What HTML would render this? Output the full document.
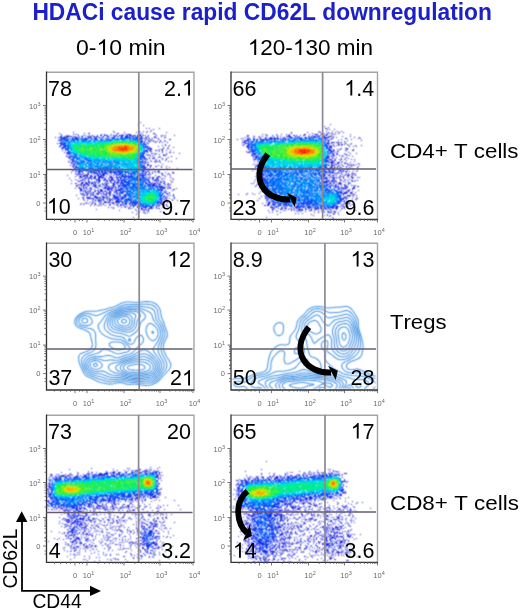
<!DOCTYPE html>
<html><head><meta charset="utf-8"><style>
html,body{margin:0;padding:0;background:#fff;width:520px;height:610px;overflow:hidden}
svg{display:block;will-change:transform}
text{font-family:"Liberation Sans",sans-serif;font-kerning:none}
</style></head><body>
<svg width="520" height="610" viewBox="0 0 520 610">
<rect width="520" height="610" fill="#fff"/>
<path d="M46.5 72.3H194.0V219.0" fill="none" stroke="#a4a4a4" stroke-width="1.4"/>
<path d="M46.5 71.6V219.4H194.6" fill="none" stroke="#333" stroke-width="1.3"/>
<path d="M43.0 105.5h3.5 M43.0 139.5h3.5 M43.0 174.5h3.5 M43.0 203.0h3.5 M44.5 129.3h2 M44.5 123.3h2 M44.5 119.0h2 M44.5 115.7h2 M44.5 113.0h2 M44.5 110.8h2 M44.5 108.8h2 M44.5 107.1h2 M44.5 164.0h2 M44.5 157.8h2 M44.5 153.4h2 M44.5 150.0h2 M44.5 147.3h2 M44.5 144.9h2 M44.5 142.9h2 M44.5 141.1h2 M44.5 194.4h2 M44.5 189.4h2 M44.5 185.8h2 M44.5 183.1h2 M44.5 180.8h2 M44.5 178.9h2 M44.5 177.3h2 M44.5 175.8h2 M44.5 211.0h2 M44.5 208.0h2 M44.5 198.0h2 M44.5 195.0h2 M44.5 190.0h2 M44.5 183.0h2 M75.0 219.0v3.5 M87.0 219.0v3.5 M124.0 219.0v3.5 M160.0 219.0v3.5 M193.0 219.0v3.5 M98.1 219.0v2 M104.7 219.0v2 M109.3 219.0v2 M112.9 219.0v2 M115.8 219.0v2 M118.3 219.0v2 M120.4 219.0v2 M122.3 219.0v2 M134.8 219.0v2 M141.2 219.0v2 M145.7 219.0v2 M149.2 219.0v2 M152.0 219.0v2 M154.4 219.0v2 M156.5 219.0v2 M158.4 219.0v2 M169.9 219.0v2 M175.7 219.0v2 M179.9 219.0v2 M183.1 219.0v2 M185.7 219.0v2 M187.9 219.0v2 M189.8 219.0v2 M191.5 219.0v2 M54.5 219.0v2 M60.5 219.0v2 M66.5 219.0v2 M70.5 219.0v2 M79.5 219.0v2 M82.5 219.0v2" stroke="#555" stroke-width="0.8" fill="none"/>
<text x="40.5" y="108.5" font-size="7.5" fill="#6a6a6a" text-anchor="end">10<tspan dy="-3" font-size="5.5">3</tspan></text>
<text x="40.5" y="142.5" font-size="7.5" fill="#6a6a6a" text-anchor="end">10<tspan dy="-3" font-size="5.5">2</tspan></text>
<text x="40.5" y="177.5" font-size="7.5" fill="#6a6a6a" text-anchor="end">10<tspan dy="-3" font-size="5.5">1</tspan></text>
<text x="40.5" y="205.8" font-size="7.5" fill="#6a6a6a" text-anchor="end">0</text>
<text x="75.0" y="235.0" font-size="7.5" fill="#6a6a6a" text-anchor="middle">0</text>
<text x="88.5" y="235.0" font-size="7.5" fill="#6a6a6a" text-anchor="middle">10<tspan dy="-3" font-size="5.5">1</tspan></text>
<text x="125.5" y="235.0" font-size="7.5" fill="#6a6a6a" text-anchor="middle">10<tspan dy="-3" font-size="5.5">2</tspan></text>
<text x="161.5" y="235.0" font-size="7.5" fill="#6a6a6a" text-anchor="middle">10<tspan dy="-3" font-size="5.5">3</tspan></text>
<text x="194.5" y="235.0" font-size="7.5" fill="#6a6a6a" text-anchor="middle">10<tspan dy="-3" font-size="5.5">4</tspan></text>
<path d="M231.0 72.3H377.5V219.0" fill="none" stroke="#a4a4a4" stroke-width="1.4"/>
<path d="M231.0 71.6V219.4H378.1" fill="none" stroke="#333" stroke-width="1.3"/>
<path d="M227.5 105.5h3.5 M227.5 139.5h3.5 M227.5 174.5h3.5 M227.5 203.0h3.5 M229.0 129.3h2 M229.0 123.3h2 M229.0 119.0h2 M229.0 115.7h2 M229.0 113.0h2 M229.0 110.8h2 M229.0 108.8h2 M229.0 107.1h2 M229.0 164.0h2 M229.0 157.8h2 M229.0 153.4h2 M229.0 150.0h2 M229.0 147.3h2 M229.0 144.9h2 M229.0 142.9h2 M229.0 141.1h2 M229.0 194.4h2 M229.0 189.4h2 M229.0 185.8h2 M229.0 183.1h2 M229.0 180.8h2 M229.0 178.9h2 M229.0 177.3h2 M229.0 175.8h2 M229.0 211.0h2 M229.0 208.0h2 M229.0 198.0h2 M229.0 195.0h2 M229.0 190.0h2 M229.0 183.0h2 M259.5 219.0v3.5 M271.5 219.0v3.5 M308.5 219.0v3.5 M344.5 219.0v3.5 M377.5 219.0v3.5 M282.6 219.0v2 M289.2 219.0v2 M293.8 219.0v2 M297.4 219.0v2 M300.3 219.0v2 M302.8 219.0v2 M304.9 219.0v2 M306.8 219.0v2 M319.3 219.0v2 M325.7 219.0v2 M330.2 219.0v2 M333.7 219.0v2 M336.5 219.0v2 M338.9 219.0v2 M341.0 219.0v2 M342.9 219.0v2 M354.4 219.0v2 M360.2 219.0v2 M364.4 219.0v2 M367.6 219.0v2 M370.2 219.0v2 M372.4 219.0v2 M374.3 219.0v2 M376.0 219.0v2 M239.0 219.0v2 M245.0 219.0v2 M251.0 219.0v2 M255.0 219.0v2 M264.0 219.0v2 M267.0 219.0v2" stroke="#555" stroke-width="0.8" fill="none"/>
<text x="225.0" y="108.5" font-size="7.5" fill="#6a6a6a" text-anchor="end">10<tspan dy="-3" font-size="5.5">3</tspan></text>
<text x="225.0" y="142.5" font-size="7.5" fill="#6a6a6a" text-anchor="end">10<tspan dy="-3" font-size="5.5">2</tspan></text>
<text x="225.0" y="177.5" font-size="7.5" fill="#6a6a6a" text-anchor="end">10<tspan dy="-3" font-size="5.5">1</tspan></text>
<text x="225.0" y="205.8" font-size="7.5" fill="#6a6a6a" text-anchor="end">0</text>
<text x="259.5" y="235.0" font-size="7.5" fill="#6a6a6a" text-anchor="middle">0</text>
<text x="273.0" y="235.0" font-size="7.5" fill="#6a6a6a" text-anchor="middle">10<tspan dy="-3" font-size="5.5">1</tspan></text>
<text x="310.0" y="235.0" font-size="7.5" fill="#6a6a6a" text-anchor="middle">10<tspan dy="-3" font-size="5.5">2</tspan></text>
<text x="346.0" y="235.0" font-size="7.5" fill="#6a6a6a" text-anchor="middle">10<tspan dy="-3" font-size="5.5">3</tspan></text>
<text x="379.0" y="235.0" font-size="7.5" fill="#6a6a6a" text-anchor="middle">10<tspan dy="-3" font-size="5.5">4</tspan></text>
<path d="M46.5 243.3H194.0V389.6" fill="none" stroke="#a4a4a4" stroke-width="1.4"/>
<path d="M46.5 242.6V390.0H194.6" fill="none" stroke="#333" stroke-width="1.3"/>
<path d="M43.0 276.1h3.5 M43.0 310.1h3.5 M43.0 345.1h3.5 M43.0 373.6h3.5 M44.5 299.9h2 M44.5 293.9h2 M44.5 289.6h2 M44.5 286.3h2 M44.5 283.6h2 M44.5 281.4h2 M44.5 279.4h2 M44.5 277.7h2 M44.5 334.6h2 M44.5 328.4h2 M44.5 324.0h2 M44.5 320.6h2 M44.5 317.9h2 M44.5 315.5h2 M44.5 313.5h2 M44.5 311.7h2 M44.5 365.0h2 M44.5 360.0h2 M44.5 356.4h2 M44.5 353.7h2 M44.5 351.4h2 M44.5 349.5h2 M44.5 347.9h2 M44.5 346.4h2 M44.5 381.6h2 M44.5 378.6h2 M44.5 368.6h2 M44.5 365.6h2 M44.5 360.6h2 M44.5 353.6h2 M75.0 389.6v3.5 M87.0 389.6v3.5 M124.0 389.6v3.5 M160.0 389.6v3.5 M193.0 389.6v3.5 M98.1 389.6v2 M104.7 389.6v2 M109.3 389.6v2 M112.9 389.6v2 M115.8 389.6v2 M118.3 389.6v2 M120.4 389.6v2 M122.3 389.6v2 M134.8 389.6v2 M141.2 389.6v2 M145.7 389.6v2 M149.2 389.6v2 M152.0 389.6v2 M154.4 389.6v2 M156.5 389.6v2 M158.4 389.6v2 M169.9 389.6v2 M175.7 389.6v2 M179.9 389.6v2 M183.1 389.6v2 M185.7 389.6v2 M187.9 389.6v2 M189.8 389.6v2 M191.5 389.6v2 M54.5 389.6v2 M60.5 389.6v2 M66.5 389.6v2 M70.5 389.6v2 M79.5 389.6v2 M82.5 389.6v2" stroke="#555" stroke-width="0.8" fill="none"/>
<text x="40.5" y="279.1" font-size="7.5" fill="#6a6a6a" text-anchor="end">10<tspan dy="-3" font-size="5.5">3</tspan></text>
<text x="40.5" y="313.1" font-size="7.5" fill="#6a6a6a" text-anchor="end">10<tspan dy="-3" font-size="5.5">2</tspan></text>
<text x="40.5" y="348.1" font-size="7.5" fill="#6a6a6a" text-anchor="end">10<tspan dy="-3" font-size="5.5">1</tspan></text>
<text x="40.5" y="376.4" font-size="7.5" fill="#6a6a6a" text-anchor="end">0</text>
<text x="75.0" y="405.6" font-size="7.5" fill="#6a6a6a" text-anchor="middle">0</text>
<text x="88.5" y="405.6" font-size="7.5" fill="#6a6a6a" text-anchor="middle">10<tspan dy="-3" font-size="5.5">1</tspan></text>
<text x="125.5" y="405.6" font-size="7.5" fill="#6a6a6a" text-anchor="middle">10<tspan dy="-3" font-size="5.5">2</tspan></text>
<text x="161.5" y="405.6" font-size="7.5" fill="#6a6a6a" text-anchor="middle">10<tspan dy="-3" font-size="5.5">3</tspan></text>
<text x="194.5" y="405.6" font-size="7.5" fill="#6a6a6a" text-anchor="middle">10<tspan dy="-3" font-size="5.5">4</tspan></text>
<path d="M231.0 243.3H377.5V389.6" fill="none" stroke="#a4a4a4" stroke-width="1.4"/>
<path d="M231.0 242.6V390.0H378.1" fill="none" stroke="#333" stroke-width="1.3"/>
<path d="M227.5 276.1h3.5 M227.5 310.1h3.5 M227.5 345.1h3.5 M227.5 373.6h3.5 M229.0 299.9h2 M229.0 293.9h2 M229.0 289.6h2 M229.0 286.3h2 M229.0 283.6h2 M229.0 281.4h2 M229.0 279.4h2 M229.0 277.7h2 M229.0 334.6h2 M229.0 328.4h2 M229.0 324.0h2 M229.0 320.6h2 M229.0 317.9h2 M229.0 315.5h2 M229.0 313.5h2 M229.0 311.7h2 M229.0 365.0h2 M229.0 360.0h2 M229.0 356.4h2 M229.0 353.7h2 M229.0 351.4h2 M229.0 349.5h2 M229.0 347.9h2 M229.0 346.4h2 M229.0 381.6h2 M229.0 378.6h2 M229.0 368.6h2 M229.0 365.6h2 M229.0 360.6h2 M229.0 353.6h2 M259.5 389.6v3.5 M271.5 389.6v3.5 M308.5 389.6v3.5 M344.5 389.6v3.5 M377.5 389.6v3.5 M282.6 389.6v2 M289.2 389.6v2 M293.8 389.6v2 M297.4 389.6v2 M300.3 389.6v2 M302.8 389.6v2 M304.9 389.6v2 M306.8 389.6v2 M319.3 389.6v2 M325.7 389.6v2 M330.2 389.6v2 M333.7 389.6v2 M336.5 389.6v2 M338.9 389.6v2 M341.0 389.6v2 M342.9 389.6v2 M354.4 389.6v2 M360.2 389.6v2 M364.4 389.6v2 M367.6 389.6v2 M370.2 389.6v2 M372.4 389.6v2 M374.3 389.6v2 M376.0 389.6v2 M239.0 389.6v2 M245.0 389.6v2 M251.0 389.6v2 M255.0 389.6v2 M264.0 389.6v2 M267.0 389.6v2" stroke="#555" stroke-width="0.8" fill="none"/>
<text x="225.0" y="279.1" font-size="7.5" fill="#6a6a6a" text-anchor="end">10<tspan dy="-3" font-size="5.5">3</tspan></text>
<text x="225.0" y="313.1" font-size="7.5" fill="#6a6a6a" text-anchor="end">10<tspan dy="-3" font-size="5.5">2</tspan></text>
<text x="225.0" y="348.1" font-size="7.5" fill="#6a6a6a" text-anchor="end">10<tspan dy="-3" font-size="5.5">1</tspan></text>
<text x="225.0" y="376.4" font-size="7.5" fill="#6a6a6a" text-anchor="end">0</text>
<text x="259.5" y="405.6" font-size="7.5" fill="#6a6a6a" text-anchor="middle">0</text>
<text x="273.0" y="405.6" font-size="7.5" fill="#6a6a6a" text-anchor="middle">10<tspan dy="-3" font-size="5.5">1</tspan></text>
<text x="310.0" y="405.6" font-size="7.5" fill="#6a6a6a" text-anchor="middle">10<tspan dy="-3" font-size="5.5">2</tspan></text>
<text x="346.0" y="405.6" font-size="7.5" fill="#6a6a6a" text-anchor="middle">10<tspan dy="-3" font-size="5.5">3</tspan></text>
<text x="379.0" y="405.6" font-size="7.5" fill="#6a6a6a" text-anchor="middle">10<tspan dy="-3" font-size="5.5">4</tspan></text>
<path d="M46.5 415.3H194.0V562.0" fill="none" stroke="#a4a4a4" stroke-width="1.4"/>
<path d="M46.5 414.6V562.4H194.6" fill="none" stroke="#333" stroke-width="1.3"/>
<path d="M43.0 448.5h3.5 M43.0 482.5h3.5 M43.0 517.5h3.5 M43.0 546.0h3.5 M44.5 472.3h2 M44.5 466.3h2 M44.5 462.0h2 M44.5 458.7h2 M44.5 456.0h2 M44.5 453.8h2 M44.5 451.8h2 M44.5 450.1h2 M44.5 507.0h2 M44.5 500.8h2 M44.5 496.4h2 M44.5 493.0h2 M44.5 490.3h2 M44.5 487.9h2 M44.5 485.9h2 M44.5 484.1h2 M44.5 537.4h2 M44.5 532.4h2 M44.5 528.8h2 M44.5 526.1h2 M44.5 523.8h2 M44.5 521.9h2 M44.5 520.3h2 M44.5 518.8h2 M44.5 554.0h2 M44.5 551.0h2 M44.5 541.0h2 M44.5 538.0h2 M44.5 533.0h2 M44.5 526.0h2 M75.0 562.0v3.5 M87.0 562.0v3.5 M124.0 562.0v3.5 M160.0 562.0v3.5 M193.0 562.0v3.5 M98.1 562.0v2 M104.7 562.0v2 M109.3 562.0v2 M112.9 562.0v2 M115.8 562.0v2 M118.3 562.0v2 M120.4 562.0v2 M122.3 562.0v2 M134.8 562.0v2 M141.2 562.0v2 M145.7 562.0v2 M149.2 562.0v2 M152.0 562.0v2 M154.4 562.0v2 M156.5 562.0v2 M158.4 562.0v2 M169.9 562.0v2 M175.7 562.0v2 M179.9 562.0v2 M183.1 562.0v2 M185.7 562.0v2 M187.9 562.0v2 M189.8 562.0v2 M191.5 562.0v2 M54.5 562.0v2 M60.5 562.0v2 M66.5 562.0v2 M70.5 562.0v2 M79.5 562.0v2 M82.5 562.0v2" stroke="#555" stroke-width="0.8" fill="none"/>
<text x="40.5" y="451.5" font-size="7.5" fill="#6a6a6a" text-anchor="end">10<tspan dy="-3" font-size="5.5">3</tspan></text>
<text x="40.5" y="485.5" font-size="7.5" fill="#6a6a6a" text-anchor="end">10<tspan dy="-3" font-size="5.5">2</tspan></text>
<text x="40.5" y="520.5" font-size="7.5" fill="#6a6a6a" text-anchor="end">10<tspan dy="-3" font-size="5.5">1</tspan></text>
<text x="40.5" y="548.8" font-size="7.5" fill="#6a6a6a" text-anchor="end">0</text>
<text x="75.0" y="578.0" font-size="7.5" fill="#6a6a6a" text-anchor="middle">0</text>
<text x="88.5" y="578.0" font-size="7.5" fill="#6a6a6a" text-anchor="middle">10<tspan dy="-3" font-size="5.5">1</tspan></text>
<text x="125.5" y="578.0" font-size="7.5" fill="#6a6a6a" text-anchor="middle">10<tspan dy="-3" font-size="5.5">2</tspan></text>
<text x="161.5" y="578.0" font-size="7.5" fill="#6a6a6a" text-anchor="middle">10<tspan dy="-3" font-size="5.5">3</tspan></text>
<text x="194.5" y="578.0" font-size="7.5" fill="#6a6a6a" text-anchor="middle">10<tspan dy="-3" font-size="5.5">4</tspan></text>
<path d="M231.0 415.3H377.5V562.0" fill="none" stroke="#a4a4a4" stroke-width="1.4"/>
<path d="M231.0 414.6V562.4H378.1" fill="none" stroke="#333" stroke-width="1.3"/>
<path d="M227.5 448.5h3.5 M227.5 482.5h3.5 M227.5 517.5h3.5 M227.5 546.0h3.5 M229.0 472.3h2 M229.0 466.3h2 M229.0 462.0h2 M229.0 458.7h2 M229.0 456.0h2 M229.0 453.8h2 M229.0 451.8h2 M229.0 450.1h2 M229.0 507.0h2 M229.0 500.8h2 M229.0 496.4h2 M229.0 493.0h2 M229.0 490.3h2 M229.0 487.9h2 M229.0 485.9h2 M229.0 484.1h2 M229.0 537.4h2 M229.0 532.4h2 M229.0 528.8h2 M229.0 526.1h2 M229.0 523.8h2 M229.0 521.9h2 M229.0 520.3h2 M229.0 518.8h2 M229.0 554.0h2 M229.0 551.0h2 M229.0 541.0h2 M229.0 538.0h2 M229.0 533.0h2 M229.0 526.0h2 M259.5 562.0v3.5 M271.5 562.0v3.5 M308.5 562.0v3.5 M344.5 562.0v3.5 M377.5 562.0v3.5 M282.6 562.0v2 M289.2 562.0v2 M293.8 562.0v2 M297.4 562.0v2 M300.3 562.0v2 M302.8 562.0v2 M304.9 562.0v2 M306.8 562.0v2 M319.3 562.0v2 M325.7 562.0v2 M330.2 562.0v2 M333.7 562.0v2 M336.5 562.0v2 M338.9 562.0v2 M341.0 562.0v2 M342.9 562.0v2 M354.4 562.0v2 M360.2 562.0v2 M364.4 562.0v2 M367.6 562.0v2 M370.2 562.0v2 M372.4 562.0v2 M374.3 562.0v2 M376.0 562.0v2 M239.0 562.0v2 M245.0 562.0v2 M251.0 562.0v2 M255.0 562.0v2 M264.0 562.0v2 M267.0 562.0v2" stroke="#555" stroke-width="0.8" fill="none"/>
<text x="225.0" y="451.5" font-size="7.5" fill="#6a6a6a" text-anchor="end">10<tspan dy="-3" font-size="5.5">3</tspan></text>
<text x="225.0" y="485.5" font-size="7.5" fill="#6a6a6a" text-anchor="end">10<tspan dy="-3" font-size="5.5">2</tspan></text>
<text x="225.0" y="520.5" font-size="7.5" fill="#6a6a6a" text-anchor="end">10<tspan dy="-3" font-size="5.5">1</tspan></text>
<text x="225.0" y="548.8" font-size="7.5" fill="#6a6a6a" text-anchor="end">0</text>
<text x="259.5" y="578.0" font-size="7.5" fill="#6a6a6a" text-anchor="middle">0</text>
<text x="273.0" y="578.0" font-size="7.5" fill="#6a6a6a" text-anchor="middle">10<tspan dy="-3" font-size="5.5">1</tspan></text>
<text x="310.0" y="578.0" font-size="7.5" fill="#6a6a6a" text-anchor="middle">10<tspan dy="-3" font-size="5.5">2</tspan></text>
<text x="346.0" y="578.0" font-size="7.5" fill="#6a6a6a" text-anchor="middle">10<tspan dy="-3" font-size="5.5">3</tspan></text>
<text x="379.0" y="578.0" font-size="7.5" fill="#6a6a6a" text-anchor="middle">10<tspan dy="-3" font-size="5.5">4</tspan></text>
<defs><filter id="bl" x="0" y="0" width="520" height="610" filterUnits="userSpaceOnUse"><feConvolveMatrix order="3" kernelMatrix="1 2 1 2 5 2 1 2 1" divisor="17" edgeMode="none"/></filter><filter id="bl3" x="0" y="0" width="520" height="610" filterUnits="userSpaceOnUse"><feConvolveMatrix order="3" kernelMatrix="1 2 1 2 8 2 1 2 1" divisor="20" edgeMode="none"/></filter></defs>
<g filter="url(#bl)">
<path d="M0 0.5m146 128h1m-33 4h1m-37 3h1m11 1h1m50 0h1m7 3h1m19 0h1m-17 2h1m-92 6h1m88 2h1m9 0h1m-14 5h1m-81 3h1m99 0h1m-13 2h1m10 10h1m-96 1h1m81 1h1m-3 1h1m20 0h1m-79 5h1m3 1h1m70 2h1m1 1h1m-102 2h1m16 1h1m-10 1h1m-4 1h1m87 1h1m11 1h1m-74 5h1m-28 2h1m10 0h1m85 1h1m-96 2h1m11 0h1m-10 5h1m21 1h1m20 2h1m21 3h1m1 2h1" stroke="#2929a3" stroke-width="1" fill="none"/>
<path d="M0 0.5m140 122h1m-2 9h1m-4 1h1m29 0h1m-108 1h1m24 0h1m4 0h1m64 0h1m-28 1h1m1 0h1m10 0h1m-52 1h1m14 0h1m1 0h2m6 0h1m15 0h1m12 0h1m4 0h1m7 0h1m6 0h1m-100 1h1m2 0h1m1 0h1m3 0h1m19 0h1m9 0h1m50 0h1m-100 1h1m40 0h1m45 0h1m13 0h1m8 0h1m-107 1h1m3 0h1m11 0h1m68 0h1m1 0h1m4 1h1m6 0h1m-8 1h1m8 0h1m3 0h1m0 1h1m-105 1h1m82 0h1m1 0h1m-90 1h1m88 1h1m-87 1h1m101 0h1m2 0h1m3 0h1m-2 1h1m4 1h1m-111 1h1m86 0h1m12 0h1m3 0h2m-10 1h1m2 0h1m-14 1h1m5 0h1m10 0h1m3 0h1m-21 1h1m11 0h1m6 1h1m-19 1h1m2 0h1m11 1h1m-17 1h1m2 0h1m9 0h1m-6 2h1m-90 1h1m75 0h1m20 0h1m9 0h1m-107 2h1m75 0h1m3 0h1m-82 2h1m75 0h1m2 0h1m6 0h1m4 0h1m-16 1h1m16 1h1m-93 1h1m87 0h1m-3 1h1m-11 1h1m3 0h1m18 0h1m-100 2h1m3 0h1m83 1h1m-11 1h1m9 0h1m-67 1h1m3 0h1m62 0h1m-65 1h1m19 0h1m52 0h1m4 0h1m-5 1h1m-103 1h1m9 0h1m6 0h1m15 0h1m1 0h1m6 0h1m52 0h1m-77 1h1m-5 1h1m26 0h1m39 0h2m6 0h1m-89 1h1m14 0h1m72 1h1m3 0h1m-82 1h1m19 0h1m-12 1h1m16 0h1m55 0h1m-80 1h1m33 0h1m32 0h1m1 0h1m2 0h1m-78 2h1m38 0h1m40 0h1m-83 1h1m18 1h1m3 0h1m5 0h1m2 0h2m5 0h1m3 0h1m-41 1h1m5 0h1m10 0h1m11 0h1m56 0h1m-91 1h1m3 0h1m1 1h1m92 0h1m-95 1h1m19 0h1m-21 1h1m7 0h1m16 0h1m-21 1h1m6 0h1m16 0h1m5 0h1m-36 1h1m5 0h1m14 0h1m6 0h1m8 0h1m45 0h1m-78 2h1m86 0h1m-78 1h1m20 0h1m-23 1h1m3 0h1m2 0h1m4 0h1m59 0h1m-85 1h1m4 0h1m4 0h1m13 0h1m61 0h1m-71 1h1m7 0h1m1 0h2m-24 1h1m12 0h1m9 0h1m1 0h1m53 0h1m5 0h1m4 0h1m-78 1h1m3 0h1m60 0h1m1 0h1m-78 1h1m14 0h1m61 0h1m2 0h1m-85 1h1m1 0h1m74 0h1m-84 1h1m14 0h1m3 0h1m16 0h1m-12 1h1m3 0h1m10 0h1m-3 1h1m10 1h1m21 0h1m16 0h1m-56 1h1m31 0h1m12 0h2m-18 1h1m-7 1h1m11 0h1m-6 2h2m-7 5h1" stroke="#2c2cbd" stroke-width="1" fill="none"/>
<path d="M0 0.5m138 124h1m4 1h1m15 3h1m-9 2h1m-14 1h1m4 0h1m3 0h1m-75 1h1m50 0h1m-37 1h1m29 0h1m23 0h1m10 0h1m-93 1h1m15 0h1m23 0h1m9 0h1m13 0h1m2 0h1m1 0h1m7 0h2m15 0h1m-90 1h1m1 0h1m14 0h1m1 0h1m11 0h1m7 0h1m20 0h1m13 0h1m4 0h1m15 0h1m12 0h1m-115 1h1m7 0h1m2 0h1m3 0h1m2 0h1m3 0h1m4 0h2m26 0h1m1 0h1m3 0h2m24 0h1m-90 1h1m1 0h2m3 0h2m7 0h1m47 0h1m2 0h1m4 0h1m8 0h1m1 0h1m3 0h2m7 0h2m-95 1h1m16 0h1m12 0h1m66 0h1m-76 1h1m61 0h1m1 0h1m-87 1h1m79 0h1m11 0h1m-10 1h1m4 0h1m5 0h1m3 1h1m-100 1h1m82 0h1m-81 1h1m101 0h1m-105 1h1m-3 1h1m103 1h1m-103 1h2m2 0h1m84 1h1m-1 1h1m5 0h1m1 0h1m3 0h1m-4 1h1m-96 1h1m3 0h1m101 0h1m-104 1h1m-2 1h1m92 0h1m3 0h1m-15 1h1m14 0h2m-99 1h1m3 0h1m80 0h1m-4 1h1m4 0h1m5 0h1m-12 1h1m3 0h2m7 0h1m-92 1h1m75 0h1m14 0h1m3 0h1m-12 1h1m9 0h1m-98 1h1m4 0h1m80 0h1m4 0h1m8 0h1m-27 1h1m-71 2h1m0 1h1m73 0h2m2 0h1m-79 1h1m2 0h1m73 0h1m4 0h1m5 1h1m-14 1h1m4 0h1m12 0h1m10 0h1m-35 1h1m2 0h1m3 0h1m-58 1h1m58 0h1m2 0h1m3 0h1m-85 1h1m5 0h1m19 0h1m13 0h1m-45 1h1m10 0h1m15 0h1m13 0h1m36 0h1m15 0h1m6 0h1m-94 1h1m23 0h1m2 0h1m9 0h1m24 0h1m3 0h1m6 0h1m8 0h1m-83 1h1m1 0h2m5 0h1m4 0h1m9 0h2m2 0h1m8 0h1m2 0h1m28 0h1m13 0h1m4 0h1m-81 1h1m2 0h1m4 0h1m8 0h1m44 0h1m5 0h1m8 0h1m5 0h1m-91 1h2m1 0h1m3 0h1m2 0h1m9 0h2m1 0h1m2 0h1m3 0h2m4 0h1m8 0h1m1 0h1m31 0h1m5 0h1m-79 1h1m1 0h3m6 0h1m12 0h1m40 0h1m5 0h1m1 0h1m-82 1h1m5 0h1m7 0h1m4 0h1m12 0h2m4 0h1m28 0h1m5 0h1m4 0h1m4 0h1m9 0h1m-98 1h1m6 0h2m7 0h1m12 0h2m3 0h1m6 0h1m1 0h1m29 0h2m5 0h2m1 0h1m14 0h1m-103 1h1m5 0h1m3 0h1m2 0h1m3 0h1m7 0h1m9 0h1m2 0h1m9 0h1m33 0h2m3 0h1m-45 1h1m2 0h2m30 0h1m6 0h1m1 0h1m1 0h1m3 0h1m-84 1h1m3 0h2m6 0h1m3 0h1m7 0h1m4 0h1m3 0h1m45 0h2m2 0h1m6 0h1m-96 1h1m8 0h1m5 0h1m3 0h1m2 0h1m7 0h2m14 0h1m30 0h1m5 0h1m3 0h2m3 0h1m-89 1h2m1 0h1m2 0h2m12 0h1m4 0h2m20 0h1m22 0h1m2 0h1m2 0h1m2 0h2m6 0h2m1 0h1m-90 1h1m2 0h2m2 0h2m5 0h2m9 0h1m7 0h1m3 0h1m3 0h1m29 0h1m1 0h1m-74 1h1m1 0h1m8 0h1m9 0h1m8 0h1m47 0h3m5 0h1m-90 1h1m16 0h1m1 0h1m7 0h1m1 0h1m5 0h1m46 0h1m9 0h1m-90 1h1m1 0h2m4 0h1m8 0h1m5 0h2m2 0h4m3 0h1m44 0h1m6 0h2m1 0h1m-80 1h1m2 0h1m14 0h1m4 0h1m46 0h1m11 0h1m-84 1h1m4 0h1m1 0h1m3 0h2m2 0h1m1 0h1m7 0h1m1 0h1m54 0h1m-90 1h1m3 0h1m2 0h1m4 0h1m5 0h1m7 0h2m5 0h1m47 0h1m-79 1h1m6 0h1m4 0h1m7 0h2m9 0h1m4 0h1m41 0h1m4 0h1m-83 1h1m9 0h2m7 0h1m14 0h1m44 0h2m-84 1h1m12 0h1m6 0h2m6 0h1m3 0h1m56 0h1m-82 1h1m2 0h1m13 0h1m3 0h1m54 0h1m1 0h1m-69 1h1m10 0h1m52 0h1m-84 1h1m2 0h2m9 0h2m18 0h1m4 0h1m42 0h1m8 0h1m-88 1h1m3 0h1m4 0h2m5 0h1m5 0h1m2 0h1m1 0h1m8 0h1m42 0h1m-74 1h1m19 0h1m1 0h1m2 0h1m10 0h1m42 0h1m-89 1h1m7 0h1m5 0h1m4 0h1m12 0h2m-9 1h1m8 0h1m-27 1h1m13 0h3m1 0h1m4 0h2m11 0h1m-45 1h1m7 0h1m2 0h1m4 0h1m21 0h1m7 0h1m30 0h1m-71 1h1m17 0h1m7 0h1m13 0h1m25 0h1m1 0h1m1 0h3m-74 1h1m3 0h1m2 0h1m1 0h1m1 0h1m39 0h1m-12 1h1m2 0h1m3 0h1m20 0h1m8 0h1m-43 1h1m11 0h1m5 0h1m6 0h1m2 0h1m8 0h1m-35 1h1m21 0h3m3 0h1m-13 1h1m-26 1h1m26 0h1m-15 2h1m14 0h1m-12 2h1m-4 3h1" stroke="#2525d8" stroke-width="1" fill="none"/>
<path d="M0 0.5m149 128h1m3 1h1m-41 2h1m36 0h1m-5 1h1m-30 1h1m-43 1h1m28 0h1m11 0h1m5 0h1m-31 1h1m7 0h2m8 0h1m2 0h1m2 0h1m2 0h2m2 0h1m5 0h1m1 0h1m2 0h1m4 0h1m2 0h1m22 0h1m-100 1h1m3 0h1m10 0h1m9 0h1m2 0h1m12 0h1m6 0h1m3 0h1m6 0h3m1 0h1m1 0h1m8 0h1m20 0h1m-99 1h2m2 0h1m4 0h1m2 0h1m3 0h1m9 0h2m3 0h1m4 0h1m2 0h1m4 0h1m3 0h1m1 0h1m6 0h1m5 0h3m6 0h1m12 0h1m15 0h1m-96 1h1m2 0h1m3 0h1m5 0h1m5 0h1m3 0h1m3 0h1m8 0h2m1 0h1m33 0h1m9 0h1m-93 1h2m12 0h2m1 0h1m23 0h1m68 0h1m-113 1h1m86 0h1m-4 1h1m7 0h1m6 0h1m2 0h1m-98 1h1m91 0h1m6 0h1m4 0h1m-109 1h1m1 0h1m82 0h1m3 0h1m-88 1h1m3 0h1m-6 2h1m3 0h1m80 0h1m1 0h1m-83 1h1m83 0h1m-3 1h3m1 0h1m-86 1h1m81 0h1m-87 1h1m83 0h1m-1 1h1m4 0h1m-5 1h1m25 0h1m-106 1h1m75 0h1m11 0h1m9 0h1m12 0h1m-112 1h1m1 0h1m75 0h1m8 0h1m-9 1h1m-82 1h1m2 0h1m72 0h3m14 0h1m11 0h1m-99 1h1m67 0h1m2 0h1m-75 1h1m81 0h1m-81 1h1m69 0h1m-67 1h1m82 0h1m-88 1h1m71 0h2m5 0h1m4 0h2m13 0h1m-25 1h1m-77 1h1m5 0h1m65 0h1m-70 1h1m72 0h2m-5 1h1m5 0h1m-7 1h1m16 0h1m4 0h1m-92 1h1m1 0h1m-4 1h2m13 0h1m53 0h1m1 0h1m-70 1h1m36 0h1m2 0h1m27 0h1m-72 1h1m2 0h1m2 0h2m14 0h1m1 0h2m2 0h1m42 0h1m4 0h1m-74 1h1m1 0h1m3 0h1m7 0h2m6 0h2m3 0h1m4 0h1m33 0h1m-65 1h2m11 0h1m1 0h2m6 0h2m2 0h1m5 0h1m2 0h1m3 0h1m27 0h1m11 0h1m-84 1h1m1 0h1m5 0h1m12 0h1m2 0h1m2 0h1m1 0h2m4 0h1m8 0h1m2 0h1m2 0h1m2 0h1m2 0h1m10 0h1m-67 1h1m1 0h1m8 0h1m9 0h2m1 0h1m1 0h1m8 0h1m2 0h1m2 0h1m2 0h1m24 0h1m1 0h1m2 0h1m-68 1h1m1 0h2m4 0h1m5 0h2m14 0h1m2 0h1m1 0h1m3 0h2m4 0h1m3 0h1m7 0h1m1 0h1m1 0h1m-70 1h1m3 0h1m4 0h1m7 0h1m1 0h2m2 0h2m28 0h3m12 0h1m14 0h1m-79 1h1m4 0h1m8 0h1m5 0h4m6 0h1m1 0h1m3 0h2m3 0h1m1 0h2m3 0h1m2 0h1m6 0h1m6 0h1m7 0h1m2 0h1m13 0h1m-83 1h1m2 0h1m2 0h2m6 0h1m2 0h1m2 0h1m11 0h2m7 0h1m3 0h2m18 0h1m10 0h1m-77 1h1m8 0h1m1 0h1m11 0h1m1 0h1m6 0h1m1 0h2m21 0h1m6 0h1m-71 1h1m16 0h1m3 0h2m2 0h1m3 0h2m1 0h1m3 0h1m5 0h1m16 0h1m5 0h2m6 0h1m-78 1h2m18 0h2m7 0h1m2 0h1m10 0h1m2 0h1m-43 1h1m5 0h2m1 0h2m2 0h1m15 0h1m6 0h1m1 0h1m13 0h1m14 0h1m7 0h1m-83 1h1m5 0h2m3 0h2m1 0h1m4 0h1m13 0h1m3 0h3m1 0h1m3 0h1m25 0h1m4 0h1m2 0h1m2 0h1m-74 1h1m8 0h1m9 0h1m20 0h1m3 0h1m5 0h1m3 0h1m9 0h1m2 0h1m2 0h1m-78 1h1m5 0h1m10 0h1m4 0h1m4 0h1m2 0h1m5 0h1m6 0h1m4 0h1m27 0h1m2 0h1m7 0h1m4 0h1m-76 1h1m5 0h1m5 0h1m6 0h1m14 0h1m15 0h1m17 0h1m-80 1h1m2 0h1m17 0h1m5 0h1m1 0h1m8 0h1m28 0h1m10 0h1m1 0h1m-84 1h1m5 0h1m3 0h2m20 0h1m14 0h1m34 0h1m1 0h1m-78 1h1m13 0h1m5 0h2m2 0h1m7 0h3m4 0h1m-46 1h2m1 0h2m3 0h1m21 0h2m3 0h1m1 0h3m40 0h1m3 0h1m-81 1h1m12 0h1m1 0h1m3 0h1m9 0h1m5 0h1m2 0h3m-37 1h1m9 0h1m10 0h1m54 0h1m-78 1h1m1 0h1m2 0h1m2 0h1m3 0h1m8 0h2m9 0h1m1 0h1m46 0h1m-89 1h1m9 0h1m1 0h1m9 0h1m2 0h1m2 0h1m4 0h1m2 0h1m44 0h1m-80 1h2m8 0h1m7 0h1m4 0h1m3 0h1m3 0h1m4 0h2m4 0h1m35 0h1m-72 1h1m12 0h1m1 0h1m8 0h2m2 0h1m1 0h1m5 0h1m37 0h1m-76 1h1m10 0h1m2 0h2m18 0h2m38 0h1m-75 1h1m2 0h1m7 0h1m15 0h1m1 0h1m2 0h1m52 0h1m-92 1h1m14 0h1m2 0h1m1 0h1m7 0h1m7 0h1m1 0h1m4 0h2m33 0h1m1 0h2m-70 1h1m3 0h1m7 0h1m10 0h1m42 0h1m5 0h1m-75 1h1m4 0h1m2 0h1m14 0h1m4 0h2m36 0h1m1 0h2m-77 1h1m12 0h1m4 0h1m4 0h1m2 0h2m3 0h1m8 0h1m3 0h1m3 0h1m24 0h1m1 0h1m-68 1h1m6 0h1m1 0h1m9 0h1m12 0h1m6 0h1m26 0h1m-78 1h1m26 0h1m3 0h1m5 0h1m2 0h1m1 0h2m2 0h1m2 0h1m33 0h1m-50 1h1m3 0h1m1 0h1m6 0h1m2 0h3m6 0h1m13 0h1m2 0h1m3 0h1m2 0h1m-42 1h1m1 0h1m12 0h1m5 0h1m2 0h2m1 0h1m3 0h1m-49 1h1m2 0h1m1 0h1m7 0h1m16 0h1m2 0h1m3 0h2m9 0h1m-28 1h1m1 0h1m9 0h2m6 0h1m-15 1h1m5 0h1m6 0h1m-5 1h1m-6 1h1m20 0h1m9 0h1m-33 1h1m6 1h1" stroke="#181ef1" stroke-width="1" fill="none"/>
<path d="M0 0.5m140 132h1m-68 2h1m47 1h1m5 0h1m5 0h1m3 0h2m-78 1h1m34 0h2m34 0h2m1 0h1m1 0h2m-54 1h1m2 0h1m9 0h1m2 0h1m1 0h1m5 0h1m2 0h1m16 0h1m3 0h1m2 0h3m-74 1h1m1 0h1m5 0h1m10 0h1m5 0h1m4 0h1m4 0h1m13 0h1m18 0h2m1 0h1m2 0h2m8 0h1m-87 1h1m1 0h4m3 0h1m3 0h1m9 0h1m10 0h1m4 0h2m11 0h1m6 0h1m10 0h1m4 0h4m-83 1h2m4 0h1m7 0h1m12 0h1m61 0h1m-87 1h1m76 0h3m6 0h1m-85 1h1m77 0h1m-80 1h1m83 0h1m-86 1h1m1 0h1m78 0h3m-3 1h1m1 0h1m12 1h1m-96 1h2m80 0h1m1 0h1m-82 1h2m-1 1h1m-3 1h1m2 0h1m78 0h1m-80 1h2m75 0h1m1 0h1m-82 1h2m1 0h1m74 0h1m17 0h1m-93 1h1m71 0h2m8 0h1m-80 1h2m67 0h1m-2 1h2m-73 1h1m1 0h1m2 0h1m-7 1h1m7 0h2m60 0h1m-67 1h1m67 0h1m1 0h2m1 0h1m-69 1h1m-7 1h1m8 0h1m14 0h1m-22 1h1m7 0h1m1 0h1m52 0h1m1 0h1m1 0h2m-73 1h2m2 0h1m5 0h1m2 0h1m32 0h1m-45 1h2m27 0h1m36 0h1m2 0h1m1 0h1m-67 1h1m26 0h1m6 0h1m28 0h1m-68 1h1m67 0h2m-72 1h1m22 0h1m47 0h1m-71 1h1m2 0h1m28 0h1m35 0h5m-63 1h1m8 0h1m13 0h1m4 0h1m32 0h1m-59 1h1m1 0h1m1 0h1m4 0h2m2 0h1m1 0h1m7 0h2m31 0h1m-61 1h1m1 0h1m1 0h3m7 0h1m8 0h2m1 0h1m1 0h1m2 0h1m1 0h2m8 0h1m16 0h2m3 0h1m-69 1h2m5 0h1m1 0h2m3 0h1m2 0h1m10 0h1m2 0h2m2 0h1m3 0h2m6 0h1m8 0h1m7 0h1m1 0h1m1 0h1m9 0h1m-70 1h1m17 0h1m2 0h2m2 0h1m2 0h2m1 0h2m5 0h1m16 0h1m1 0h1m9 0h1m-76 1h1m7 0h1m5 0h1m2 0h1m2 0h1m6 0h1m6 0h1m5 0h2m7 0h1m2 0h3m2 0h1m6 0h1m4 0h1m12 0h1m-78 1h1m32 0h1m12 0h1m2 0h1m1 0h1m2 0h2m1 0h2m-64 1h1m20 0h1m1 0h1m21 0h2m7 0h1m2 0h3m1 0h1m3 0h1m-25 1h4m1 0h1m7 0h1m7 0h1m-62 1h1m17 0h1m14 0h1m3 0h2m9 0h1m6 0h1m3 0h1m1 0h2m4 0h1m-63 1h1m2 0h1m14 0h1m27 0h1m5 0h1m1 0h1m1 0h2m3 0h1m-52 1h1m1 0h1m13 0h1m4 0h1m7 0h1m4 0h1m3 0h1m4 0h1m1 0h1m1 0h2m1 0h1m-62 1h1m12 0h1m11 0h1m11 0h2m5 0h2m4 0h1m1 0h1m4 0h1m1 0h1m11 0h1m-69 1h1m5 0h1m30 0h2m1 0h2m10 0h1m3 0h2m-47 1h1m16 0h1m4 0h2m1 0h1m1 0h1m1 0h2m1 0h1m9 0h1m3 0h2m-45 1h1m1 0h1m13 0h1m4 0h1m2 0h1m1 0h2m1 0h2m3 0h1m4 0h1m5 0h1m1 0h1m5 0h1m-61 1h1m6 0h1m10 0h2m8 0h1m9 0h1m6 0h1m1 0h2m1 0h1m6 0h1m12 0h1m-73 1h1m4 0h1m13 0h1m6 0h1m1 0h1m1 0h2m1 0h1m5 0h1m1 0h1m12 0h1m1 0h1m9 0h1m-73 1h1m30 0h1m3 0h1m2 0h1m7 0h1m17 0h4m2 0h2m9 0h1m-79 1h1m25 0h1m1 0h1m1 0h1m5 0h2m4 0h1m2 0h1m8 0h1m7 0h1m2 0h3m1 0h1m2 0h1m6 0h1m-67 1h1m2 0h2m13 0h2m1 0h1m7 0h1m20 0h1m9 0h1m-84 1h1m19 0h1m15 0h1m1 0h1m4 0h1m3 0h1m15 0h1m7 0h1m5 0h1m2 0h1m1 0h1m-65 1h1m10 0h1m12 0h1m37 0h1m1 0h1m-69 1h1m7 0h1m23 0h1m2 0h2m35 0h1m-64 1h1m10 0h1m1 0h1m2 0h1m1 0h1m1 0h1m2 0h1m2 0h1m1 0h1m5 0h1m21 0h1m1 0h1m-80 1h2m7 0h1m27 0h1m10 0h1m31 0h1m-81 1h1m4 0h1m10 0h1m20 0h1m4 0h3m33 0h1m6 0h1m-78 1h1m32 0h2m2 0h1m31 0h1m-66 1h2m11 0h1m8 0h1m5 0h1m2 0h1m3 0h1m33 0h1m-82 1h1m5 0h1m5 0h1m1 0h1m9 0h1m2 0h1m3 0h1m1 0h2m2 0h1m1 0h1m3 0h1m6 0h1m28 0h1m-57 1h1m9 0h1m1 0h1m2 0h1m1 0h1m4 0h1m34 0h1m2 0h1m-71 1h1m6 0h1m14 0h1m4 0h1m2 0h1m2 0h1m1 0h2m27 0h2m5 0h1m-58 1h1m10 0h1m3 0h1m4 0h1m1 0h1m-37 1h1m9 0h1m9 0h1m1 0h1m1 0h2m3 0h1m1 0h1m3 0h1m1 0h1m4 0h1m-19 1h1m2 0h2m1 0h1m5 0h3m2 0h1m20 0h1m2 0h1m-49 1h1m5 0h1m5 0h2m3 0h1m2 0h1m1 0h1m1 0h1m20 0h1m-37 1h1m13 0h2m-5 1h1m7 0h1m11 0h1m5 0h1m-21 1h2m2 0h4m5 0h1m-19 1h1m5 1h1m8 0h1m-53 1h1m46 1h1" stroke="#133ef4" stroke-width="1" fill="none"/>
<path d="M0 0.5m61 135h1m60 0h1m12 0h1m-28 1h1m-33 1h2m4 0h1m31 0h1m6 0h1m2 0h1m-63 1h1m1 0h1m5 0h1m6 0h1m2 0h2m3 0h3m6 0h1m17 0h2m2 0h3m1 0h3m1 0h1m1 0h2m1 0h1m1 0h2m4 0h1m3 0h1m-78 1h1m6 0h1m1 0h1m8 0h1m1 0h2m1 0h1m4 0h1m1 0h3m3 0h1m5 0h6m2 0h1m20 0h3m-72 1h3m1 0h1m3 0h1m9 0h2m3 0h3m3 0h1m4 0h1m3 0h2m3 0h3m25 0h2m3 0h1m-82 1h1m21 0h1m-24 1h1m4 0h1m74 0h2m-80 1h1m2 0h1m74 0h2m-79 2h4m-4 1h1m1 0h4m77 0h1m1 0h1m-81 1h1m77 0h1m-79 1h1m75 0h1m-80 1h1m2 0h1m77 0h1m-80 1h1m75 0h1m1 0h1m-2 1h1m-75 1h1m72 0h1m-75 1h1m70 0h1m2 1h1m-75 1h1m1 0h1m2 0h1m1 0h1m63 0h1m2 0h1m-70 1h1m66 0h1m-71 1h1m2 0h1m6 0h1m2 0h1m55 0h1m2 0h1m-72 1h1m1 0h1m2 0h1m1 0h1m5 0h2m3 0h1m49 0h1m-65 1h2m7 0h2m11 0h1m41 0h2m2 0h2m-73 1h2m8 0h1m2 0h1m1 0h3m14 0h2m6 0h1m28 0h1m-69 1h1m6 0h1m2 0h1m3 0h3m18 0h1m1 0h1m27 0h1m1 0h1m-62 1h1m13 0h2m2 0h1m1 0h1m8 0h1m30 0h1m-66 1h1m2 0h1m4 0h1m2 0h1m10 0h3m4 0h1m10 0h1m1 0h1m-41 1h1m1 0h1m21 0h1m7 0h1m-34 1h1m5 0h1m2 0h1m3 0h2m9 0h1m-26 1h1m21 0h1m2 0h1m10 0h1m28 0h1m-53 1h1m2 0h2m5 0h1m4 0h1m3 0h2m1 0h1m8 0h1m-43 1h3m2 0h1m5 0h1m1 0h1m9 0h1m6 0h1m6 0h2m23 0h1m1 0h1m-64 1h3m1 0h1m1 0h1m6 0h2m5 0h1m1 0h1m2 0h4m11 0h4m-44 1h1m6 0h1m4 0h1m3 0h1m7 0h1m1 0h1m6 0h2m4 0h2m4 0h1m4 0h1m2 0h2m4 0h1m2 0h1m-47 1h1m7 0h1m1 0h2m3 0h1m3 0h1m3 0h1m2 0h4m1 0h1m1 0h1m2 0h1m5 0h2m-48 1h1m4 0h1m3 0h1m4 0h1m16 0h2m2 0h1m1 0h1m1 0h1m1 0h1m1 0h4m1 0h1m3 0h1m-56 1h1m3 0h1m46 0h1m1 0h1m-19 1h4m2 0h1m1 0h1m4 0h1m2 0h1m-19 1h2m8 0h2m11 0h1m-25 1h1m11 0h2m3 0h4m1 0h1m4 0h1m-27 1h1m4 0h2m3 0h1m1 0h1m-9 1h1m1 0h1m1 0h1m2 0h1m3 0h1m1 0h1m3 0h1m2 0h1m-21 1h1m1 0h1m4 0h1m1 0h1m2 0h1m1 0h1m1 0h1m-21 1h2m3 0h1m6 0h1m3 0h1m1 0h3m5 0h1m16 0h1m-68 1h1m18 0h1m6 0h1m4 0h1m2 0h1m8 0h1m2 0h2m4 0h1m-26 1h1m1 0h1m1 0h1m9 0h1m1 0h1m3 0h1m-52 1h1m28 0h1m12 0h1m8 0h1m1 0h1m-55 1h1m28 0h1m1 0h1m2 0h1m4 0h1m1 0h1m3 0h2m9 0h1m1 0h1m-23 1h1m5 0h1m6 0h3m2 0h1m2 0h1m1 0h1m4 0h1m-33 1h2m1 0h1m2 0h2m4 0h4m3 0h1m2 0h1m2 0h3m5 0h1m-42 1h1m7 0h1m1 0h1m4 0h1m2 0h2m1 0h1m1 0h1m1 0h1m1 0h1m3 0h1m-29 1h1m1 0h1m7 0h1m1 0h2m1 0h1m2 0h1m3 0h4m1 0h1m2 0h4m2 0h1m2 0h1m-36 1h1m2 0h1m20 0h1m3 0h1m7 0h2m-36 1h1m2 0h2m1 0h1m1 0h1m1 0h1m1 0h1m19 0h1m2 0h1m-39 1h2m4 0h2m4 0h2m13 0h1m12 0h1m-35 1h1m4 0h1m27 0h1m-33 1h1m-2 1h3m3 0h1m3 0h1m-9 1h1m1 0h2m1 0h1m4 0h1m24 0h1m-41 1h1m5 0h1m2 0h2m24 0h2m-47 1h1m14 0h2m4 0h1m1 0h1m22 0h1m-33 1h2m1 0h1m5 0h2m20 0h1m-28 1h1m1 0h2m-10 1h1m1 0h1m4 0h2m23 0h1m1 0h1m-34 1h1m6 0h1m1 0h1m21 0h1m-41 1h1m16 0h1m1 0h1m1 0h1m15 0h1m2 0h1m-24 1h1m3 0h1m1 0h1m14 0h1m1 0h1m-25 1h1m3 0h3m4 0h1m7 0h1m-16 1h1m4 0h1m1 0h2m1 0h1m5 0h1m-8 1h2m-5 1h1m-8 5h1" stroke="#0d5ef8" stroke-width="1" fill="none"/>
<path d="M0 0.5m62 137h1m32 0h1m29 1h1m4 0h1m4 0h1m-74 1h1m15 0h2m1 0h1m30 0h1m3 0h4m1 0h1m1 0h3m2 0h3m-68 1h2m6 0h1m4 0h3m2 0h3m9 0h2m1 0h1m1 0h1m2 0h2m3 0h2m22 0h1m1 0h1m2 0h1m3 0h1m-77 1h1m1 0h3m3 0h2m1 0h1m2 0h1m3 0h2m1 0h2m2 0h1m5 0h1m5 0h1m3 0h1m1 0h1m29 0h1m1 0h1m-72 1h1m1 0h2m3 0h1m19 0h1m-31 1h1m1 0h1m1 0h1m-2 1h2m71 0h1m1 0h1m-76 1h2m1 0h1m71 0h1m-74 1h1m73 0h2m-78 1h1m1 0h1m74 0h1m-76 1h3m-1 1h1m72 0h1m-74 1h1m72 0h1m-2 1h1m-73 1h2m68 0h2m-70 1h1m67 0h1m-67 1h1m64 0h1m-69 1h1m2 0h1m1 0h1m60 0h1m-66 1h1m2 0h1m3 0h1m58 0h2m-66 1h2m2 0h1m3 0h1m2 0h1m55 0h1m-67 1h1m5 0h1m1 0h1m2 0h1m51 0h1m-67 1h1m6 0h1m2 0h1m3 0h1m1 0h1m1 0h1m2 0h1m42 0h3m-61 1h2m1 0h1m4 0h1m3 0h1m1 0h2m4 0h2m14 0h1m3 0h1m4 0h1m5 0h1m5 0h1m2 0h1m-63 1h2m12 0h1m1 0h1m4 0h3m2 0h2m1 0h2m4 0h1m1 0h1m2 0h2m2 0h2m5 0h1m1 0h1m-55 1h4m2 0h2m3 0h2m1 0h2m10 0h3m2 0h2m2 0h1m2 0h3m1 0h2m9 0h1m6 0h2m1 0h1m1 0h1m-62 1h1m4 0h1m1 0h6m2 0h1m12 0h6m5 0h1m2 0h1m1 0h3m1 0h1m9 0h1m1 0h1m-65 1h1m7 0h2m3 0h3m1 0h1m12 0h1m8 0h1m1 0h1m6 0h1m3 0h1m10 0h2m-55 1h1m1 0h1m4 0h1m2 0h2m3 0h2m4 0h5m2 0h1m3 0h1m8 0h1m5 0h1m6 0h2m-64 1h1m1 0h1m5 0h1m3 0h1m3 0h1m1 0h1m1 0h1m4 0h1m1 0h3m1 0h1m2 0h1m2 0h1m2 0h2m3 0h1m14 0h1m2 0h2m-65 1h1m1 0h4m1 0h2m3 0h1m3 0h1m2 0h1m2 0h3m1 0h1m1 0h1m4 0h1m2 0h1m1 0h2m6 0h1m2 0h1m4 0h1m7 0h1m-60 1h1m13 0h1m1 0h3m2 0h4m3 0h2m2 0h1m2 0h2m9 0h1m2 0h2m1 0h1m2 0h1m-56 1h1m1 0h1m1 0h1m7 0h2m2 0h1m9 0h2m6 0h1m10 0h1m3 0h1m7 0h2m-57 1h1m7 0h2m6 0h2m6 0h1m11 0h4m7 0h1m5 0h1m4 0h1m-18 1h1m3 0h1m3 0h3m5 0h1m-26 1h1m8 0h1m3 0h1m3 0h1m-3 1h1m2 1h1m-43 2h1m41 0h1m1 1h1m1 0h1m6 0h1m-9 1h1m2 0h1m-13 1h2m6 0h1m1 0h1m-10 1h1m2 0h1m1 0h1m-2 1h1m2 0h1m1 0h1m-6 1h1m2 0h1m2 0h1m3 0h1m5 0h1m-22 1h1m2 0h1m6 0h1m1 0h1m-14 1h1m2 0h1m5 0h1m3 0h1m1 0h1m-14 1h2m5 0h1m1 0h1m1 0h1m4 0h1m16 0h1m-31 1h2m1 0h1m5 0h2m4 0h1m-23 1h1m4 0h1m9 0h1m3 0h1m4 0h1m-23 1h1m2 0h1m7 0h3m12 0h1m5 0h1m-29 1h4m1 0h6m3 0h1m8 0h2m-26 1h1m3 0h1m1 0h1m1 0h1m3 0h1m4 0h4m7 0h2m-28 1h1m4 0h1m1 0h3m2 0h1m14 0h1m-24 1h1m2 0h1m1 0h1m-15 1h2m1 0h1m1 0h2m5 0h1m4 0h1m15 0h2m-31 1h1m1 0h1m2 0h2m3 0h1m18 0h1m-32 1h1m1 0h1m4 0h1m4 0h1m1 0h1m15 0h1m1 0h1m1 0h1m-26 1h1m23 0h1m-31 1h1m1 0h2m4 0h1m-15 1h1m7 0h1m26 0h2m-26 1h1m-40 1h1m27 0h1m1 0h1m2 0h1m5 0h1m-12 1h1m5 0h1m1 0h1m1 0h1m2 0h2m15 0h1m-18 1h1m1 0h1m13 0h1m-18 1h1m2 0h1m1 0h3m6 0h1m2 0h1m-13 1h3m1 0h1m1 0h1m1 0h1m1 0h1m-4 1h1m1 0h1m1 0h1" stroke="#0885fb" stroke-width="1" fill="none"/>
<path d="M0 0.5m123 138h1m-34 1h1m22 0h1m13 0h1m4 0h1m1 0h1m-63 1h1m7 0h1m7 0h1m8 0h1m10 0h1m3 0h1m9 0h3m6 0h1m2 0h1m-67 1h3m2 0h1m1 0h1m2 0h2m6 0h2m1 0h2m6 0h3m1 0h3m4 0h1m25 0h1m2 0h1m-70 1h1m3 0h1m3 0h2m3 0h1m5 0h3m1 0h1m-23 1h1m1 0h1m66 0h1m-70 1h1m69 0h1m1 0h1m-73 1h1m72 1h1m-72 1h1m70 0h2m-2 1h2m-74 1h1m71 1h1m-73 1h1m3 1h1m-4 1h1m2 0h3m-1 1h2m2 0h1m57 0h2m1 0h1m-64 1h3m58 0h1m-61 1h1m1 0h2m1 0h1m-3 1h1m2 0h1m2 0h1m48 0h2m-61 1h1m2 0h1m6 0h2m6 0h2m3 0h1m7 0h1m25 0h1m-57 1h1m4 0h1m3 0h1m6 0h3m2 0h1m1 0h4m2 0h1m2 0h1m3 0h2m2 0h1m3 0h1m2 0h1m8 0h1m-44 1h1m2 0h1m1 0h2m2 0h3m6 0h2m2 0h1m1 0h3m3 0h1m4 0h1m9 0h2m-63 1h1m3 0h1m1 0h1m4 0h1m6 0h1m2 0h1m4 0h1m2 0h1m2 0h1m4 0h1m1 0h2m3 0h1m2 0h2m2 0h1m1 0h1m4 0h1m-43 1h2m3 0h1m3 0h1m4 0h1m3 0h1m2 0h1m8 0h1m1 0h2m1 0h1m2 0h4m1 0h1m-57 1h1m1 0h2m11 0h1m1 0h1m4 0h1m4 0h1m9 0h1m1 0h1m1 0h2m5 0h1m2 0h1m6 0h1m-58 1h1m2 0h1m4 0h1m3 0h1m3 0h3m1 0h1m1 0h1m7 0h2m7 0h3m1 0h1m1 0h2m4 0h2m-54 1h3m9 0h2m1 0h2m2 0h1m4 0h1m8 0h1m2 0h2m4 0h2m1 0h1m1 0h1m2 0h3m6 0h2m-57 1h1m3 0h2m2 0h2m8 0h1m2 0h1m3 0h1m1 0h1m2 0h2m1 0h1m3 0h1m5 0h2m1 0h1m3 0h1m-45 1h1m3 0h1m2 0h1m2 0h1m9 0h1m3 0h1m1 0h1m2 0h1m1 0h1m7 0h1m2 0h1m2 0h3m-57 1h1m3 0h1m6 0h1m1 0h1m7 0h1m6 0h1m10 0h1m1 0h2m12 0h1m-34 1h1m8 0h1m5 0h1m4 0h1m4 0h1m1 0h1m5 0h1m1 0h1m-14 1h1m4 0h1m4 0h2m2 0h1m-2 2h1m-5 5h2m-3 2h1m1 1h1m8 0h1m-10 1h1m-2 2h1m1 0h1m4 0h1m1 0h1m0 3h1m-13 1h1m5 0h1m-3 1h1m8 0h1m-11 1h1m6 0h1m3 0h1m1 0h3m5 0h1m-18 1h1m3 0h1m11 0h1m-14 1h2m2 0h1m3 0h1m3 0h1m2 0h2m-38 1h1m12 0h1m5 0h1m3 0h1m1 0h1m3 0h1m6 0h1m-24 1h5m2 0h1m1 0h1m12 0h1m1 0h2m-21 1h2m1 0h1m2 0h1m12 0h1m3 0h1m-26 1h3m2 0h1m3 0h1m-18 1h1m2 0h1m4 0h1m1 0h1m19 0h1m-23 1h1m1 0h1m2 0h1m-6 1h1m21 0h1m-35 1h1m13 0h3m-6 1h1m4 0h1m15 0h2m-18 1h3m13 0h2m-5 1h1m2 0h1m-19 1h1m6 0h1m1 0h1m2 0h1m1 0h2m-13 1h1m5 0h1m6 0h2m-9 1h1" stroke="#04b3fd" stroke-width="1" fill="none"/>
<path d="M0 0.5m120 139h1m-2 1h1m1 0h1m3 0h3m8 0h1m-45 1h2m1 0h1m9 0h1m1 0h1m1 0h4m20 0h1m1 0h1m-61 1h1m2 0h3m1 0h1m1 0h3m3 0h1m1 0h2m6 0h2m4 0h2m29 0h2m-72 1h1m2 0h1m3 0h3m2 0h1m5 0h2m1 0h1m1 0h2m3 0h1m43 0h1m-69 1h2m-2 1h1m68 0h2m-72 1h1m-1 1h1m2 0h1m67 1h1m-69 1h1m-4 1h1m1 0h3m66 0h1m-70 1h2m-1 1h1m1 0h1m63 0h2m-69 1h1m4 0h1m3 0h1m57 0h1m-61 1h1m1 1h2m1 0h2m50 0h2m-55 1h1m5 0h1m47 0h2m-52 1h1m2 0h2m1 0h2m4 0h1m2 0h1m-28 1h1m4 0h1m10 0h2m2 0h1m3 0h1m7 0h1m3 0h2m1 0h2m3 0h1m3 0h1m1 0h1m11 0h2m-49 1h1m1 0h2m7 0h1m8 0h1m1 0h1m5 0h1m1 0h1m1 0h1m5 0h1m7 0h1m-33 1h1m2 0h3m10 0h1m2 0h1m5 0h1m3 0h3m-41 1h2m13 0h1m8 0h1m5 0h2m5 0h1m3 0h1m-51 1h1m9 0h1m8 0h1m17 0h1m14 0h1m-34 1h1m17 0h1m5 0h1m1 0h6m-55 1h1m3 0h1m7 0h1m8 0h1m3 0h1m6 0h1m1 0h1m1 0h1m3 0h1m6 0h2m3 0h2m1 0h2m-56 1h1m15 0h1m5 0h1m11 0h1m5 0h1m8 0h1m3 0h1m-56 1h2m6 0h1m9 0h1m21 0h2m1 0h2m2 0h1m1 0h1m1 0h1m1 0h1m4 0h1m-61 1h1m4 0h1m10 0h1m16 0h1m9 0h1m3 0h1m2 0h1m3 0h1m3 0h3m-55 1h1m32 0h1m4 0h1m1 0h1m2 0h1m3 0h1m1 0h1m2 0h1m2 0h1m-13 1h1m2 0h4m1 0h1m-10 1h1m5 0h1m1 3h1m4 9h1m0 5h1m-8 1h1m4 2h1m3 0h3m5 0h3m1 0h1m-12 1h1m1 0h2m2 0h1m4 0h1m-26 1h1m5 0h1m5 0h1m1 0h1m1 0h1m1 0h1m6 0h1m1 0h2m-20 1h1m4 0h1m1 0h1m5 0h1m3 0h1m1 1h1m-2 1h1m-23 1h1m3 0h1m2 0h3m11 0h1m-15 1h2m13 0h2m-20 1h3m15 0h1m-21 1h1m4 0h1m13 0h1m-18 1h1m1 0h2m12 0h1m-12 1h1m-3 1h2m2 0h1m1 1h2m-1 1h1" stroke="#00ddf9" stroke-width="1" fill="none"/>
<path d="M0 0.5m114 140h5m10 0h1m3 0h1m-21 1h1m15 0h2m1 0h1m-60 1h1m9 0h1m11 0h3m5 0h2m23 0h1m7 0h1m-59 1h1m2 0h1m2 0h1m2 0h1m1 0h1m4 0h1m2 0h5m2 0h1m-27 1h1m5 0h1m4 0h1m-13 1h2m7 0h1m6 0h1m-23 1h2m7 0h1m4 0h1m13 0h1m40 0h2m-70 1h1m2 0h1m2 0h1m-7 2h1m1 0h1m67 0h1m-68 1h2m1 0h1m-5 1h1m11 0h1m3 0h1m50 0h1m-63 1h1m-2 1h1m3 0h1m10 0h1m44 0h1m-58 1h5m1 0h1m49 0h1m-55 1h1m8 0h1m-8 1h1m2 0h1m3 0h1m1 0h1m2 0h2m2 0h1m2 0h1m2 0h1m28 0h1m-45 1h1m5 0h1m4 0h2m3 0h1m5 0h1m3 0h1m3 0h1m12 0h2m-44 1h1m4 0h1m4 0h1m1 0h2m13 0h1m3 0h1m2 0h1m8 0h1m-38 1h1m7 0h1m1 0h1m3 0h2m2 0h1m7 0h1m7 0h1m-13 1h1m3 0h2m1 0h1m3 0h1m0 1h1m1 0h1m1 0h1m-4 1h1m-54 2h1m45 0h1m5 0h1m2 0h1m-24 1h1m11 0h1m2 0h1m5 0h1m2 0h1m-59 1h1m5 0h1m45 0h1m4 0h1m-12 1h1m4 0h1m-7 1h1m4 0h1m8 0h1m3 21h1m-6 2h1m13 0h2m1 0h1m-14 1h1m5 0h1m2 0h2m1 0h2m-10 1h1m3 0h1m3 0h1m-9 1h1m9 0h2m-14 1h2m9 0h1m1 0h1m-2 1h1m1 0h1m-18 1h1m2 1h2m11 0h1m-16 1h1m12 0h2m1 0h1m-15 1h2m1 0h1m7 0h1m-10 1h2m4 0h1m2 0h1m-10 1h1m1 0h1m1 0h2m1 0h1m-7 1h1" stroke="#00e5c1" stroke-width="1" fill="none"/>
<path d="M0 0.5m114 141h3m1 0h3m7 0h1m2 0h1m-34 1h2m2 0h1m2 0h1m2 0h2m3 0h2m1 0h1m18 0h1m-64 1h1m4 0h1m2 0h1m1 0h2m12 0h1m5 0h1m2 0h2m30 0h1m-68 1h1m4 0h3m2 0h2m5 0h1m3 0h1m2 0h4m4 0h2m3 0h1m-34 1h1m1 0h1m2 0h5m1 0h1m1 0h3m2 0h1m4 0h1m40 0h2m-67 1h1m3 0h1m1 0h1m6 0h1m8 0h1m2 0h1m-4 1h1m1 0h1m42 0h2m-70 1h1m1 0h1m5 0h1m2 0h1m2 0h2m50 0h1m-61 1h1m2 0h1m11 0h1m5 0h1m40 0h2m-45 1h1m4 0h1m1 0h1m-29 1h1m2 0h1m5 0h1m8 0h1m1 0h1m-21 1h3m2 0h1m4 0h1m1 0h1m2 0h1m6 0h1m5 0h1m32 0h1m-58 1h1m3 0h1m3 0h1m15 0h1m27 0h1m2 0h1m-36 1h1m6 0h1m6 0h1m13 0h1m1 0h1m5 0h1m-51 1h1m2 0h1m5 0h1m2 0h1m26 0h1m4 0h1m-45 1h1m3 0h2m1 0h1m1 0h2m2 0h2m1 0h1m13 0h1m8 0h1m9 0h1m-47 1h1m5 0h2m3 0h1m5 0h1m4 0h3m5 0h1m1 0h1m2 0h1m-31 1h1m7 0h1m1 0h1m3 0h1m4 0h1m3 0h2m2 0h2m3 0h1m1 0h1m5 0h1m-14 1h1m2 0h1m2 0h1m1 0h4m-2 1h1m-28 5h1m30 1h1m1 0h1m14 26h1m-6 1h2m1 0h1m-9 1h2m2 0h3m2 0h2m-7 1h2m3 0h1m3 0h1m-15 1h1m10 0h2m-9 1h7m3 0h2m-10 1h1m-5 1h4m1 0h2m-5 1h1m1 0h1m3 0h2m-10 1h1m4 0h3m1 0h2m-10 1h1m3 0h1" stroke="#00ee89" stroke-width="1" fill="none"/>
<path d="M0 0.5m122 141h2m1 0h3m-18 1h2m5 0h1m1 0h2m2 0h1m1 0h1m1 0h1m1 0h1m2 0h1m1 0h1m-43 1h1m10 0h1m4 0h1m5 0h1m4 0h1m2 0h2m8 0h2m1 0h1m-63 1h2m4 0h1m3 0h1m2 0h1m1 0h1m1 0h1m1 0h2m4 0h3m3 0h1m28 0h1m-62 1h2m10 0h1m6 0h1m2 0h1m1 0h1m2 0h5m4 0h1m-33 1h1m10 0h1m1 0h1m3 0h2m1 0h2m5 0h1m5 0h1m-36 1h1m1 0h1m3 0h3m2 0h2m9 0h1m1 0h1m2 0h2m-30 1h1m2 0h1m1 0h2m4 0h1m3 0h2m2 0h1m1 0h1m1 0h1m1 0h1m3 0h1m36 0h2m-65 1h2m2 0h1m1 0h4m3 0h1m2 0h1m3 0h1m1 0h1m6 0h1m33 0h1m-63 1h1m2 0h1m5 0h4m3 0h2m4 0h2m38 0h2m-66 1h1m1 0h1m2 0h1m3 0h1m2 0h2m2 0h1m3 0h1m2 0h1m2 0h1m37 0h1m-60 1h1m2 0h1m1 0h1m4 0h1m2 0h2m1 0h2m1 0h1m2 0h1m2 0h4m3 0h1m23 0h1m-58 1h1m3 0h1m1 0h2m3 0h1m1 0h1m1 0h4m1 0h1m3 0h1m1 0h1m1 0h1m28 0h2m-49 1h6m1 0h4m1 0h1m2 0h1m1 0h1m5 0h1m3 0h1m3 0h1m11 0h2m1 0h1m-49 1h2m1 0h2m1 0h2m1 0h1m2 0h1m2 0h1m2 0h3m1 0h1m5 0h3m5 0h2m7 0h1m1 0h2m-33 1h1m1 0h1m4 0h2m6 0h1m4 0h2m8 0h1m-37 1h1m9 0h1m1 0h2m4 0h3m2 0h1m2 0h1m1 0h2m3 0h2m-16 1h1m13 0h2m1 0h1m0 1h1m19 34h1m-6 1h2m2 0h2m-7 1h1m1 0h1m-6 1h1m2 0h2m1 0h1m-8 1h1m8 0h2m-13 1h1m2 0h1m3 0h3m-2 1h4m-1 1h1m-7 1h1m3 1h1" stroke="#11ee57" stroke-width="1" fill="none"/>
<path d="M0 0.5m117 141h1m3 0h1m2 0h1m-13 1h1m8 0h2m1 0h1m5 0h2m1 0h1m-27 1h1m1 0h1m1 0h3m1 0h2m1 0h1m6 0h2m1 0h3m3 0h1m1 0h1m-36 1h1m3 0h2m1 0h2m1 0h1m26 0h1m-64 1h1m14 0h1m4 0h1m8 0h1m5 0h1m23 0h4m-64 1h2m2 0h1m2 0h4m3 0h1m1 0h3m8 0h2m1 0h1m1 0h1m31 0h2m-63 1h1m1 0h1m3 0h2m2 0h7m5 0h2m2 0h2m33 0h2m-65 1h1m1 0h1m3 0h1m3 0h1m7 0h1m1 0h1m3 0h1m3 0h1m-29 1h1m11 0h1m3 0h1m2 0h2m1 0h1m8 0h1m30 0h2m-60 1h1m2 0h1m1 0h2m5 0h2m2 0h1m2 0h1m2 0h1m1 0h1m2 0h1m30 0h2m-61 1h1m2 0h2m6 0h1m3 0h1m3 0h1m4 0h5m2 0h1m27 0h2m-57 1h1m1 0h1m2 0h1m1 0h1m2 0h1m7 0h1m2 0h1m5 0h1m1 0h1m-25 1h1m1 0h1m8 0h1m2 0h2m3 0h1m2 0h1m17 0h1m1 0h2m-45 1h1m1 0h1m14 0h1m1 0h1m3 0h1m1 0h1m1 0h1m5 0h1m1 0h2m2 0h1m3 0h1m1 0h1m2 0h1m-38 1h1m2 0h2m1 0h2m3 0h1m11 0h2m4 0h2m3 0h1m1 0h1m-26 1h1m3 0h3m6 0h2m4 0h4m1 0h1m1 0h1m-34 1h1m3 0h1m21 0h3m2 0h3m-6 1h1m2 0h1m18 35h1m-3 2h1m2 0h2m-8 1h2m6 0h1m-7 2h1m3 0h4m-9 1h1m0 1h3" stroke="#29eb28" stroke-width="1" fill="none"/>
<path d="M0 0.5m115 142h1m2 0h1m7 0h1m-17 1h1m6 0h1m3 0h1m5 0h1m-46 1h1m2 0h1m24 0h1m1 0h2m1 0h1m12 0h1m3 0h1m1 0h4m-40 1h1m6 0h3m-8 1h1m4 0h1m1 0h1m2 0h1m-17 1h1m10 0h2m29 0h1m-47 1h1m6 0h1m2 0h2m2 0h1m1 0h2m28 0h1m-58 1h1m6 0h1m1 0h1m1 0h1m11 0h3m2 0h1m28 0h1m-56 1h1m1 0h1m6 0h1m5 0h1m8 0h1m3 0h1m25 0h1m-53 1h1m8 0h1m6 0h2m6 0h1m28 0h1m-42 1h1m5 0h1m11 0h2m17 0h1m1 0h2m-45 1h1m8 0h1m7 0h1m1 0h1m2 0h4m1 0h2m1 0h1m2 0h1m3 0h1m4 0h2m-40 1h1m6 0h1m5 0h1m1 0h1m6 0h2m7 0h2m-18 1h5m3 0h2m2 0h1m5 0h2m-24 1h1m2 0h1m5 0h1m1 0h1m1 0h2m5 0h1m4 0h1m18 40h1m1 1h1m-7 1h1" stroke="#6ced17" stroke-width="1" fill="none"/>
<path d="M0 0.5m120 143h1m3 0h1m6 0h1m-16 1h1m1 0h1m1 0h1m8 0h3m-23 1h1m1 0h2m20 0h1m0 1h1m1 0h1m-30 1h1m1 0h1m27 0h1m-56 1h1m22 0h1m2 0h1m28 0h1m-38 1h2m6 0h1m26 0h1m-29 1h1m28 0h1m-25 1h1m18 0h3m1 0h1m-21 1h2m1 0h1m8 0h2m2 0h1m1 0h1m-23 1h2m4 0h1m2 0h1m1 0h2m1 0h1m5 0h1m-17 1h1m7 0h2" stroke="#afef06" stroke-width="1" fill="none"/>
<path d="M0 0.5m114 144h1m2 0h1m3 0h7m-14 1h2m15 0h2m-25 1h1m2 0h3m21 0h1m1 0h1m-30 1h1m0 1h1m25 0h1m-27 1h1m-2 1h1m2 0h1m19 0h2m1 0h1m-27 1h1m1 0h2m1 0h1m16 0h1m3 0h1m-11 1h1m1 0h1m-1 1h1" stroke="#dae300" stroke-width="1" fill="none"/>
<path d="M0 0.5m119 144h1m-7 1h1m2 0h1m1 0h1m1 0h1m2 0h1m6 0h1m-14 1h1m15 0h1m-24 1h1m2 0h1m1 0h1m14 0h1m4 0h1m-26 1h1m3 0h1m19 0h1m-25 1h1m22 0h2m-25 1h1m18 0h1m-12 1h1m9 0h1m-19 1h1m8 0h1m1 0h2m2 0h1m3 0h2" stroke="#f6ce00" stroke-width="1" fill="none"/>
<path d="M0 0.5m117 145h1m1 0h1m1 0h2m4 0h3m-10 1h1m2 0h1m4 0h3m1 0h1m-22 1h1m19 0h1m1 0h1m-23 1h2m3 0h1m11 0h1m1 0h1m1 0h2m-23 1h2m1 0h1m13 0h1m3 0h1m-21 1h1m3 0h1m7 0h1m5 0h1m2 0h1m-20 1h4m1 0h3m4 0h1m2 0h1m-13 1h1m2 0h1m2 0h1" stroke="#ffa700" stroke-width="1" fill="none"/>
<path d="M0 0.5m124 145h3m-13 1h1m1 0h1m2 0h1m7 0h1m3 0h1m-20 1h1m4 0h1m4 0h2m2 0h1m2 0h1m2 0h1m1 0h1m-22 1h1m1 0h1m1 0h2m8 0h1m1 0h1m1 0h1m-19 1h1m2 0h2m1 0h1m9 0h2m-18 1h1m1 0h1m2 0h1m8 0h2m-7 1h4m1 0h1" stroke="#ff7800" stroke-width="1" fill="none"/>
<path d="M0 0.5m115 146h1m5 0h2m3 0h1m-11 1h1m2 0h3m5 0h1m-8 1h2m1 0h1m-9 1h1m2 0h1m1 0h1m4 0h1m1 0h1m3 0h1m-18 1h1m2 0h1m2 0h3m2 0h2" stroke="#ff4e00" stroke-width="1" fill="none"/>
<path d="M0 0.5m118 146h1m5 0h2m-8 1h1m5 0h2m2 0h1m-10 1h1m2 0h1m1 0h3m-5 1h1m1 0h1m1 0h1m-8 1h1m3 0h1" stroke="#ff2400" stroke-width="1" fill="none"/>
<path d="M0 0.5m114 147h1m6 2h1m1 0h1" stroke="#f11600" stroke-width="1" fill="none"/>
<path d="M0 0.5m334 129h1m-15 3h1m14 0h1m-74 2h1m64 0h1m-25 1h1m-18 1h1m27 1h1m17 5h1m14 2h1m-7 4h1m-96 3h1m101 1h1m-12 2h1m6 5h1m9 0h1m-9 1h1m-2 2h1m4 0h1m-96 2h1m102 2h1m-20 7h1m14 0h1m-15 2h1m14 0h1m-9 1h1m-15 1h1m18 3h1m-13 3h1m0 4h1m11 1h1m-2 1h1m-7 3h1m-101 2h1m105 1h1m-1 9h1m-10 2h1m-72 1h1m71 1h1m-45 3h1m17 1h1m-21 1h1m30 3h1" stroke="#2929a3" stroke-width="1" fill="none"/>
<path d="M0 0.5m325 128h2m0 1h1m1 0h1m-39 3h1m15 0h1m10 0h1m24 0h1m-53 1h1m32 0h1m-60 1h1m39 0h1m27 0h1m1 0h1m-89 1h1m29 0h1m40 0h1m-72 1h1m6 0h1m4 0h1m29 0h1m21 0h1m11 0h1m4 0h1m1 0h2m18 0h1m-91 1h1m38 0h1m33 0h1m-91 1h1m16 0h1m15 0h1m1 0h1m4 0h1m76 0h1m-20 1h1m-100 1h1m95 0h1m-11 1h1m2 1h1m5 0h2m1 0h2m3 0h1m-1 1h1m-102 1h1m94 0h1m10 0h1m-13 1h1m-93 1h1m84 0h1m17 0h1m6 0h1m-110 1h1m82 0h1m0 1h1m-84 1h1m90 0h1m5 1h2m-14 1h1m-87 1h2m95 1h1m5 0h1m-6 1h1m1 1h1m-12 2h1m-82 1h1m72 0h1m3 0h1m-79 1h2m76 1h1m7 0h1m-8 1h1m3 2h1m7 0h1m1 0h1m10 0h1m-106 1h1m77 0h1m9 0h1m17 0h1m-18 1h1m-12 1h1m2 0h1m-77 1h1m76 0h1m1 0h1m1 0h1m-82 1h1m72 0h3m16 0h1m1 0h1m-99 1h1m78 0h1m-82 1h1m4 0h1m85 0h1m9 0h1m-14 1h1m1 0h2m-6 1h1m-83 1h1m85 1h1m3 0h1m6 0h1m1 0h1m-9 1h1m-18 1h1m10 0h1m9 0h1m-1 1h1m-16 1h1m-82 1h1m89 0h1m-15 2h1m2 0h1m19 0h1m-26 2h1m18 0h1m-1 1h1m-93 1h1m88 0h2m6 0h1m-99 1h1m86 1h1m2 0h1m7 0h1m-11 2h1m14 1h1m-99 1h1m1 0h1m83 0h1m5 0h1m2 1h1m-104 1h1m13 2h1m86 1h1m-8 1h1m-81 1h1m85 0h1m3 1h1m-10 2h1m-3 1h1m-79 2h1m75 0h1m-80 1h2m14 0h1m54 0h1m1 1h1m4 0h1m1 0h1m-48 1h1m-17 1h1m29 0h1m5 0h1m15 0h1m1 0h1m1 0h1m-50 1h1m26 0h1m20 0h1m-52 1h1m8 0h1m1 0h1m2 0h1m1 0h2m7 0h1m44 0h1m-79 1h1m56 0h1m-66 1h1m59 0h1m5 0h1m-3 1h1m-21 2h1m10 0h1m5 0h1" stroke="#2c2cbd" stroke-width="1" fill="none"/>
<path d="M0 0.5m330 124h1m-7 2h1m3 1h1m-10 4h1m6 0h1m5 0h1m4 0h1m3 0h1m-14 1h1m-17 1h1m8 0h1m5 0h1m1 0h1m1 0h2m-57 1h1m4 0h1m27 0h1m4 0h1m1 0h1m6 0h1m2 0h1m-79 1h1m17 0h2m4 0h1m15 0h2m3 0h2m5 0h1m3 0h1m26 0h1m-59 1h1m3 0h1m9 0h2m6 0h1m28 0h1m4 0h1m3 0h1m8 0h1m-98 1h1m12 0h1m6 0h1m4 0h2m2 0h1m29 0h1m14 0h1m4 0h1m3 0h1m7 0h1m-88 1h1m15 0h1m3 0h1m10 0h1m3 0h1m15 0h1m4 0h1m20 0h1m18 0h1m12 0h1m-106 1h1m77 0h1m19 0h1m-24 1h2m17 0h1m13 0h1m-118 1h1m-3 1h1m85 0h1m5 0h1m1 0h1m-9 1h2m21 0h1m-19 1h1m7 0h2m1 0h1m-16 1h1m1 0h1m1 0h1m2 0h1m4 0h1m6 0h1m6 0h1m5 0h1m-115 1h1m78 0h1m26 0h1m-25 2h1m15 0h3m-11 1h1m2 0h1m12 0h1m-25 1h1m1 0h1m20 0h2m-16 1h1m-90 1h1m3 0h1m-3 1h1m81 0h1m3 0h1m18 0h1m-24 1h1m-83 1h1m81 0h1m8 0h1m6 0h1m-97 1h1m1 0h1m77 0h1m7 0h1m1 0h1m8 0h1m-24 1h1m4 1h1m13 0h1m-96 1h1m75 0h2m4 0h1m5 0h1m9 0h1m-25 1h1m2 0h1m4 0h1m-82 1h1m73 0h1m2 0h2m-4 1h1m1 0h2m5 0h2m1 0h1m-11 1h2m5 0h1m-81 1h2m74 0h1m1 0h1m10 0h1m1 0h1m3 0h1m2 0h1m-28 1h1m1 0h1m1 0h1m4 0h2m10 0h1m1 0h1m-98 1h1m1 0h1m93 0h1m-97 1h1m74 0h1m3 0h1m5 0h1m8 0h1m7 0h1m-29 1h1m27 0h1m-96 1h1m71 0h1m3 0h1m1 0h1m1 0h1m-14 1h1m1 0h1m7 0h1m7 0h1m9 0h1m-100 1h1m64 0h1m14 0h1m6 0h2m2 0h1m6 0h1m-31 1h2m18 0h1m-58 1h1m32 0h1m9 0h1m1 0h1m6 0h1m6 0h1m3 0h1m-29 1h1m20 0h1m2 0h1m2 0h1m-90 1h2m64 0h2m3 0h2m1 0h1m7 0h1m4 0h1m2 0h1m-94 1h1m79 0h1m3 0h1m-86 1h2m67 0h1m3 0h1m8 0h1m11 0h2m5 0h1m-28 1h1m1 0h1m4 0h1m3 0h1m8 0h1m-32 1h1m18 0h1m-83 1h2m73 0h3m4 0h1m14 0h1m1 0h1m-104 1h1m70 0h1m2 0h2m22 0h1m-92 1h1m62 0h1m2 0h1m2 0h1m2 0h1m2 0h1m2 0h2m4 0h1m2 0h2m-93 1h1m83 0h1m2 1h1m-86 1h1m70 0h1m24 0h1m-95 1h1m1 0h1m62 0h1m6 0h1m1 0h1m2 0h1m6 0h1m1 0h1m6 0h1m2 0h2m-100 1h1m4 0h1m79 0h1m1 0h2m6 0h1m-15 1h1m1 0h1m1 0h1m7 0h1m1 0h1m-90 1h2m82 0h1m-1 1h1m-87 1h1m11 0h1m-11 1h1m81 0h1m2 0h2m-105 1h1m93 0h1m3 0h1m4 0h1m1 0h1m-115 1h1m15 0h1m88 0h1m9 0h1m-11 1h1m4 0h3m5 0h1m-96 1h1m3 0h3m1 0h1m75 0h1m-3 1h3m10 0h1m-92 1h1m79 0h1m11 0h1m-91 1h1m78 0h1m8 0h1m-90 1h1m20 0h1m64 0h1m-7 1h1m-79 1h3m16 0h1m59 0h1m-79 1h1m37 0h1m31 0h1m5 0h2m1 0h2m-82 1h1m5 0h1m72 0h1m5 0h1m-87 1h1m5 0h2m10 0h1m3 0h1m16 0h1m2 0h1m37 0h1m-77 1h1m35 0h1m4 0h1m2 0h1m24 0h1m6 0h1m-63 1h1m17 0h1m9 0h1m10 0h1m12 0h1m6 0h1m-73 1h1m1 0h1m3 0h1m10 0h1m1 0h1m4 0h1m2 0h1m14 0h1m21 0h1m4 0h2m-71 1h2m19 0h1m4 0h2m1 0h1m3 0h1m5 0h1m4 0h1m8 0h1m-54 1h1m3 0h1m6 0h1m27 0h1m11 0h1m6 0h2m8 0h1m-36 1h1m12 0h1m2 0h1m5 0h2m4 0h1m-62 1h1m7 0h1m33 0h1m13 0h1m1 0h1m7 0h1m-44 1h1m6 0h1m-26 1h1m49 0h1m5 0h1m4 0h1m-12 1h1m4 2h1" stroke="#2525d8" stroke-width="1" fill="none"/>
<path d="M0 0.5m339 132h1m-2 1h1m-53 1h1m17 0h1m10 0h1m1 0h1m3 0h1m-26 1h1m15 0h1m7 0h1m2 0h1m2 0h1m-65 1h1m17 0h1m16 0h1m10 0h2m3 0h1m-66 1h1m17 0h1m10 0h1m4 0h1m1 0h1m6 0h1m3 0h1m10 0h1m4 0h2m2 0h1m6 0h1m4 0h1m26 0h1m-114 1h1m5 0h1m6 0h1m16 0h2m1 0h1m10 0h1m21 0h1m1 0h1m3 0h1m10 0h2m6 0h1m13 0h1m-110 1h1m9 0h1m2 0h1m6 0h1m2 0h1m2 0h5m6 0h2m2 0h1m3 0h1m2 0h1m41 0h1m-84 1h2m20 0h1m26 0h1m33 0h1m-82 1h1m97 0h1m-102 1h3m87 0h1m-89 1h2m3 0h1m76 0h1m3 0h1m6 0h1m-91 1h1m76 0h1m12 0h1m-96 1h1m3 0h2m5 0h1m71 0h1m-79 1h1m78 0h1m2 0h1m3 0h1m-87 1h1m78 0h1m3 0h1m-82 2h2m78 0h1m2 0h1m13 0h1m-96 1h1m77 0h1m3 0h1m-86 1h3m1 0h1m77 0h2m4 0h1m-7 1h1m2 0h1m-82 1h2m74 0h2m1 0h1m-81 1h1m2 0h1m80 0h1m9 0h1m-95 1h1m1 0h1m79 0h1m4 0h1m-84 1h2m73 0h1m-79 1h1m2 0h1m70 0h2m3 0h1m13 0h1m-89 1h1m68 0h1m13 0h1m-85 1h1m73 0h1m-6 1h1m7 0h1m-9 1h1m15 0h1m11 0h1m-21 1h1m2 0h1m6 1h1m-88 1h1m93 0h1m-95 1h1m74 0h1m15 0h1m5 0h1m-99 1h1m75 0h1m4 0h1m5 0h1m2 0h1m-21 1h1m4 0h1m9 0h1m4 0h1m-20 1h1m2 0h1m6 0h1m10 0h1m-90 1h1m6 0h1m25 0h1m26 0h1m3 0h1m4 0h1m3 0h1m14 0h1m-84 1h1m51 0h1m2 0h1m2 0h1m1 0h1m3 0h1m4 0h1m1 0h1m-76 1h1m2 0h1m3 0h1m12 0h1m27 0h1m12 0h2m2 0h2m-68 1h1m1 0h1m3 0h1m62 0h4m1 0h1m18 0h1m-94 1h1m4 0h1m6 0h1m51 0h2m10 0h3m-80 1h1m10 0h1m2 0h1m20 0h1m17 0h1m7 0h1m7 0h1m1 0h2m-67 1h1m10 0h1m49 0h1m6 0h1m15 0h1m-82 1h1m20 0h1m35 0h1m-63 1h1m62 0h2m2 0h1m4 0h1m1 0h1m6 0h1m4 0h1m8 0h1m-101 1h1m2 0h2m16 0h1m47 0h1m6 0h1m-73 1h2m41 0h1m5 0h1m13 0h1m1 0h1m2 0h1m19 0h1m-89 1h1m3 0h1m51 0h1m10 0h1m2 0h2m8 0h1m2 0h1m2 0h1m3 0h1m-95 1h1m4 0h1m59 0h1m1 0h1m1 0h2m8 0h1m6 0h1m-82 1h1m5 0h1m56 0h1m8 0h1m-82 1h1m77 0h1m6 0h2m-83 1h1m5 0h2m8 0h1m61 0h2m1 0h1m1 0h1m-78 1h1m62 0h2m3 0h2m2 0h1m5 0h1m2 0h1m6 0h1m-88 1h2m15 0h1m41 0h1m4 0h1m1 0h1m5 0h2m-71 1h1m70 0h1m-73 1h1m4 0h1m55 0h1m2 0h1m15 0h1m-9 1h2m5 0h1m-82 1h2m24 0h1m36 0h1m6 0h1m6 0h1m5 0h2m-58 1h1m33 0h1m11 0h1m3 0h1m1 0h1m4 0h1m-79 1h1m36 0h1m32 0h1m4 0h1m-87 1h1m50 0h1m1 0h1m24 0h1m2 0h1m2 0h2m1 0h1m4 0h1m-78 1h1m79 0h1m-91 1h1m4 0h1m69 0h1m7 0h1m-76 1h1m28 0h1m47 0h1m-81 1h1m11 0h1m58 0h1m-82 1h1m80 0h1m2 0h1m-73 1h1m3 0h1m22 0h1m-42 1h1m9 0h1m2 0h1m2 0h1m36 0h1m29 0h1m9 0h1m-79 1h1m15 0h1m1 0h1m5 0h1m17 0h1m26 0h1m1 0h2m-97 1h1m17 0h1m6 0h3m2 0h1m12 0h1m1 0h1m13 0h1m41 0h1m-82 1h1m4 0h1m1 0h1m9 0h1m12 0h1m10 0h1m30 0h1m3 0h1m-76 1h1m14 0h2m2 0h1m9 0h1m4 0h1m4 0h1m33 0h1m-75 1h1m10 0h1m1 0h1m6 0h1m47 0h1m4 0h1m8 0h1m-76 1h1m2 0h1m5 0h1m1 0h1m9 0h2m6 0h1m3 0h2m4 0h1m18 0h2m1 0h1m1 0h1m-69 1h2m1 0h1m2 0h1m16 0h1m1 0h1m3 0h2m1 0h1m6 0h1m5 0h1m1 0h1m7 0h1m6 0h2m1 0h2m-55 1h1m1 0h3m7 0h1m10 0h1m2 0h2m5 0h1m2 0h1m1 0h2m6 0h1m1 0h1m1 0h1m-53 1h2m9 0h1m8 0h1m1 0h1m3 0h1m11 0h1m2 0h1m5 0h1m1 0h1m-62 1h1m22 0h1m6 0h1m10 0h1m4 0h1m8 1h1m0 1h1m6 0h1m2 1h1m-24 1h1m-46 3h1m66 1h1" stroke="#181ef1" stroke-width="1" fill="none"/>
<path d="M0 0.5m289 134h1m60 0h1m-35 1h1m8 0h1m-73 1h1m36 0h1m23 0h2m3 0h1m-31 1h2m1 0h1m8 0h1m3 0h1m3 0h1m7 0h1m5 0h1m1 0h2m32 0h1m-107 1h1m14 0h1m1 0h1m2 0h1m1 0h1m1 0h1m9 0h1m5 0h1m2 0h2m1 0h1m2 0h1m5 0h1m9 0h1m12 0h1m-84 1h2m4 0h1m1 0h1m2 0h1m1 0h1m7 0h2m9 0h1m5 0h1m2 0h1m9 0h3m10 0h2m2 0h1m-71 1h3m8 0h1m3 0h3m3 0h2m2 0h1m2 0h1m5 0h1m2 0h1m3 0h1m6 0h1m22 0h1m7 0h1m-78 1h3m2 0h1m2 0h1m2 0h1m1 0h1m20 0h1m42 0h1m-78 1h1m2 0h1m4 0h1m67 0h2m1 0h1m-81 1h2m77 0h1m-85 1h1m11 0h1m71 0h1m1 0h1m-80 1h1m77 0h1m-77 1h1m77 0h1m-81 1h1m1 0h2m73 0h1m2 0h1m-82 1h1m2 0h1m74 0h1m1 0h1m-80 1h1m78 0h1m-76 1h1m79 0h1m-82 1h1m75 0h1m1 0h1m-79 1h1m77 0h1m5 0h1m-9 1h1m-76 1h2m1 1h1m72 0h1m1 0h1m-4 1h1m-74 1h1m0 1h1m4 0h1m83 0h1m-86 1h1m65 0h1m12 0h1m-82 1h1m69 0h1m-72 1h1m67 0h1m1 0h1m-70 1h1m2 0h1m66 0h1m1 0h1m2 1h1m-74 1h1m64 0h1m9 0h1m-78 1h1m1 0h1m65 0h1m1 0h1m-71 1h2m2 0h1m48 0h1m13 1h1m-66 1h1m6 0h1m13 0h1m34 0h1m7 0h2m2 0h1m-61 1h1m2 0h1m18 0h1m19 0h1m5 0h2m26 0h1m-80 1h1m1 0h2m5 0h2m20 0h1m5 0h1m3 0h1m4 0h1m6 0h1m21 0h2m-80 1h1m2 0h1m8 0h1m16 0h1m4 0h1m3 0h1m4 0h2m8 0h1m8 0h1m4 0h2m1 0h2m-72 1h1m11 0h2m6 0h1m14 0h1m3 0h1m1 0h1m5 0h1m9 0h1m2 0h1m2 0h1m6 0h1m8 0h1m-79 1h1m6 0h1m6 0h2m2 0h2m4 0h2m22 0h1m1 0h1m1 0h1m2 0h2m5 0h1m-60 1h1m9 0h1m5 0h1m3 0h2m30 0h1m3 0h2m-63 1h1m7 0h2m3 0h1m2 0h2m19 0h1m2 0h1m18 0h1m1 0h1m1 0h1m-70 1h1m4 0h1m4 0h2m2 0h3m1 0h1m4 0h2m27 0h1m12 0h1m2 0h1m8 0h1m-70 1h1m1 0h1m6 0h1m7 0h1m16 0h1m8 0h1m11 0h1m2 0h1m16 0h1m-77 1h4m1 0h1m7 0h1m7 0h1m3 0h2m31 0h1m1 0h2m1 0h1m-63 1h3m1 0h1m2 0h4m3 0h1m2 0h1m3 0h1m1 0h1m25 0h1m1 0h1m4 0h1m7 0h1m5 0h1m-72 1h2m3 0h1m1 0h2m5 0h1m11 0h1m1 0h1m14 0h1m4 0h1m11 0h1m3 0h1m-64 1h2m2 0h1m2 0h1m2 0h1m1 0h1m33 0h1m2 0h1m8 0h1m1 0h1m8 0h1m-69 1h4m3 0h1m7 0h1m9 0h1m5 0h1m8 0h1m10 0h1m10 0h1m-76 1h1m9 0h1m2 0h1m1 0h2m6 0h1m2 0h1m36 0h1m9 0h1m5 0h1m2 0h1m16 0h1m-89 1h1m3 0h2m20 0h2m11 0h1m8 0h1m15 0h2m1 0h1m-65 1h1m2 0h2m7 0h1m19 0h1m13 0h1m8 0h1m-54 1h1m2 0h1m2 0h1m8 0h1m-17 1h1m12 0h1m16 0h1m26 0h1m11 0h1m-72 1h2m1 0h1m4 0h1m1 0h2m36 0h1m7 0h1m5 0h1m6 0h1m4 0h1m4 0h1m-77 1h1m1 0h1m2 0h1m6 0h2m1 0h1m25 0h1m8 0h1m16 0h1m2 0h1m3 0h1m-76 1h1m6 0h2m31 0h1m5 0h1m9 0h1m2 0h1m2 0h1m2 0h1m3 0h2m-72 1h1m1 0h1m1 0h1m4 0h1m8 0h1m4 0h1m15 0h1m1 0h1m3 0h1m17 0h2m-64 1h1m1 0h2m5 0h1m3 0h2m13 0h1m5 0h1m22 0h1m2 0h1m1 0h1m10 0h1m1 0h1m2 0h1m-80 1h1m6 0h1m1 0h1m5 0h1m1 0h1m26 0h1m11 0h1m20 0h1m-77 1h1m1 0h2m5 0h1m6 0h1m20 0h1m31 0h1m-64 1h1m6 0h1m20 0h1m39 0h1m-73 1h1m4 0h1m10 0h1m3 0h1m3 0h2m12 0h1m30 0h4m6 0h1m-83 1h1m2 0h1m9 0h1m8 0h1m9 0h1m1 0h1m39 0h1m-71 1h1m4 0h1m4 0h1m3 0h1m4 0h1m5 0h1m10 0h1m2 0h1m12 0h1m17 0h1m2 0h1m4 0h1m-72 1h2m7 0h1m6 0h1m10 0h1m4 0h1m30 0h1m1 0h3m-53 1h1m2 0h1m4 0h1m4 0h1m2 0h1m8 0h1m20 0h1m3 0h1m-74 1h1m2 0h1m1 0h1m3 0h1m5 0h1m1 0h1m3 0h1m8 0h2m8 0h1m1 0h3m25 0h1m1 0h1m-64 1h1m7 0h1m10 0h1m7 0h1m5 0h1m27 0h2m-78 1h1m9 0h1m6 0h2m1 0h1m1 0h1m1 0h2m8 0h1m6 0h4m4 0h1m4 0h1m6 0h1m-52 1h2m1 0h1m3 0h2m5 0h1m9 0h1m2 0h1m1 0h1m2 0h1m1 0h2m1 0h1m7 0h2m4 0h1m-53 1h1m6 0h1m4 0h1m2 0h2m2 0h1m3 0h1m2 0h2m2 0h1m1 0h1m12 0h1m4 0h1m12 0h1m-59 1h2m5 0h1m6 0h3m5 0h1m1 0h4m12 0h1m4 0h1m5 0h2m1 0h3m-52 1h1m14 0h1m8 0h1m1 0h2m2 0h1m6 0h1m2 0h1m5 0h3m1 0h1m-35 1h1m18 0h1m7 0h3m-5 1h2m-27 2h1m37 0h1" stroke="#133ef4" stroke-width="1" fill="none"/>
<path d="M0 0.5m299 136h1m17 0h2m-22 1h2m17 0h1m4 0h1m-34 1h1m1 0h2m2 0h1m6 0h1m4 0h1m3 0h2m8 0h1m8 0h1m-68 1h1m8 0h2m4 0h1m3 0h1m1 0h1m4 0h1m5 0h1m2 0h1m5 0h1m1 0h1m4 0h1m4 0h1m3 0h1m3 0h1m1 0h1m-73 1h2m1 0h1m7 0h1m20 0h1m4 0h1m7 0h1m1 0h1m5 0h2m4 0h1m3 0h1m7 0h1m-74 1h2m7 0h1m1 0h1m6 0h1m4 0h3m-25 1h2m4 0h2m2 0h1m4 0h1m2 0h1m7 0h1m43 0h2m-70 1h1m69 0h1m-74 1h3m1 0h1m-5 1h3m1 0h1m69 0h1m-76 1h1m1 0h1m1 0h1m70 0h1m-76 1h1m76 1h1m-76 1h1m1 0h1m1 0h1m69 0h1m2 0h1m-75 1h1m72 0h1m-75 1h1m71 0h2m-73 1h1m-1 1h1m1 1h1m1 0h1m67 0h1m4 0h1m-5 1h1m-71 1h1m68 0h1m-3 1h2m-67 1h1m64 0h2m-69 1h2m3 0h1m60 0h1m-64 1h3m61 0h1m-67 2h1m66 0h1m-66 2h1m64 0h3m-68 1h2m13 0h1m6 0h1m24 0h1m15 0h2m-66 1h1m4 0h1m2 0h1m41 0h1m4 0h1m5 0h1m1 0h2m1 0h1m-67 1h2m1 0h2m19 0h1m20 0h1m8 0h1m1 0h1m2 0h2m3 0h1m-63 1h1m1 0h1m7 0h5m2 0h1m10 0h2m5 0h1m1 0h1m1 0h1m7 0h1m1 0h1m7 0h1m1 0h2m3 0h1m-55 1h1m1 0h2m3 0h1m9 0h1m1 0h1m3 0h2m1 0h1m2 0h1m7 0h1m3 0h1m1 0h1m11 0h1m1 0h1m-68 1h2m2 0h1m4 0h1m7 0h2m1 0h1m2 0h1m1 0h1m11 0h1m1 0h1m1 0h1m5 0h2m2 0h1m1 0h1m1 0h1m2 0h1m2 0h1m1 0h1m-62 1h1m1 0h1m1 0h1m1 0h1m2 0h1m1 0h1m1 0h3m3 0h1m4 0h1m3 0h2m1 0h1m2 0h2m1 0h2m1 0h1m5 0h1m2 0h1m3 0h2m1 0h1m-54 1h1m1 0h1m1 0h1m4 0h1m1 0h1m4 0h2m5 0h2m3 0h1m8 0h1m7 0h2m4 0h1m-58 1h2m2 0h1m1 0h1m11 0h2m4 0h1m7 0h6m1 0h1m1 0h1m3 0h1m1 0h1m1 0h1m3 0h1m1 0h2m2 0h1m-60 1h3m4 0h1m1 0h2m6 0h3m4 0h1m2 0h1m7 0h3m4 0h1m3 0h1m5 0h3m-48 1h1m2 0h1m12 0h2m4 0h1m1 0h1m2 0h1m1 0h1m2 0h1m1 0h2m1 0h2m3 0h1m1 0h1m1 0h2m3 0h1m1 0h1m1 0h1m-63 1h2m12 0h2m4 0h1m2 0h1m6 0h1m2 0h1m1 0h1m2 0h1m3 0h1m1 0h1m5 0h2m3 0h1m4 0h1m-55 1h1m6 0h1m6 0h2m4 0h1m8 0h1m1 0h1m1 0h1m1 0h1m6 0h1m4 0h2m1 0h1m1 0h1m2 0h2m-55 1h1m1 0h1m1 0h1m3 0h1m2 0h2m13 0h2m2 0h3m3 0h1m1 0h1m1 0h2m3 0h1m6 0h1m2 0h1m-57 1h1m6 0h1m3 0h1m3 0h1m9 0h1m8 0h1m2 0h1m1 0h2m7 0h1m5 0h1m-59 1h1m6 0h1m3 0h1m2 0h1m16 0h1m3 0h3m4 0h2m1 0h1m6 0h1m2 0h1m-55 1h2m2 0h1m11 0h2m8 0h1m3 0h3m8 0h1m6 0h1m4 0h2m-50 1h1m1 0h4m1 0h1m5 0h3m6 0h1m1 0h1m4 0h1m8 0h1m2 0h1m5 0h1m2 0h1m1 0h2m-59 1h1m2 0h1m3 0h2m4 0h2m5 0h1m1 0h1m1 0h1m4 0h2m4 0h1m1 0h1m1 0h1m3 0h2m3 0h1m3 0h1m1 0h3m4 0h1m-55 1h1m1 0h1m1 0h1m1 0h1m4 0h2m1 0h1m7 0h1m1 0h1m3 0h1m1 0h1m2 0h1m3 0h1m4 0h3m4 0h1m2 0h1m3 0h1m4 0h1m-64 1h3m1 0h2m2 0h1m2 0h1m7 0h1m1 0h1m2 0h2m12 0h1m7 0h2m1 0h1m1 0h2m1 0h2m-60 1h1m1 0h1m2 0h1m7 0h2m5 0h2m4 0h1m1 0h1m2 0h2m5 0h3m1 0h1m1 0h1m2 0h2m1 0h1m2 0h2m8 0h1m4 0h1m-62 1h1m2 0h1m6 0h1m10 0h1m3 0h1m14 0h2m1 0h3m1 0h2m2 0h2m3 0h2m5 0h1m2 0h1m-77 1h1m4 0h1m4 0h1m3 0h1m1 0h1m1 0h1m2 0h3m4 0h1m1 0h1m6 0h1m7 0h2m4 0h1m1 0h1m1 0h1m2 0h1m1 0h1m1 0h1m8 0h1m-65 1h1m3 0h2m5 0h1m9 0h2m1 0h1m2 0h1m2 0h1m1 0h1m1 0h1m2 0h1m2 0h1m11 0h1m1 0h1m1 0h4m-63 1h1m1 0h1m1 0h1m3 0h1m2 0h1m2 0h1m1 0h1m4 0h1m3 0h1m7 0h2m6 0h1m5 0h2m10 0h1m5 0h1m-62 1h1m5 0h2m2 0h1m12 0h1m1 0h1m1 0h1m3 0h1m4 0h1m6 0h2m6 0h2m6 0h1m2 0h1m1 0h2m1 0h3m-67 1h1m1 0h1m1 0h1m4 0h1m3 0h2m3 0h1m3 0h1m6 0h2m4 0h1m1 0h1m2 0h1m10 0h1m1 0h1m4 0h1m4 0h2m-69 1h1m8 0h1m10 0h3m2 0h1m3 0h1m3 0h2m1 0h1m1 0h1m2 0h1m2 0h2m7 0h1m8 0h2m2 0h1m1 0h1m-72 1h1m3 0h2m3 0h1m7 0h1m2 0h1m9 0h1m9 0h1m9 0h1m19 0h2m-72 1h1m2 0h1m6 0h1m9 0h2m1 0h2m2 0h1m1 0h2m3 0h1m1 0h1m1 0h2m1 0h2m7 0h1m7 0h1m15 0h1m-65 1h1m2 0h2m5 0h1m8 0h1m1 0h1m3 0h1m1 0h2m2 0h1m6 0h1m3 0h1m3 0h1m-54 1h3m1 0h2m3 0h1m3 0h1m2 0h1m7 0h2m2 0h1m7 0h2m8 0h2m-51 1h1m2 0h2m4 0h1m1 0h1m8 0h1m2 0h3m3 0h1m1 0h2m4 0h1m2 0h1m3 0h1m4 0h1m3 0h1m20 0h1m-68 1h1m3 0h1m1 0h4m2 0h2m2 0h1m6 0h1m1 0h2m1 0h1m2 0h3m2 0h3m3 0h1m23 0h1m-69 1h1m1 0h1m1 0h2m1 0h1m1 0h1m1 0h3m2 0h2m6 0h3m3 0h2m1 0h1m2 0h1m2 0h2m1 0h1m29 0h1m-70 1h1m2 0h1m2 0h2m4 0h1m3 0h2m1 0h2m4 0h1m2 0h2m1 0h2m1 0h1m5 0h2m1 0h1m20 0h1m-64 1h1m2 0h1m1 0h1m1 0h1m2 0h1m1 0h1m1 0h1m1 0h1m1 0h1m5 0h4m2 0h1m1 0h2m1 0h2m1 0h1m1 0h1m4 0h1m1 0h1m13 0h1m-61 1h1m3 0h1m1 0h1m6 0h1m1 0h1m6 0h4m7 0h1m1 0h1m1 0h2m6 0h1m2 0h1m6 0h1m3 0h3m-62 1h1m5 0h1m5 0h1m1 0h1m2 0h1m7 0h1m7 0h1m1 0h5m3 0h1m14 0h1m1 0h1m-47 1h1m15 0h1m4 0h3m4 0h2m1 0h3m1 0h1m5 0h2m-39 1h1m3 0h1m5 0h1m4 0h1m6 0h2m1 0h1m1 0h3m1 0h1m-53 1h1m23 0h1m11 0h1m9 0h1m1 0h1m7 0h1" stroke="#0d5ef8" stroke-width="1" fill="none"/>
<path d="M0 0.5m313 137h1m-19 1h1m23 0h1m1 0h1m-30 1h1m2 0h1m6 0h1m1 0h1m4 0h1m8 0h1m2 0h2m-54 1h1m5 0h1m1 0h1m4 0h1m1 0h1m4 0h1m2 0h1m3 0h2m3 0h1m2 0h2m3 0h2m4 0h1m2 0h1m1 0h1m1 0h1m-66 1h1m5 0h1m2 0h2m2 0h4m3 0h2m1 0h2m3 0h1m2 0h1m1 0h4m12 0h1m6 0h1m1 0h2m4 0h1m1 0h1m-69 1h1m4 0h2m2 0h2m3 0h1m1 0h2m1 0h1m4 0h1m3 0h1m2 0h1m8 0h1m-47 1h1m1 0h1m3 0h1m-7 1h2m73 0h1m-1 1h1m-70 1h1m-2 1h2m-4 1h1m1 0h3m-4 1h1m1 0h1m1 0h1m-7 1h1m2 0h1m1 0h2m-3 1h1m2 0h1m-3 1h4m68 0h1m-73 1h1m2 0h1m65 0h1m1 0h1m-70 1h1m-1 1h1m67 0h2m-68 1h3m63 0h1m-70 1h5m-3 1h1m4 0h1m59 0h1m-63 1h1m3 0h1m1 0h2m53 0h1m1 0h1m-66 1h1m3 0h1m3 0h1m54 0h2m-66 1h3m1 0h2m7 0h1m51 0h1m-63 1h3m7 0h1m6 0h1m42 0h1m2 0h1m-66 1h2m1 0h2m9 0h1m29 0h1m20 0h1m-64 1h2m9 0h1m27 0h1m8 0h2m11 0h1m-29 1h1m9 0h1m11 0h1m-54 1h1m1 0h1m2 0h1m2 0h1m5 0h1m7 0h1m3 0h1m8 0h2m17 0h3m1 0h1m2 0h1m-64 1h1m2 0h2m1 0h1m1 0h1m8 0h2m4 0h1m3 0h3m6 0h2m2 0h1m1 0h1m3 0h2m1 0h2m8 0h2m-58 1h2m1 0h4m8 0h1m2 0h1m5 0h1m2 0h1m5 0h1m3 0h1m1 0h1m2 0h2m3 0h1m1 0h1m2 0h2m1 0h1m-54 1h1m1 0h1m7 0h2m1 0h1m1 0h1m3 0h2m11 0h1m2 0h2m2 0h2m4 0h1m9 0h1m-54 1h2m1 0h2m2 0h2m3 0h1m1 0h2m8 0h3m2 0h1m1 0h1m3 0h2m-37 1h1m2 0h1m3 0h1m4 0h1m4 0h2m1 0h1m17 0h1m3 0h1m-44 1h1m1 0h1m2 0h1m5 0h3m3 0h2m1 0h1m4 0h2m1 0h1m2 0h2m1 0h1m3 0h1m1 0h1m1 0h1m4 0h1m4 0h1m-53 1h1m3 0h1m3 0h1m7 0h1m1 0h1m3 0h3m6 0h1m1 0h1m2 0h1m7 0h1m-48 1h1m7 0h1m1 0h1m1 0h1m6 0h1m5 0h2m2 0h1m6 0h1m6 0h3m5 0h1m4 0h1m-56 1h2m4 0h1m6 0h2m1 0h2m2 0h2m1 0h1m1 0h1m1 0h1m10 0h1m3 0h1m2 0h1m4 0h1m-40 1h1m4 0h2m1 0h1m1 0h1m1 0h2m4 0h1m8 0h1m3 0h1m4 0h1m8 0h1m-53 1h1m2 0h1m3 0h1m6 0h1m6 0h1m1 0h1m7 0h1m1 0h1m1 0h1m2 0h1m1 0h1m1 0h2m2 0h1m-49 1h1m3 0h1m1 0h1m1 0h1m2 0h1m4 0h3m2 0h6m2 0h1m4 0h1m9 0h1m5 0h1m-53 1h1m9 0h1m1 0h1m2 0h2m2 0h1m1 0h3m2 0h1m2 0h1m1 0h1m2 0h2m1 0h1m7 0h1m5 0h2m-53 1h1m5 0h3m2 0h1m1 0h3m1 0h5m5 0h1m2 0h2m5 0h1m9 0h3m2 0h1m-47 1h1m1 0h1m1 0h5m4 0h1m2 0h1m3 0h2m4 0h3m3 0h1m5 0h2m5 0h1m-49 1h1m10 0h3m3 0h2m2 0h1m2 0h1m4 0h1m3 0h2m8 0h2m2 0h1m2 0h1m-51 1h2m4 0h2m4 0h3m12 0h2m5 0h1m1 0h2m5 0h1m10 0h1m-56 1h1m1 0h2m5 0h1m1 0h4m2 0h1m6 0h1m2 0h1m3 0h1m6 0h3m9 0h2m2 0h1m-57 1h2m5 0h1m2 0h1m2 0h2m3 0h3m5 0h1m6 0h4m6 0h2m1 0h1m1 0h1m3 0h1m4 0h1m-52 1h1m2 0h4m5 0h1m4 0h3m1 0h1m1 0h1m3 0h4m4 0h1m1 0h1m1 0h2m8 0h2m1 0h1m-57 1h1m3 0h1m2 0h1m1 0h2m1 0h3m1 0h1m2 0h1m3 0h1m1 0h1m3 0h1m1 0h1m1 0h1m2 0h2m2 0h1m1 0h1m1 0h1m2 0h1m3 0h1m7 0h1m-59 1h1m6 0h1m3 0h1m1 0h2m3 0h1m1 0h1m7 0h2m2 0h2m1 0h1m5 0h2m5 0h1m4 0h1m-50 1h1m2 0h3m4 0h4m1 0h2m3 0h1m1 0h1m5 0h1m1 0h1m8 0h1m1 0h3m4 0h1m3 0h1m5 0h2m-65 1h1m3 0h1m6 0h1m5 0h3m7 0h1m1 0h1m1 0h1m4 0h1m2 0h1m2 0h2m1 0h1m2 0h6m2 0h1m4 0h2m-65 1h1m3 0h1m1 0h2m5 0h1m4 0h2m1 0h1m4 0h1m2 0h1m1 0h1m2 0h2m1 0h1m1 0h1m3 0h1m2 0h1m13 0h1m-55 1h1m4 0h1m3 0h2m2 0h2m3 0h1m2 0h1m7 0h2m2 0h2m1 0h1m10 0h1m4 0h1m4 0h1m1 0h1m1 0h1m2 0h1m-70 1h1m1 0h1m1 0h1m3 0h2m4 0h1m2 0h6m4 0h1m1 0h1m10 0h1m5 0h1m2 0h5m1 0h1m1 0h1m1 0h3m1 0h2m-59 1h1m3 0h1m1 0h3m3 0h1m3 0h2m3 0h1m1 0h1m3 0h2m7 0h2m2 0h1m1 0h1m8 0h1m1 0h1m1 0h1m2 0h1m7 0h1m-65 1h2m1 0h1m5 0h2m3 0h1m2 0h2m1 0h1m3 0h1m2 0h1m1 0h1m5 0h3m1 0h3m1 0h7m2 0h1m1 0h2m6 0h2m-68 1h1m2 0h2m2 0h1m3 0h2m1 0h2m2 0h3m2 0h2m1 0h1m5 0h1m3 0h1m1 0h6m1 0h1m1 0h1m1 0h1m1 0h1m1 0h1m7 0h1m3 0h1m-70 1h1m5 0h1m10 0h2m2 0h1m1 0h2m8 0h5m3 0h1m2 0h1m1 0h1m4 0h1m1 0h1m2 0h1m11 0h3m-66 1h1m9 0h1m3 0h1m2 0h1m3 0h1m1 0h1m10 0h1m2 0h2m1 0h1m2 0h1m1 0h1m5 0h1m-56 1h1m19 0h1m2 0h1m2 0h1m6 0h1m2 0h1m8 0h1m1 0h1m3 0h2m16 0h1m-56 1h1m3 0h1m3 0h1m18 0h1m3 0h1m1 0h1m1 0h6m12 0h2m1 0h1m-34 1h1m7 0h1m8 0h1m1 0h3m7 0h1m2 0h1m-58 1h1m14 0h1m2 0h1m16 0h1m1 0h2m1 0h1m7 0h1m5 0h3m-49 1h2m4 0h1m2 0h1m10 0h1m4 0h1m3 0h1m6 0h1m1 0h1m-49 1h1m14 0h1m25 0h1m2 0h1m2 0h1m5 0h1m1 0h2m-35 1h1m10 0h1m13 0h1m1 0h3m-48 2h1" stroke="#0885fb" stroke-width="1" fill="none"/>
<path d="M0 0.5m311 139h1m2 0h1m5 0h1m-48 1h1m14 0h1m2 0h1m3 0h1m6 0h2m4 0h1m2 0h1m1 0h1m7 0h1m-67 1h1m23 0h1m3 0h1m10 0h1m4 0h6m3 0h3m3 0h1m4 0h2m-64 1h1m5 0h1m17 0h2m1 0h1m3 0h1m4 0h1m17 0h1m-60 1h1m5 0h4m1 0h1m4 0h3m51 0h1m-66 1h2m63 0h2m-68 2h1m65 0h2m-71 1h1m2 0h1m67 0h1m-68 1h2m-1 1h1m66 0h1m-68 1h1m-2 1h1m67 1h1m1 0h1m-70 1h1m1 0h1m-1 1h1m1 0h1m-3 1h2m62 0h1m-62 1h1m1 0h1m-4 1h1m1 0h1m1 0h1m56 0h1m-61 1h1m3 0h3m-3 1h1m2 0h1m-5 1h2m3 0h1m1 0h1m2 0h1m6 0h1m38 0h1m-61 1h1m3 0h2m3 0h1m4 0h1m1 0h2m4 0h1m12 0h1m-33 1h1m1 0h1m1 0h3m1 0h1m9 0h1m1 0h1m7 0h1m25 0h1m3 0h1m-56 1h1m2 0h1m15 0h1m3 0h1m2 0h1m27 0h2m-57 1h1m8 0h4m1 0h1m2 0h1m1 0h1m6 0h1m2 0h1m1 0h1m6 0h1m2 0h1m5 0h1m2 0h2m2 0h2m1 0h1m-60 1h1m1 0h1m1 0h1m2 0h2m4 0h1m11 0h1m10 0h2m3 0h1m9 0h1m3 0h4m-61 1h1m3 0h1m6 0h1m1 0h1m3 0h1m3 0h2m2 0h1m2 0h1m2 0h1m1 0h1m1 0h1m2 0h1m2 0h1m1 0h1m2 0h1m-43 1h1m1 0h1m2 0h1m1 0h1m2 0h2m2 0h1m1 0h1m10 0h2m4 0h2m1 0h1m2 0h2m2 0h1m7 0h1m-56 1h1m13 0h1m4 0h1m2 0h1m2 0h1m4 0h3m4 0h1m2 0h1m2 0h1m3 0h1m-46 1h1m7 0h1m2 0h1m11 0h1m4 0h2m2 0h1m2 0h1m4 0h1m12 0h1m-41 1h1m7 0h1m2 0h1m1 0h1m15 0h1m4 0h1m1 0h1m1 2h1m-43 1h1m6 1h1m10 0h1m9 0h1m2 0h1m-33 1h1m2 0h1m4 0h1m14 0h1m21 0h1m-33 1h1m5 0h2m16 0h1m-42 1h1m8 0h2m6 0h1m2 0h1m2 0h1m2 0h1m3 0h1m4 1h1m3 0h1m6 0h2m-26 1h1m4 0h1m1 0h1m7 0h1m-16 1h2m5 0h1m5 0h1m6 0h2m-42 1h1m17 0h2m3 0h1m7 0h2m1 0h1m-28 1h1m21 0h2m3 0h3m1 0h1m-39 1h1m12 0h1m5 0h1m10 0h1m5 0h1m2 0h1m4 0h1m-26 1h1m2 0h1m3 0h2m5 0h1m6 0h2m-30 1h1m3 0h2m4 0h1m9 0h3m9 0h1m-31 1h1m17 0h1m13 0h1m7 0h1m-40 1h1m1 0h2m2 0h1m7 0h1m1 0h1m6 0h1m1 0h1m-42 1h1m7 0h1m9 0h1m3 0h1m3 0h1m8 0h1m1 0h1m-21 1h1m2 0h1m5 0h1m1 0h2m5 0h1m5 0h1m8 0h1m-45 1h1m3 0h1m1 0h1m6 0h1m1 0h1m4 0h1m1 0h1m3 0h2m1 0h1m3 0h1m13 0h1m-42 1h1m3 0h1m2 0h1m18 0h1m2 0h1m5 0h1m1 0h2m10 0h1m-48 1h1m6 0h1m5 0h2m13 0h1m3 0h1m4 0h1m8 0h1m-48 1h1m14 0h1m3 0h1m2 0h1m23 0h1m4 0h2m-53 1h1m2 0h1m1 0h1m10 0h1m4 0h2m6 0h1m3 0h1m1 0h1m2 0h3m1 0h1m1 0h1m1 0h1m3 0h2m1 0h1m-56 1h1m25 0h1m5 0h1m14 0h1m4 0h2m1 0h1m-58 1h1m19 0h1m17 0h1m8 0h3m5 0h2m-59 1h1m4 0h1m6 0h1m15 0h1m8 0h2m3 0h1m4 0h3m1 0h1m2 0h1m6 0h1m-64 1h1m5 0h1m19 0h1m11 0h1m5 0h1m2 0h1m2 0h1m2 0h1m2 0h1m3 0h4m-25 1h1m2 0h2m2 0h2m4 0h1m7 0h1m-56 1h1m14 0h1m4 0h2m25 0h1m5 0h1m5 0h1m-21 1h3m1 0h1m7 0h1m4 0h1m-53 1h1m20 0h1m13 0h1m4 0h1m1 0h1m3 0h1m2 0h1m-16 1h1m1 0h1m8 0h3m1 0h3m-44 1h1m34 0h3m2 0h1m-16 1h1m12 0h1m-2 1h1" stroke="#04b3fd" stroke-width="1" fill="none"/>
<path d="M0 0.5m308 139h1m-25 2h1m4 0h1m5 0h1m9 0h1m1 0h1m3 0h1m5 0h2m-53 1h1m1 0h1m6 0h3m2 0h1m10 0h2m3 0h1m13 0h1m6 0h1m2 0h2m-66 1h2m4 0h1m1 0h1m2 0h1m3 0h1m2 0h2m9 0h1m3 0h1m31 0h1m-60 1h1m2 0h1m-10 1h2m5 0h1m59 0h1m0 1h1m-2 1h1m0 1h1m-2 1h2m-1 2h2m0 2h1m-64 1h1m1 0h1m-4 1h1m62 0h1m-62 1h1m1 0h1m57 0h2m-63 1h1m1 0h1m1 0h2m3 0h1m49 0h1m-58 1h2m7 0h1m48 0h1m-63 1h1m3 0h1m6 0h1m4 0h1m44 0h1m-54 1h2m6 0h2m5 0h1m1 0h1m34 0h1m-57 1h1m2 0h1m1 0h1m2 0h2m2 0h1m3 0h2m4 0h3m9 0h1m2 0h1m3 0h1m7 0h1m6 0h3m-50 1h1m1 0h3m1 0h1m1 0h1m1 0h1m1 0h2m4 0h1m6 0h1m5 0h1m1 0h1m1 0h1m1 0h1m2 0h1m1 0h1m4 0h1m2 0h1m-63 1h1m2 0h3m2 0h1m2 0h1m1 0h1m1 0h1m1 0h1m1 0h1m3 0h2m1 0h1m1 0h1m1 0h1m2 0h2m4 0h2m5 0h2m4 0h1m3 0h3m-55 1h1m1 0h5m1 0h2m4 0h1m4 0h1m1 0h1m2 0h3m1 0h1m2 0h1m1 0h2m1 0h2m2 0h2m5 0h1m2 0h1m2 0h2m-58 1h2m3 0h1m1 0h1m8 0h2m1 0h1m2 0h1m3 0h1m2 0h3m1 0h5m2 0h2m4 0h7m2 0h1m-48 1h1m1 0h1m3 0h1m1 0h1m7 0h1m1 0h1m5 0h1m1 0h1m4 0h1m5 0h1m4 0h1m3 0h1m-47 1h1m3 0h2m5 0h1m3 0h1m6 0h1m3 0h1m-14 1h1m2 0h1m8 0h1m-13 1h2m-3 8h1m6 0h1m3 0h1m-6 3h1m-4 1h2m26 0h2m-40 1h1m20 0h1m12 0h1m-25 1h1m24 0h1m-37 1h1m20 1h1m1 0h1m-14 2h1m4 4h1m25 0h1m0 1h1m-21 1h1m3 0h1m-7 1h1m15 0h1m20 0h1m-7 1h1m5 0h1m2 0h1m-11 1h1m3 0h1m3 0h1m-42 1h1m28 0h1m5 0h1m4 0h3m-55 1h1m37 0h1m5 0h1m1 0h2m6 0h1m-12 1h4m1 0h2m3 0h1m-11 1h1m1 0h1m2 0h1m2 0h1m-5 1h1m2 0h1m2 0h1m-9 1h1m3 0h1m1 0h1m-5 1h2m-3 1h1m3 0h1" stroke="#00ddf9" stroke-width="1" fill="none"/>
<path d="M0 0.5m314 140h1m-19 1h2m14 0h1m-24 1h2m3 0h1m2 0h1m1 0h1m1 0h1m2 0h1m1 0h3m4 0h1m1 0h2m1 0h2m-55 1h2m10 0h1m1 0h2m2 0h2m3 0h1m1 0h1m1 0h1m-37 1h1m2 0h1m3 0h1m4 0h1m8 0h1m2 0h1m38 0h1m-62 1h1m2 0h1m59 0h1m-65 1h1m6 0h1m-8 1h2m21 0h1m5 0h1m36 1h1m-64 1h1m-2 1h1m64 0h1m-66 1h2m-1 1h3m-2 1h1m61 1h3m-63 1h4m56 0h1m-56 1h2m52 0h1m-54 1h2m0 1h2m48 0h2m-52 1h1m1 0h2m3 0h1m2 0h1m1 0h1m8 0h1m28 0h1m-50 1h1m2 0h1m3 0h1m2 0h1m4 0h2m2 0h1m6 0h1m1 0h1m18 0h1m-51 1h1m5 0h1m7 0h1m1 0h2m3 0h3m1 0h2m2 0h1m4 0h3m1 0h1m2 0h1m4 0h6m-53 1h1m19 0h2m4 0h1m1 0h3m1 0h1m2 0h1m2 0h1m1 0h1m1 0h1m2 0h1m-45 1h1m2 0h1m3 0h1m1 0h1m1 0h1m2 0h2m4 0h1m7 0h2m1 0h1m5 0h2m2 0h2m4 0h2m-54 1h2m23 0h1m5 0h1m8 0h1m4 0h1m5 0h1m-50 1h1m4 0h1m2 0h2m8 0h1m1 0h1m32 0h1m-39 1h3m8 0h2m9 0h1m3 0h1m4 0h1m1 0h1m-27 1h1m28 0h1m-13 1h1m-16 20h1m40 7h1m-1 1h1m-10 1h1m6 0h2m-2 1h1m-41 1h1m41 0h1m2 0h1m1 0h1m-11 1h1m3 0h1m1 0h1m1 0h1m-3 1h1m-6 1h1" stroke="#00e5c1" stroke-width="1" fill="none"/>
<path d="M0 0.5m298 141h1m-1 1h1m1 0h1m11 0h1m1 0h1m-39 1h1m1 0h1m2 0h2m3 0h2m6 0h1m2 0h1m8 0h1m5 0h1m3 0h1m1 0h3m-61 1h2m2 0h1m1 0h2m1 0h1m1 0h2m3 0h1m1 0h1m5 0h2m15 0h1m13 0h1m5 0h1m-63 1h1m6 0h1m1 0h1m5 0h1m3 0h2m36 0h1m5 0h1m-65 1h2m1 0h1m9 0h1m1 0h2m45 0h1m-61 1h1m1 0h1m5 0h1m6 0h2m1 0h1m38 0h1m3 0h2m-64 1h1m10 0h1m2 0h1m3 0h1m-19 1h1m3 0h1m9 0h2m7 0h1m-13 1h1m-2 1h1m-6 1h1m4 0h2m10 0h1m41 0h2m-63 1h1m1 0h1m3 0h1m6 0h1m47 0h2m-61 1h1m2 0h1m11 0h1m42 0h1m-56 1h1m54 0h1m-56 1h1m3 0h1m51 0h1m-53 1h1m1 0h1m3 0h1m3 0h2m33 0h1m2 0h1m-50 1h1m2 0h1m1 0h1m1 0h2m33 0h1m-49 1h1m10 0h2m2 0h2m5 0h1m13 0h1m4 0h1m4 0h1m3 0h1m2 0h1m2 0h1m-47 1h1m5 0h1m4 0h1m7 0h2m1 0h1m8 0h1m2 0h1m5 0h1m5 0h1m-41 1h1m12 0h1m2 0h1m3 0h1m7 0h2m1 0h2m-32 1h1m8 0h2m3 0h1m5 0h2m9 0h1m2 0h1m1 0h1m-36 1h1m10 0h1m11 0h1m9 0h1m-34 1h2m4 0h1m23 0h1m-26 1h1m19 0h1m22 31h1m-1 2h1m1 0h2m-4 1h1m-2 2h1m2 1h1" stroke="#00ee89" stroke-width="1" fill="none"/>
<path d="M0 0.5m302 142h1m2 0h1m3 0h1m-19 1h1m1 0h1m1 0h1m2 0h1m1 0h1m3 0h2m4 0h1m2 0h1m1 0h1m-41 1h1m3 0h1m1 0h1m1 0h1m2 0h2m2 0h3m1 0h1m7 0h2m8 0h1m1 0h1m1 0h1m1 0h1m1 0h1m-61 1h1m3 0h2m1 0h1m2 0h1m2 0h1m2 0h2m2 0h1m2 0h1m3 0h1m5 0h1m2 0h1m21 0h1m-57 1h1m2 0h3m2 0h1m1 0h1m2 0h1m1 0h1m2 0h2m3 0h1m30 0h1m4 0h1m-63 1h1m1 0h1m2 0h3m2 0h1m2 0h2m3 0h1m4 0h1m7 0h1m23 0h2m2 0h1m-59 1h1m8 0h1m1 0h1m2 0h2m2 0h3m2 0h1m37 0h2m-58 1h1m1 0h3m1 0h2m5 0h1m1 0h1m39 0h3m-62 1h1m2 0h1m2 0h2m7 0h1m3 0h1m2 0h1m39 0h1m-62 1h3m2 0h1m7 0h2m1 0h2m43 0h1m-53 1h1m2 0h1m1 0h1m43 0h1m-56 1h1m4 0h2m1 0h1m4 0h1m3 0h1m1 0h1m35 0h1m1 0h1m-54 1h3m5 0h1m4 0h1m1 0h1m34 0h1m-50 1h2m8 0h1m1 0h1m4 0h1m-18 1h1m2 0h1m2 0h1m1 0h4m1 0h1m3 0h1m1 0h1m26 0h1m1 0h2m-35 1h3m3 0h1m2 0h1m15 0h2m2 0h1m2 0h2m1 0h2m-46 1h1m2 0h3m3 0h4m1 0h1m1 0h1m1 0h2m4 0h1m5 0h1m9 0h1m1 0h1m-37 1h1m1 0h2m1 0h1m1 0h1m1 0h1m3 0h1m2 0h1m7 0h1m5 0h2m5 0h1m-31 1h2m1 0h1m2 0h1m6 0h1m1 0h1m1 0h2m1 0h3m1 0h1m1 0h4m-18 1h1m11 0h1m-10 1h1m13 0h1m-7 1h2m18 36h1" stroke="#11ee57" stroke-width="1" fill="none"/>
<path d="M0 0.5m303 142h1m-5 1h1m2 0h2m3 0h3m1 0h1m2 0h1m2 0h1m-44 1h1m7 0h1m5 0h2m3 0h1m1 0h1m1 0h4m3 0h1m1 0h2m1 0h3m-50 1h1m6 0h1m2 0h1m2 0h1m6 0h1m2 0h2m1 0h1m1 0h3m5 0h1m1 0h1m3 0h1m1 0h1m4 0h1m1 0h2m2 0h1m1 0h2m-61 1h1m2 0h1m4 0h2m6 0h1m6 0h1m3 0h1m4 0h1m2 0h1m15 0h1m1 0h1m3 0h1m1 0h1m-57 1h1m3 0h1m2 0h2m7 0h1m4 0h1m2 0h1m-27 1h3m1 0h4m3 0h1m3 0h1m4 0h2m35 0h3m-60 1h2m7 0h1m6 0h1m6 0h3m32 0h1m-58 1h2m1 0h1m3 0h1m1 0h2m1 0h2m1 0h3m1 0h1m4 0h2m32 0h1m1 0h1m-62 1h1m3 0h1m2 0h1m1 0h1m1 0h1m13 0h1m33 0h3m-58 1h2m1 0h1m3 0h1m4 0h2m3 0h3m-22 1h1m2 0h1m5 0h1m1 0h1m1 0h2m1 0h3m5 0h2m29 0h2m-52 1h1m3 0h1m5 0h1m1 0h2m3 0h1m32 0h1m1 0h2m-54 1h2m3 0h5m3 0h1m1 0h1m29 0h1m4 0h3m-47 1h2m1 0h1m4 0h1m1 0h3m5 0h1m5 0h1m10 0h1m10 0h1m-47 1h3m2 0h2m3 0h1m5 0h1m2 0h1m3 0h1m1 0h2m2 0h2m4 0h1m2 0h2m-32 1h1m1 0h1m4 0h1m1 0h1m4 0h1m1 0h2m1 0h1m5 0h1m1 0h1m1 0h1m2 0h1m2 0h1m-28 1h1m2 0h1m2 0h1m2 0h1m1 0h2m1 0h1m2 0h3m5 0h2m1 0h1m-20 1h1m1 0h1m10 0h1" stroke="#29eb28" stroke-width="1" fill="none"/>
<path d="M0 0.5m296 143h1m4 0h1m-6 1h1m8 0h1m2 0h1m4 0h1m3 0h1m-37 1h1m2 0h1m4 0h1m7 0h1m1 0h1m1 0h3m1 0h1m1 0h3m5 0h1m-38 1h2m2 0h1m1 0h1m1 0h1m1 0h1m2 0h1m1 0h1m5 0h1m8 0h3m3 0h2m2 0h1m-45 1h1m6 0h1m3 0h1m2 0h1m24 0h1m2 0h1m3 0h1m-57 1h1m19 0h2m2 0h1m24 0h1m3 0h1m-52 1h1m8 0h2m4 0h1m1 0h1m4 0h1m29 0h1m-53 1h1m6 0h1m8 0h1m1 0h2m35 0h1m-56 1h1m4 0h1m1 0h2m2 0h1m2 0h6m32 0h2m-57 1h1m3 0h1m7 0h1m3 0h2m4 0h2m32 0h1m1 0h2m-56 1h1m1 0h1m13 0h1m1 0h2m34 0h1m-56 1h1m6 0h4m6 0h1m2 0h2m28 0h2m-46 1h1m6 0h1m5 0h2m1 0h3m1 0h1m1 0h1m17 0h1m3 0h2m3 0h1m-50 1h1m15 0h1m2 0h1m5 0h1m2 0h1m10 0h1m2 0h2m1 0h1m3 0h1m-44 1h1m4 0h1m5 0h1m6 0h1m1 0h1m2 0h2m2 0h1m9 0h1m-33 1h1m9 0h1m3 0h1m4 0h2m1 0h1m2 0h1m1 0h1m2 0h1m1 0h1m3 0h2m-33 1h1m5 0h1m8 0h1m7 0h1m-15 1h1" stroke="#6ced17" stroke-width="1" fill="none"/>
<path d="M0 0.5m294 145h2m14 0h1m1 0h1m-24 1h2m3 0h1m1 0h2m4 0h1m1 0h1m1 0h2m4 0h1m-30 1h1m7 0h2m2 0h1m14 0h2m7 0h1m-34 1h2m1 0h1m22 0h1m3 0h1m-53 1h1m14 0h1m36 0h2m-30 1h1m29 0h2m-33 1h1m1 0h1m26 0h1m-44 1h1m43 1h1m-30 1h3m23 0h2m-32 1h1m6 0h1m1 0h1m1 0h1m3 0h1m10 0h1m3 0h1m-25 1h1m2 0h4m2 0h1m3 0h1m1 0h4m1 0h1m2 0h1m-26 1h1m3 0h1m2 0h1m10 0h3m-5 1h1m-8 1h1" stroke="#afef06" stroke-width="1" fill="none"/>
<path d="M0 0.5m298 146h1m1 0h2m1 0h1m1 0h1m-17 1h1m4 0h1m1 0h1m2 0h2m11 0h1m-23 1h4m17 0h1m2 0h2m-29 1h1m1 0h2m-2 1h3m24 0h1m-29 1h1m26 0h1m0 1h3m-30 1h4m22 0h2m-26 1h2m18 0h1m1 0h1m-18 1h1m4 0h3m2 0h1m4 0h1m-11 1h2m1 0h1m7 0h1" stroke="#dae300" stroke-width="1" fill="none"/>
<path d="M0 0.5m293 147h1m4 0h1m3 0h2m3 0h2m-15 1h2m5 0h1m7 0h2m-20 1h2m4 0h1m14 0h1m2 0h1m-24 1h1m24 0h1m-25 1h1m20 0h1m2 0h1m-31 1h4m1 0h1m22 0h1m-23 1h2m15 0h1m2 0h2m-21 1h1m1 0h1m1 0h1m5 0h1m1 0h1m2 0h1m2 0h1m-15 1h1m1 0h1m6 0h2m6 0h1" stroke="#f6ce00" stroke-width="1" fill="none"/>
<path d="M0 0.5m301 147h1m2 0h3m-11 1h1m1 0h1m3 0h1m2 0h2m1 0h1m-15 1h1m18 0h2m-22 1h1m20 0h2m-26 1h1m1 0h1m4 0h1m12 0h1m1 0h1m-17 1h1m2 0h1m11 0h1m-17 1h1m13 0h1m1 0h1m-19 1h1m3 0h1m1 0h1m3 0h1m1 0h1m1 0h1m2 0h1m-14 1h1m6 0h2m3 0h1" stroke="#ffa700" stroke-width="1" fill="none"/>
<path d="M0 0.5m297 147h1m11 0h1m-13 1h1m1 0h2m2 0h1m3 0h1m-15 1h1m5 0h1m7 0h1m1 0h3m-18 1h4m13 0h3m-23 1h1m2 0h2m10 0h1m6 0h1m-23 1h1m1 0h2m13 0h1m1 0h1m2 0h2m-18 1h1m3 0h1m6 0h1m3 0h1m-18 1h1m4 0h1m7 0h1" stroke="#ff7800" stroke-width="1" fill="none"/>
<path d="M0 0.5m304 148h1m-10 1h1m7 0h1m1 0h1m2 0h1m-11 1h1m4 0h1m5 0h2m-12 1h1m2 0h1m4 0h1m3 0h1m-17 1h1m1 0h2m1 0h1m1 0h1m3 0h2m1 0h1m-14 1h1m2 0h2m5 0h2m-7 1h2" stroke="#ff4e00" stroke-width="1" fill="none"/>
<path d="M0 0.5m296 149h1m1 0h1m2 0h2m1 0h1m1 0h1m-8 1h1m4 0h2m2 0h1m-13 1h1m3 0h2m2 0h2m2 0h2m-7 1h1m1 0h1m6 0h1m-15 1h1m3 0h2" stroke="#ff2400" stroke-width="1" fill="none"/>
<path d="M0 0.5m300 149h1m-1 1h3m3 0h2m-10 1h1m4 0h1m-3 1h1m2 0h1m0 1h1" stroke="#f11600" stroke-width="1" fill="none"/>
<path d="M0 0.5m304 153h1" stroke="#e10d00" stroke-width="1" fill="none"/>
<path d="M0 0.5m146 469h1m4 0h1m-17 1h1m-85 4h1m107 0h1m-109 1h1m-5 10h1m112 7h1m-33 9h1m-11 2h1m44 2h1m-48 2h1m-14 1h1m33 0h1m-82 1h1m62 1h1m32 0h1m4 1h1m-65 1h1m33 0h1m-4 1h1m-33 1h1m7 0h1m54 0h1m-75 1h1m32 0h1m34 0h1m16 0h1m-79 1h1m16 1h1m-12 1h1m-29 1h1m86 0h1m-15 1h1m13 0h1m2 0h1m-1 1h1m0 3h1m-22 1h1m-76 1h1m43 1h1m43 1h1m3 1h1m2 1h1m-90 2h1m59 0h1m12 0h1m-75 3h1m24 0h1m0 1h1m74 0h1m-109 2h1m-12 3h1m76 0h1m-46 2h1m48 0h1m-46 1h1m-18 1h1m23 0h1m47 1h1m-55 1h1m73 0h1m-34 1h1m3 0h1m-67 2h1m82 2h1m11 0h1m-50 3h1m42 2h1m-65 1h1m51 0h1" stroke="#2929a3" stroke-width="1" fill="none"/>
<path d="M0 0.5m159 467h1m-69 1h1m46 0h1m-70 1h1m66 1h1m2 0h1m5 0h1m1 0h1m2 0h1m-63 1h1m37 0h1m10 0h1m9 0h1m-87 1h1m83 0h1m13 0h1m1 0h1m-75 1h2m10 0h1m16 0h1m42 0h1m-110 1h1m7 0h1m6 0h1m32 0h1m1 0h2m11 0h1m-47 1h1m9 0h1m7 0h1m76 0h1m-113 1h1m12 0h1m97 4h1m-113 4h1m111 4h1m-2 1h1m-3 4h1m-111 1h1m111 0h1m-2 1h1m-7 1h1m-1 1h1m4 0h1m-27 1h1m17 0h2m-21 1h2m-3 1h1m1 0h1m9 0h1m1 0h1m9 0h1m4 0h1m-113 1h1m89 0h1m13 0h1m-42 1h1m-15 1h1m16 0h1m0 1h1m8 0h1m14 0h1m5 0h1m-64 1h1m19 0h1m25 0h1m12 0h1m37 0h1m-86 1h1m8 0h1m9 0h1m12 0h1m2 0h2m4 0h1m4 0h1m20 0h1m-103 1h1m31 0h1m6 0h1m17 0h1m7 0h1m4 0h1m2 0h1m12 0h1m12 0h1m2 0h1m-104 1h1m35 0h1m4 0h1m6 0h1m11 0h1m2 0h1m7 0h1m27 0h1m-105 1h1m12 0h1m27 0h1m1 0h1m13 0h1m1 0h1m17 0h1m8 0h1m25 0h1m-99 1h1m6 0h1m3 0h1m16 0h1m35 0h1m27 0h1m-95 1h1m25 0h1m8 0h1m9 0h1m2 0h1m14 0h1m-63 1h1m44 0h1m34 0h1m10 0h1m-74 1h1m12 0h1m11 0h1m40 0h1m-57 1h1m10 0h1m27 0h1m15 0h1m1 0h1m6 0h1m4 0h2m7 0h1m-90 1h1m27 0h1m27 0h1m14 0h1m6 0h1m-87 1h1m42 0h1m-59 1h1m10 0h1m18 0h1m27 0h2m22 0h1m23 0h1m-85 1h1m2 0h1m7 0h2m2 0h1m24 0h1m35 0h1m8 0h1m-102 1h1m27 0h1m9 0h1m8 0h1m18 0h1m11 0h1m-55 1h1m2 0h1m15 0h1m8 0h1m1 0h1m-30 1h1m13 0h1m8 0h1m33 0h1m16 0h1m-71 1h1m22 0h1m2 0h1m21 0h1m11 0h1m5 0h1m-77 1h1m51 0h1m7 0h1m6 0h1m-88 1h1m1 0h1m30 0h1m3 0h1m19 0h1m20 0h1m4 0h1m13 0h1m-94 1h1m37 0h1m13 0h1m-55 1h1m50 0h1m38 0h1m-71 2h1m13 0h1m58 0h1m-85 1h1m51 0h1m9 0h1m-54 1h1m32 0h1m37 0h1m-105 1h1m33 0h1m8 0h1m25 0h1m1 0h1m8 0h1m31 0h1m-100 1h1m7 0h1m29 0h1m3 0h1m1 0h1m-47 1h1m1 0h1m44 0h1m48 0h2m8 0h1m-96 1h1m11 0h1m25 0h1m1 0h1m15 0h1m7 0h1m-73 1h1m107 0h1m-106 1h1m26 0h1m14 0h1m46 0h1m-55 1h1m4 0h1m30 0h1m26 0h1m-99 1h1m12 0h1m13 0h1m40 0h1m22 0h1m-97 1h1m61 0h1m2 0h1m-55 1h2m34 0h1m1 0h1m28 0h1m15 0h1m-85 1h1m5 0h1m22 0h1m-23 1h1m42 0h1m5 0h2m4 0h1m27 0h1m-97 1h1m7 0h1m36 0h1m41 0h1m1 0h1m-92 1h1m2 0h1m47 0h1m3 0h1m10 0h1m5 0h1m16 0h1m-86 1h1m10 0h1m14 0h1m11 0h1m12 0h1m40 0h1m1 0h1m-93 1h1m19 0h1m2 0h2m13 0h1m20 0h1m21 0h1m19 0h1m-97 1h1m9 0h1m69 0h1m-14 1h1m11 0h1m-80 1h1m16 0h1m68 0h1m-88 1h1m14 0h1m21 0h1m27 0h1m-71 1h1m69 1h1m-11 1h1m19 0h1m-77 1h1m31 0h1m9 0h1m14 0h1m5 0h1m6 0h1m8 0h1m-20 1h1m10 0h1m-79 1h1m74 0h1m6 0h1m-76 1h1m21 0h1m2 0h1m39 1h1m-57 1h1m23 0h1m2 0h1m7 0h1m-8 1h1m-18 1h1" stroke="#2c2cbd" stroke-width="1" fill="none"/>
<path d="M0 0.5m150 467h1m-22 1h1m27 0h1m-45 1h1m25 0h2m8 0h1m-33 1h1m6 0h1m3 0h1m2 0h1m1 0h1m3 0h1m-23 1h1m19 0h1m2 0h1m4 0h1m-67 1h1m18 0h1m13 0h1m8 0h2m4 0h1m13 0h1m1 0h1m2 0h1m7 0h1m3 0h1m1 0h1m-89 1h1m7 0h1m10 0h1m11 0h1m3 0h1m5 0h1m33 0h2m-78 1h1m7 0h1m13 0h1m7 0h1m29 0h1m-66 1h1m3 0h1m1 0h1m17 0h1m10 0h1m26 0h1m31 0h1m1 0h1m-106 1h1m2 0h1m1 0h1m5 0h1m2 0h1m5 0h1m38 0h2m41 0h1m-106 1h1m1 0h1m10 0h1m7 0h1m83 0h2m1 0h1m-93 1h1m91 0h1m-104 1h1m-9 3h1m109 1h1m-2 1h1m-111 2h2m107 0h1m-111 2h1m-1 1h2m-2 1h1m0 2h1m-2 1h1m1 0h1m96 0h1m12 0h1m-18 1h1m8 0h1m6 0h1m-110 1h1m101 0h2m2 0h1m-108 1h1m90 0h2m9 0h1m4 0h1m-109 1h1m79 0h2m7 0h1m6 0h1m4 0h1m1 0h1m4 0h1m9 0h1m-105 1h1m44 0h1m14 0h1m13 0h4m6 0h1m-32 1h1m10 0h1m9 0h1m1 0h1m7 0h1m10 0h1m-110 1h1m4 0h1m4 0h1m37 0h1m4 0h1m2 0h1m5 0h2m34 0h1m28 0h1m-127 1h1m59 0h1m2 0h1m2 0h1m10 0h1m7 0h1m-26 1h1m5 0h1m15 0h1m11 0h1m-37 1h1m9 0h1m13 0h1m-42 1h1m1 0h1m5 0h1m4 0h1m9 0h1m16 0h1m-82 1h1m6 0h1m6 0h1m25 0h1m4 0h1m3 0h2m4 0h1m2 0h1m5 0h1m9 0h1m5 0h1m29 0h1m8 0h1m-110 1h1m20 0h1m8 0h1m9 0h1m7 0h1m4 0h1m15 0h1m4 0h1m12 0h1m-99 1h1m7 0h1m3 0h1m1 0h1m5 0h1m28 0h1m6 0h2m8 0h1m23 0h1m12 0h1m-91 1h1m1 0h1m6 0h1m10 0h1m14 0h1m1 0h1m14 0h2m5 0h1m2 0h1m12 0h1m-88 1h1m2 0h1m10 0h1m4 0h1m8 0h2m6 0h1m19 0h2m1 0h1m6 0h1m18 0h1m9 0h1m36 0h1m-122 1h1m3 0h2m22 0h1m34 0h1m9 0h1m-65 1h1m1 0h1m2 0h1m9 0h1m9 0h1m35 0h1m9 0h1m-72 1h1m9 0h1m6 0h1m8 0h2m47 0h1m14 0h1m-92 1h1m7 0h1m9 0h2m33 0h1m17 0h1m2 0h1m12 0h1m6 0h1m4 0h1m-106 1h1m6 0h2m16 0h2m6 0h1m1 0h1m12 0h1m25 0h2m4 0h1m-73 1h1m2 0h1m4 0h1m2 0h1m16 0h1m50 0h1m-81 1h1m4 0h1m3 0h1m5 0h1m25 0h1m13 0h1m11 0h1m14 0h1m-82 1h1m10 0h1m2 0h1m45 0h1m13 0h1m13 0h1m8 0h1m-85 1h2m2 0h1m1 0h1m13 0h1m7 0h1m2 0h1m16 0h1m27 0h1m3 0h1m-95 1h2m1 0h1m5 0h1m3 0h3m23 0h1m36 0h1m18 0h1m-100 1h1m3 0h2m4 0h1m8 0h1m1 0h1m5 0h1m7 0h1m1 0h1m7 0h1m3 0h1m2 0h1m4 0h1m2 0h1m29 0h1m-96 1h1m10 0h2m2 0h2m6 0h1m17 0h1m15 0h1m6 0h1m12 0h1m22 0h1m-92 1h1m3 0h1m1 0h1m2 0h1m2 0h1m3 0h1m19 0h1m3 0h1m2 0h1m1 0h1m4 0h1m6 0h1m17 0h1m5 0h1m1 0h1m11 0h1m-105 1h1m2 0h1m8 0h1m8 0h1m4 0h1m2 0h1m10 0h1m12 0h1m4 0h1m27 0h1m10 0h1m-92 1h1m4 0h2m2 0h1m1 0h1m2 0h1m2 0h1m11 0h1m12 0h1m25 0h1m21 0h2m-76 1h1m1 0h1m7 0h1m11 0h1m37 0h1m11 0h1m1 0h1m-81 1h2m8 0h2m8 0h1m2 0h1m14 0h1m5 0h1m1 0h1m19 0h1m7 0h1m3 0h1m1 0h1m1 0h1m-82 1h1m6 0h2m25 0h1m1 0h1m6 0h1m8 0h1m19 0h2m1 0h1m1 0h1m11 0h1m-97 1h2m7 0h1m5 0h1m6 0h1m23 0h1m20 0h1m6 0h1m9 0h1m12 0h1m3 0h1m-100 1h1m14 0h1m1 0h1m6 0h1m6 0h1m3 0h2m4 0h1m6 0h1m18 0h1m4 0h1m1 0h1m-78 1h1m3 0h2m16 0h1m29 0h2m5 0h1m9 0h1m3 0h1m-58 1h1m16 0h2m27 0h1m8 0h1m5 0h1m6 0h1m3 0h1m1 0h1m9 0h1m-110 1h1m8 0h1m2 0h1m2 0h1m7 0h2m38 0h1m7 0h1m3 0h1m2 0h1m14 0h1m1 0h1m-78 1h1m5 0h1m2 0h1m5 0h1m22 0h1m17 0h1m-63 1h1m3 0h1m5 0h1m7 0h2m5 0h1m2 0h1m19 0h1m1 0h1m22 0h1m-75 1h3m1 0h1m13 0h1m3 0h1m13 0h1m-34 1h1m12 0h1m20 0h1m11 0h1m4 0h2m4 0h1m9 0h1m6 0h1m15 0h1m-96 1h1m8 0h1m27 0h1m16 0h1m-69 1h1m15 0h1m3 0h1m2 0h1m1 0h1m5 0h1m1 0h2m24 0h1m1 0h2m13 0h1m27 0h1m-80 1h1m21 0h1m2 0h1m14 0h1m22 0h1m1 0h1m7 0h1m-65 1h1m1 0h1m15 0h2m7 0h1m6 0h1m-53 1h1m5 0h1m22 0h1m38 0h1m4 0h1m9 0h1m6 0h1m-96 1h1m5 0h3m3 0h1m35 0h1m18 0h2m8 0h1m10 0h1m-61 1h1m11 0h1m34 0h1m4 0h1m6 0h1m-81 1h1m10 0h1m24 0h1m6 0h1m2 0h1m19 0h1m4 0h1m3 0h1m8 0h1m-86 1h1m17 0h1m33 0h1m6 0h1m11 0h1m1 0h1m1 0h1m3 0h1m4 0h1m-80 1h1m1 0h1m5 0h1m1 0h1m9 0h1m49 0h3m4 0h1m4 0h1m-95 1h1m8 0h1m4 0h1m9 0h1m1 0h1m19 0h1m9 0h1m15 0h1m6 0h1m14 0h1m-96 1h1m7 0h1m1 0h1m6 0h1m11 0h1m11 0h1m3 0h1m14 0h2m3 0h1m13 0h1m5 0h1m3 0h3m2 0h1m-62 1h1m21 0h1m1 0h1m26 0h1m-77 1h1m59 0h1m6 0h1m6 0h1m1 0h1m4 0h1m2 0h1m-89 1h1m17 0h1m12 0h1m41 0h1m4 0h1m1 0h1m5 0h1m-77 1h1m25 0h1m21 0h1m20 0h1m3 0h1m3 0h1m-64 1h1m51 0h1m7 0h1m1 0h1m-77 1h1m1 0h1m23 0h1m-48 1h1m48 0h1m35 0h1m-18 1h1m16 0h1m7 1h1m-37 1h1m1 0h1m-31 1h1m29 0h1m1 0h1m7 0h1m-39 1h1m11 0h1m27 1h1" stroke="#2525d8" stroke-width="1" fill="none"/>
<path d="M0 0.5m127 468h1m16 2h1m-39 1h1m6 0h1m31 0h1m7 0h1m2 0h2m-67 1h2m19 0h3m3 0h1m7 0h1m4 0h1m8 0h1m7 0h1m1 0h1m4 0h1m-56 1h1m3 0h1m1 0h2m5 0h2m3 0h2m6 0h1m12 0h1m15 0h2m-101 1h1m14 0h1m11 0h1m2 0h1m1 0h1m3 0h1m1 0h1m7 0h2m1 0h2m4 0h1m7 0h1m8 0h1m1 0h1m1 0h1m-74 1h1m3 0h1m8 0h1m11 0h1m9 0h1m3 0h1m2 0h1m2 0h1m2 0h1m5 0h2m6 0h1m3 0h1m12 0h1m-83 1h1m5 0h1m2 0h1m12 0h1m6 0h1m7 0h4m3 0h1m55 0h1m-108 1h1m20 0h1m4 0h1m6 0h2m17 0h1m5 0h1m-49 1h2m19 0h1m6 0h1m70 0h1m-111 1h1m1 0h1m1 0h1m1 0h1m1 0h1m1 0h1m5 0h2m5 0h1m5 0h1m-28 1h1m106 1h1m-110 2h1m2 0h1m106 0h1m-109 1h1m-2 1h1m108 1h1m-110 1h1m1 0h2m-4 1h1m1 2h1m105 0h1m-110 1h1m2 0h1m99 0h1m5 0h1m-107 1h1m98 1h1m-101 1h1m68 0h1m2 0h1m1 0h1m14 0h1m1 0h1m6 0h1m3 0h2m1 0h1m1 0h1m-62 1h1m7 0h1m16 0h1m21 0h1m1 0h1m1 0h1m-96 1h1m39 0h1m6 0h2m23 0h1m6 0h1m1 0h1m1 0h1m1 0h1m5 0h1m3 0h1m4 0h1m1 0h1m2 0h1m-108 1h1m3 0h1m42 0h1m11 0h1m8 0h1m11 0h1m1 0h1m4 0h1m1 0h1m12 0h1m1 0h1m-105 1h2m39 0h2m17 0h1m3 0h1m3 0h1m20 0h1m1 0h1m1 0h1m-93 1h1m10 0h1m29 0h1m10 0h1m6 0h1m2 0h1m1 0h1m3 0h1m6 0h1m2 0h1m-82 1h1m1 0h1m20 0h1m18 0h1m11 0h1m2 0h2m4 0h1m1 0h1m3 0h1m17 0h1m5 0h1m-88 1h1m40 0h1m5 0h1m7 0h1m2 0h1m2 0h1m2 0h1m12 0h1m-84 1h1m8 0h1m5 0h1m1 0h1m17 0h1m1 0h2m8 0h2m3 0h1m12 0h1m-63 1h1m30 0h1m4 0h1m7 0h1m3 0h1m2 0h1m8 0h1m-65 1h1m2 0h1m1 0h1m8 0h1m11 0h1m7 0h1m23 0h1m9 0h1m8 0h1m7 0h1m16 0h1m-103 1h1m4 0h1m14 0h1m3 0h1m2 0h1m9 0h1m4 0h1m1 0h1m7 0h1m15 0h1m-67 1h1m14 0h1m5 0h1m1 0h1m14 0h1m1 0h1m1 0h1m4 0h1m2 0h2m12 0h1m8 0h1m23 0h1m-94 1h1m2 0h1m12 0h1m1 0h2m4 0h1m1 0h1m1 0h1m25 0h1m2 0h1m9 0h1m5 0h1m-66 1h1m2 0h1m1 0h1m5 0h1m1 0h3m2 0h1m1 0h1m17 0h2m1 0h1m55 0h1m-105 1h1m16 0h1m7 0h2m5 0h1m26 0h1m28 0h1m-78 1h1m1 0h1m1 0h1m20 0h1m14 0h1m1 0h1m10 0h1m8 0h1m5 0h2m-60 1h1m3 0h3m65 0h1m-71 1h1m1 0h3m4 0h1m21 0h1m22 0h1m25 0h1m-94 1h1m3 0h1m9 0h1m31 0h1m23 0h1m25 0h1m-94 1h1m4 0h1m1 0h1m3 0h1m45 0h1m-55 1h1m7 0h1m6 0h2m3 0h1m33 0h1m17 0h1m-72 1h1m4 0h1m8 0h1m-15 1h1m16 0h1m20 0h1m12 0h2m38 0h1m-100 1h2m7 0h2m5 0h2m47 0h1m25 0h1m-93 1h1m4 0h1m8 0h1m2 0h2m8 0h1m18 0h1m30 0h1m8 0h1m-83 1h1m5 0h1m2 0h1m10 0h2m2 0h1m32 0h1m2 0h1m18 0h1m-80 1h3m8 0h1m1 0h2m13 0h1m43 0h1m2 0h1m13 0h1m-83 1h1m1 0h1m6 0h1m8 0h1m58 0h1m23 0h1m-102 1h1m2 0h1m4 0h1m28 0h1m28 0h1m1 0h1m10 0h1m1 0h1m-78 1h1m2 0h1m5 0h1m63 0h1m1 0h1m-86 1h1m11 0h1m5 0h1m1 0h1m4 0h1m3 0h1m7 0h1m5 0h1m12 0h1m23 0h1m15 0h2m-100 1h1m3 0h3m2 0h1m4 0h1m63 0h2m9 0h1m-91 1h1m8 0h1m8 0h1m2 0h1m4 0h1m2 0h1m4 0h1m25 0h1m11 0h1m-56 1h1m12 0h1m15 0h1m31 0h1m1 0h1m1 0h1m17 0h1m-98 1h1m4 0h1m11 0h1m33 0h1m42 0h1m-91 1h1m5 0h1m2 0h1m16 0h1m18 0h1m12 0h1m3 0h1m10 0h1m2 0h1m3 0h1m-83 1h1m2 0h1m2 0h1m12 0h1m7 0h1m47 0h1m4 0h2m-72 1h1m9 0h1m53 0h1m1 0h1m4 0h2m-73 1h1m7 0h1m54 0h1m6 0h1m7 0h1m-90 1h1m5 0h1m2 0h1m5 0h1m3 0h1m19 0h1m33 0h1m4 0h1m6 0h1m-85 1h1m33 0h1m8 0h1m6 0h1m24 0h2m5 0h1m-86 1h1m8 0h1m5 0h1m73 0h2m1 0h2m-87 1h1m2 0h1m1 0h1m5 0h1m24 0h1m32 0h1m1 0h1m9 0h1m1 0h1m13 0h1m-105 1h1m4 0h1m35 0h1m29 0h1m5 0h2m5 0h1m1 0h1m2 0h1m-99 1h1m12 0h1m4 0h2m1 0h1m7 0h1m6 0h1m14 0h1m13 0h1m24 0h1m-75 1h1m11 0h2m6 0h1m49 0h1m-72 1h1m2 0h1m34 0h1m16 0h1m3 0h1m4 0h1m7 0h1m-64 1h1m19 0h1m19 0h1m21 0h1m10 0h1m1 0h1m-81 1h1m4 0h1m28 0h1m21 0h1m1 0h1m1 0h1m1 0h1m2 0h1m2 0h1m1 0h2m5 0h1m8 0h1m-89 1h1m14 0h1m15 0h1m34 0h1m1 0h1m8 0h1m3 0h1m-73 1h1m2 0h1m5 0h1m9 0h1m32 0h1m3 0h1m-66 1h1m2 0h1m9 0h1m19 0h1m41 0h1m-80 1h1m77 0h1m12 0h1m-88 1h1m8 0h1m3 0h1m21 0h1m37 0h1m10 0h1m-74 1h1m53 0h1m4 0h2m-72 1h1m4 0h1m28 0h1m-35 1h1m51 0h1m38 0h1m-87 1h1m14 0h1m-25 2h1m39 0h1m7 0h1m36 0h1m3 0h1m-85 1h1m55 0h1m8 0h1m13 0h1m-71 1h1m4 0h1m62 0h1m-20 1h1m3 0h1m-5 1h1m34 0h1m-99 1h1m88 1h1" stroke="#181ef1" stroke-width="1" fill="none"/>
<path d="M0 0.5m154 470h1m3 0h1m-17 1h1m3 0h1m2 0h1m5 0h1m-50 1h2m24 0h3m-26 1h1m14 0h1m4 0h1m1 0h2m2 0h1m1 0h2m1 0h1m6 0h1m3 0h3m-59 1h2m7 0h1m2 0h1m8 0h2m3 0h1m14 0h1m9 0h1m7 0h1m1 0h1m-105 1h1m8 0h2m17 0h1m5 0h1m2 0h1m3 0h1m2 0h1m5 0h1m9 0h1m3 0h1m2 0h1m8 0h1m7 0h1m4 0h1m14 0h2m-97 1h1m6 0h1m7 0h2m3 0h1m1 0h2m1 0h1m5 0h1m5 0h1m3 0h1m1 0h1m1 0h3m1 0h1m2 0h1m-58 1h1m1 0h1m1 0h1m3 0h1m1 0h1m4 0h1m2 0h1m1 0h2m1 0h1m5 0h2m1 0h1m4 0h1m3 0h1m5 0h1m4 0h1m5 0h2m39 0h2m-104 1h1m1 0h2m12 0h1m4 0h1m7 0h1m-28 1h1m12 0h1m3 0h1m1 0h1m11 0h1m-38 1h1m5 0h1m9 0h1m3 0h1m86 0h2m-106 2h1m-1 2h1m103 0h1m-1 1h1m-107 1h1m-1 1h1m105 0h1m-106 1h1m104 0h1m-107 1h3m103 0h2m1 0h1m-8 1h1m5 0h1m-26 1h1m4 0h1m4 0h1m2 0h2m4 0h2m2 0h1m-27 1h1m3 0h1m6 0h1m2 0h2m1 0h1m3 0h1m1 0h1m1 0h2m2 0h1m-110 1h2m63 0h1m5 0h3m8 0h3m2 0h1m6 0h2m2 0h1m-100 1h1m1 0h1m65 0h2m9 0h2m4 0h1m1 0h2m2 0h1m4 0h1m1 0h1m1 0h2m-101 1h1m39 0h1m8 0h1m5 0h1m3 0h2m6 0h1m1 0h1m4 0h2m1 0h4m3 0h2m1 0h1m3 0h1m7 0h2m3 0h1m-106 1h2m35 0h1m3 0h1m5 0h1m5 0h1m2 0h1m1 0h1m6 0h1m2 0h1m2 0h3m3 0h1m1 0h2m11 0h1m2 0h1m-94 1h2m2 0h2m25 0h1m7 0h2m10 0h1m1 0h1m2 0h1m2 0h1m1 0h1m1 0h4m38 0h1m-104 1h2m2 0h1m8 0h1m5 0h1m4 0h1m17 0h1m1 0h1m4 0h1m4 0h1m1 0h1m2 0h1m4 0h1m6 0h1m1 0h1m4 0h1m2 0h1m-82 1h1m1 0h1m1 0h1m37 0h3m4 0h1m1 0h2m2 0h2m2 0h1m8 0h4m3 0h1m1 0h1m-77 1h1m11 0h1m5 0h1m7 0h1m8 0h1m3 0h1m2 0h1m1 0h1m5 0h1m2 0h2m5 0h1m3 0h1m6 0h1m-74 1h2m2 0h1m9 0h1m11 0h1m8 0h1m9 0h1m1 0h1m3 0h1m16 0h1m-70 1h1m1 0h2m4 0h1m14 0h1m6 0h1m2 0h1m5 0h1m1 0h1m1 0h1m-46 1h2m4 0h1m2 0h1m1 0h1m14 0h1m7 0h1m1 0h1m4 0h1m1 0h1m21 0h1m16 0h1m-79 1h3m2 0h2m2 0h1m4 0h1m1 0h1m9 0h1m3 0h2m3 0h1m1 0h1m-40 1h1m9 0h1m1 0h1m13 0h1m1 0h2m4 0h1m-34 1h1m6 0h1m1 0h1m3 0h3m3 0h1m2 0h1m1 0h2m3 0h1m19 0h1m2 0h1m33 0h1m-85 1h1m8 0h1m10 0h1m1 0h1m6 0h1m5 0h1m3 0h1m27 0h1m2 0h1m14 0h1m-67 1h1m3 0h1m5 0h3m20 0h1m-37 1h1m-3 1h1m6 0h2m1 0h1m-5 1h1m3 0h1m4 1h1m-11 1h2m64 1h1m-67 1h1m1 0h1m3 0h1m-13 1h1m7 0h1m8 0h1m57 0h1m-70 1h2m2 0h1m-7 1h1m3 0h2m59 0h1m4 0h1m-54 1h1m6 0h1m2 0h1m20 0h1m-43 1h1m-2 1h1m18 0h1m-29 1h1m1 0h1m8 0h1m83 0h1m-91 1h1m5 1h1m2 0h1m64 0h1m4 1h1m-75 1h1m2 0h1m16 0h1m17 0h1m26 0h1m7 0h1m10 0h1m-81 1h1m59 0h1m2 0h1m-72 1h2m-2 1h1m5 0h1m2 0h1m64 0h1m4 0h1m-79 1h1m1 0h1m37 0h1m34 0h2m-81 1h2m27 0h1m37 0h1m13 0h1m-83 1h1m3 0h1m1 0h1m65 0h1m4 0h1m1 0h2m-83 1h1m4 0h1m67 0h1m3 0h2m2 0h1m2 0h1m-66 1h1m55 0h1m5 0h1m2 0h1m-9 1h1m2 0h1m2 0h2m2 0h1m-11 1h1m4 0h1m1 0h1m1 0h2m-14 1h2m10 0h1m-77 1h1m1 0h1m63 0h1m2 0h1m8 0h1m1 0h1m-70 1h1m58 0h1m2 0h2m-71 1h1m59 0h1m3 0h2m2 0h1m7 0h1m-70 1h1m58 0h2m-57 1h1m27 0h1m28 0h1m2 0h2m2 0h1m-77 1h1m5 0h1m14 0h1m47 0h1m-91 1h1m85 0h1m4 0h2m6 0h1m-11 1h3m6 0h1m-6 1h1m-10 1h1m4 0h1m-73 1h1m46 1h1m27 1h1m-3 3h1m-76 1h1m24 0h1m24 2h1" stroke="#133ef4" stroke-width="1" fill="none"/>
<path d="M0 0.5m132 471h1m3 1h1m16 0h2m-33 1h1m19 0h1m7 0h1m-33 1h1m3 0h3m2 0h1m6 0h2m7 0h1m1 0h1m1 0h1m1 0h1m2 0h2m3 0h1m-61 1h1m2 0h1m2 0h1m7 0h1m8 0h1m1 0h2m11 0h1m1 0h1m16 0h1m-67 1h1m20 0h1m1 0h2m7 0h2m1 0h3m4 0h1m2 0h1m21 0h1m-97 1h1m27 0h1m4 0h1m2 0h1m2 0h2m2 0h1m6 0h1m6 0h1m1 0h1m-62 1h1m3 0h1m4 0h1m3 0h1m2 0h1m3 0h1m1 0h1m5 0h1m2 0h1m5 0h1m1 0h1m1 0h1m4 0h1m-45 1h2m6 0h1m2 0h1m2 0h1m2 0h1m2 0h3m2 0h1m5 0h2m2 0h1m5 0h1m2 0h1m54 0h1m-103 1h1m1 0h3m1 0h1m4 0h1m4 0h1m-23 1h1m1 0h1m2 0h1m1 0h1m3 0h1m94 0h1m0 1h1m-109 1h1m2 0h1m1 0h1m101 0h1m-104 1h1m-3 1h1m105 0h1m-1 3h1m-105 1h1m101 0h1m-12 1h1m2 0h1m3 0h1m1 0h1m-105 1h1m82 0h1m2 0h2m3 0h3m2 0h1m4 0h1m-99 1h1m59 0h1m1 0h1m7 0h1m1 0h1m2 0h1m7 0h1m10 0h1m2 0h2m3 0h1m2 0h1m-105 1h1m59 0h1m2 0h1m2 0h2m3 0h2m2 0h1m1 0h1m8 0h1m1 0h2m4 0h1m1 0h1m1 0h3m2 0h2m-65 1h1m1 0h1m4 0h1m4 0h2m3 0h3m2 0h1m5 0h1m1 0h1m6 0h2m1 0h1m1 0h1m2 0h1m4 0h1m-91 1h1m29 0h2m15 0h3m3 0h3m3 0h2m2 0h1m1 0h1m3 0h2m7 0h1m4 0h1m1 0h2m-86 1h2m18 0h1m3 0h1m3 0h1m1 0h1m4 0h1m1 0h1m3 0h1m1 0h2m2 0h1m1 0h1m2 0h1m2 0h4m2 0h2m6 0h1m1 0h1m1 0h1m2 0h1m-65 1h1m1 0h1m3 0h1m4 0h1m3 0h1m3 0h1m2 0h1m5 0h3m1 0h1m12 0h1m7 0h1m3 0h2m1 0h1m2 0h1m-78 1h1m3 0h1m2 0h2m1 0h1m5 0h2m1 0h1m1 0h3m9 0h1m3 0h2m8 0h1m3 0h1m4 0h1m6 0h1m3 0h2m1 0h1m-67 1h1m1 0h1m1 0h2m2 0h2m2 0h2m2 0h2m2 0h1m5 0h1m3 0h2m1 0h1m1 0h1m1 0h2m5 0h2m-47 1h2m1 0h1m3 0h4m4 0h1m2 0h1m1 0h1m3 0h1m4 0h1m1 0h2m6 0h1m-38 1h2m11 0h1m2 0h1m5 0h2m2 0h1m4 0h3m1 0h1m1 0h1m5 0h1m-52 1h1m2 0h1m3 0h1m7 0h1m3 0h1m2 0h1m1 0h1m3 0h2m3 0h1m10 0h1m-38 1h2m5 0h2m2 0h2m1 0h1m6 0h3m8 0h2m-39 1h1m4 0h2m5 0h4m3 0h1m3 0h2m1 0h2m1 0h1m1 0h1m3 0h1m31 0h1m-62 1h1m1 0h2m3 0h1m1 0h1m2 0h1m2 0h2m1 0h1m-25 1h1m3 0h1m7 0h1m4 0h2m3 0h1m1 0h1m-10 1h1m6 0h1m10 0h1m-3 3h1m-12 3h1m6 6h1m-1 2h1m-2 2h1m76 1h1m-81 3h1m-3 1h1m4 0h1m68 1h1m-71 3h1m73 1h1m2 0h2m-8 1h1m1 0h2m-3 1h1m-4 1h1m-3 1h1m2 0h2m1 0h1m-4 1h2m3 1h1m-6 1h1m2 1h1m-4 1h1m2 0h1m0 1h2m-6 1h1m1 0h1m2 3h1m-1 3h1" stroke="#0d5ef8" stroke-width="1" fill="none"/>
<path d="M0 0.5m149 473h1m-17 1h1m4 0h1m2 0h1m2 0h1m5 0h2m-35 1h1m14 0h3m4 0h2m1 0h1m4 0h1m-57 1h1m13 0h1m21 0h1m3 0h2m1 0h3m-53 1h1m4 0h2m19 0h1m6 0h1m3 0h1m8 0h1m1 0h1m-69 1h1m2 0h1m7 0h2m1 0h1m7 0h1m2 0h1m3 0h1m6 0h3m13 0h2m-57 1h1m13 0h1m2 0h1m4 0h1m1 0h1m1 0h1m67 0h1m-102 1h1m9 0h1m3 0h1m2 0h1m3 0h1m2 0h1m4 0h2m3 0h1m-33 1h1m1 0h1m1 0h1m1 0h2m1 0h1m4 0h1m2 0h1m-18 1h1m-5 3h2m-2 1h1m103 0h1m-103 1h1m100 0h1m-103 1h1m101 0h1m-2 1h1m-102 1h1m72 0h1m21 0h2m6 0h1m-105 1h1m68 0h1m2 0h1m1 0h1m4 0h1m2 0h1m2 0h1m1 0h1m8 0h1m-42 1h2m4 0h1m3 0h2m1 0h1m4 0h2m5 0h2m5 0h2m-87 1h1m37 0h1m15 0h1m1 0h2m2 0h1m2 0h1m11 0h1m6 0h1m1 0h1m-87 1h1m33 0h1m7 0h1m4 0h1m3 0h2m11 0h1m3 0h1m6 0h1m-74 1h1m24 0h2m1 0h1m2 0h2m1 0h1m8 0h1m5 0h1m7 0h1m2 0h1m-62 1h1m7 0h1m17 0h1m14 0h1m18 0h1m31 0h1m-89 1h1m1 0h1m1 0h1m5 0h1m5 0h1m1 0h1m2 0h2m4 0h1m4 0h1m3 0h1m19 0h1m8 0h1m-68 1h1m7 0h1m1 0h1m4 0h1m7 0h1m1 0h4m2 0h1m1 0h1m5 0h1m1 0h1m16 0h1m-55 1h1m3 0h1m2 0h2m6 0h1m2 0h1m2 0h1m2 0h2m5 0h1m-30 1h1m6 0h1m5 0h1m2 0h1m4 0h2m8 0h1m8 0h1m-42 1h1m4 0h1m1 0h3m1 0h2m4 0h1m3 0h1m4 0h1m18 0h1m-51 1h1m2 0h1m2 0h1m7 0h2m5 0h1m14 0h1m15 0h1m-56 1h1m6 0h1m6 0h1m2 0h1m2 0h1m1 0h1m5 0h1m16 0h1m-30 1h1m2 0h1m4 0h1m-23 1h1m21 0h1m-2 9h1m70 22h1" stroke="#0885fb" stroke-width="1" fill="none"/>
<path d="M0 0.5m130 475h1m12 0h2m1 0h1m2 0h1m1 0h3m-35 1h1m18 0h1m4 0h1m-50 1h1m9 0h3m12 0h2m3 0h3m1 0h1m2 0h1m4 0h1m17 0h1m-63 1h1m6 0h1m4 0h1m2 0h1m1 0h1m12 0h1m5 0h1m3 0h1m22 0h1m-68 1h2m2 0h1m2 0h2m1 0h1m3 0h1m1 0h1m-53 1h1m4 0h1m8 0h1m6 0h2m4 0h2m6 0h1m7 0h1m2 0h1m-40 1h1m4 0h1m1 0h2m3 0h2m2 0h1m8 0h1m70 0h1m-102 1h1m5 0h1m4 0h1m89 0h1m-100 1h1m3 0h1m94 0h1m-102 1h2m-2 1h1m-2 2h1m-2 1h1m1 0h1m99 0h1m-11 1h1m4 0h1m-98 1h1m76 0h2m4 0h3m1 0h3m3 0h2m3 0h1m-29 1h1m4 0h3m14 0h1m-45 1h1m3 0h1m4 0h3m4 0h1m4 0h1m6 0h2m-34 1h2m4 0h1m1 0h2m1 0h1m1 0h1m8 0h1m-66 1h2m27 0h1m4 0h2m1 0h1m5 0h3m2 0h2m4 0h1m5 0h2m-63 1h1m18 0h1m2 0h2m11 0h1m1 0h1m2 0h1m-37 1h1m1 0h1m1 0h1m3 0h2m4 0h1m2 0h1m2 0h2m3 0h1m1 0h1m3 0h1m5 0h1m-36 1h1m1 0h1m1 0h4m3 0h1m10 0h1m5 0h1m-23 1h1m2 0h1m8 0h1m2 0h1m21 0h1m-32 1h2m7 0h1m-27 1h1m5 0h1m7 0h1m8 0h1m4 0h1m-20 1h1m12 0h1m8 0h2m-20 1h1m5 0h1m0 1h1m-6 2h1m1 0h1" stroke="#04b3fd" stroke-width="1" fill="none"/>
<path d="M0 0.5m148 475h1m1 0h1m-29 1h1m14 0h1m1 0h3m3 0h1m5 0h1m2 0h1m-43 1h1m16 0h1m3 0h3m2 0h2m-43 1h1m7 0h2m1 0h1m1 0h5m5 0h2m1 0h1m1 0h2m3 0h1m23 0h1m-62 1h1m3 0h1m1 0h1m1 0h1m3 0h1m2 0h1m2 0h2m3 0h1m17 0h1m-59 1h1m5 0h1m2 0h2m2 0h3m1 0h1m7 0h1m-34 1h2m4 0h1m3 0h1m6 0h1m-31 1h1m2 0h1m46 2h1m2 0h1m46 0h1m-1 1h1m-103 1h2m55 0h1m24 1h1m2 1h1m2 0h1m1 0h1m9 0h1m-100 1h1m68 0h1m11 0h1m1 0h1m3 0h2m2 0h2m3 0h4m-41 1h1m5 0h1m1 0h1m6 0h1m3 0h3m3 0h1m-33 1h3m2 0h2m1 0h2m2 0h3m4 0h1m-72 1h1m39 0h1m1 0h1m2 0h1m15 0h1m7 0h1m-39 1h1m2 0h1m4 0h3m2 0h2m1 0h1m-21 1h1m1 0h2m4 0h1m2 0h1m-37 1h1m1 0h1m3 0h1m13 0h2m3 0h1m-25 1h1m1 0h1m3 0h1m3 0h3m1 0h2m2 0h1m4 0h1m7 0h1m-15 1h1m-6 3h1m-8 2h1m12 0h1" stroke="#00ddf9" stroke-width="1" fill="none"/>
<path d="M0 0.5m142 476h1m9 0h1m-26 1h1m12 0h3m10 0h1m-36 1h1m5 0h1m2 0h1m1 0h1m6 0h1m-30 1h1m1 0h2m2 0h1m1 0h1m1 0h2m1 0h1m1 0h3m2 0h1m3 0h1m22 0h1m-74 1h1m14 0h2m1 0h1m2 0h2m5 0h1m1 0h1m1 0h2m1 0h1m38 0h1m-80 1h2m1 0h3m4 0h1m12 0h1m1 0h1m2 0h1m-48 1h1m3 0h2m1 0h1m1 0h1m3 0h1m1 0h1m2 0h1m4 0h2m4 0h1m3 0h1m44 0h1m-77 1h1m12 0h1m17 0h1m9 0h1m15 0h1m12 0h1m-74 1h2m39 1h1m5 0h1m9 0h1m17 0h1m22 0h1m-71 1h1m36 0h1m32 0h2m-70 1h1m26 0h1m10 0h1m-70 1h1m1 0h1m41 0h1m30 0h1m4 0h1m1 0h1m2 0h1m10 0h1m-58 1h1m2 0h1m12 0h1m5 0h1m1 0h1m7 0h3m2 0h3m4 0h3m2 0h1m3 0h2m-95 1h2m50 0h1m9 0h1m3 0h1m1 0h1m1 0h2m1 0h1m3 0h1m-78 1h1m41 0h1m2 0h1m1 0h1m2 0h1m5 0h1m2 0h1m2 0h2m5 0h1m6 0h1m-76 1h1m37 0h1m1 0h1m1 0h2m2 0h3m1 0h2m-52 1h1m12 0h1m13 0h1m1 0h1m2 0h1m1 0h3m-37 1h1m1 0h1m33 0h1m-35 1h1m2 0h1m2 0h7m3 0h1m-12 1h1m3 0h1m11 3h1" stroke="#00e5c1" stroke-width="1" fill="none"/>
<path d="M0 0.5m146 476h1m1 0h2m3 0h1m-17 1h1m5 0h1m8 0h1m-22 1h1m1 0h3m1 0h3m4 0h1m7 0h1m-47 1h1m7 0h1m4 0h1m1 0h1m4 0h1m1 0h3m1 0h2m3 0h1m1 0h1m-40 1h1m3 0h1m1 0h2m9 0h1m5 0h1m1 0h1m5 0h1m1 0h1m19 0h1m-72 1h2m3 0h1m1 0h3m1 0h1m1 0h4m4 0h1m1 0h1m1 0h1m14 0h1m-64 1h1m7 0h2m2 0h1m1 0h1m2 0h2m1 0h1m2 0h1m1 0h2m1 0h3m1 0h1m4 0h1m11 0h1m1 0h1m14 0h1m6 0h2m6 0h1m-84 1h2m2 0h2m2 0h1m3 0h1m1 0h1m4 0h3m3 0h3m2 0h2m5 0h3m9 0h1m5 0h1m2 0h1m7 0h2m7 0h1m-75 1h1m1 0h1m1 0h1m12 0h1m10 0h1m2 0h1m1 0h1m2 0h1m2 0h1m5 0h1m2 0h1m2 0h1m4 0h1m3 0h1m3 0h1m3 0h1m27 0h1m-100 1h1m3 0h1m9 0h1m20 0h1m1 0h1m28 0h1m1 0h1m2 0h1m1 0h1m5 0h3m2 0h1m1 0h1m10 0h1m-97 1h1m2 0h1m33 0h1m4 0h1m1 0h1m1 0h2m8 0h2m9 0h1m2 0h1m10 0h2m14 0h1m-65 1h1m4 0h1m3 0h1m2 0h1m2 0h1m3 0h1m1 0h1m5 0h2m3 0h1m6 0h3m1 0h2m4 0h2m13 0h2m-65 1h1m2 0h2m2 0h1m19 0h1m1 0h1m2 0h1m10 0h2m4 0h1m2 0h1m1 0h1m5 0h1m1 0h1m-98 1h1m32 0h1m4 0h1m1 0h1m8 0h1m2 0h1m21 0h2m3 0h1m1 0h1m-48 1h1m6 0h1m2 0h1m7 0h1m2 0h3m1 0h1m2 0h2m4 0h1m-66 1h1m29 0h1m2 0h1m8 0h1m1 0h2m1 0h1m3 0h1m-29 1h1m-26 1h1m4 0h1m18 0h1m-23 1h4m16 0h1m1 0h1m-22 1h1m1 0h1m8 0h1" stroke="#00ee89" stroke-width="1" fill="none"/>
<path d="M0 0.5m147 476h1m0 1h3m-11 1h2m-17 1h1m9 0h2m1 0h1m2 0h1m11 0h1m-62 1h1m1 0h1m10 0h1m2 0h1m1 0h1m4 0h1m2 0h2m2 0h1m1 0h1m2 0h1m1 0h1m12 0h1m-55 1h1m3 0h1m1 0h1m5 0h1m1 0h1m3 0h1m1 0h3m1 0h3m4 0h3m1 0h2m2 0h1m1 0h1m5 0h2m2 0h2m-67 1h1m8 0h1m8 0h1m2 0h1m1 0h1m3 0h1m4 0h2m1 0h1m3 0h3m3 0h2m1 0h2m12 0h3m2 0h2m-80 1h1m3 0h1m7 0h1m5 0h1m3 0h2m10 0h3m1 0h3m5 0h3m2 0h1m4 0h1m6 0h2m2 0h1m3 0h1m1 0h1m3 0h1m-80 1h1m1 0h1m2 0h2m5 0h1m3 0h1m1 0h1m3 0h1m1 0h1m1 0h1m2 0h1m4 0h1m2 0h3m1 0h1m4 0h1m2 0h3m3 0h1m4 0h1m1 0h3m2 0h5m1 0h1m2 0h1m2 0h2m-84 1h1m1 0h3m9 0h1m2 0h1m2 0h2m3 0h1m1 0h2m1 0h2m4 0h3m2 0h2m3 0h2m3 0h2m3 0h1m4 0h2m3 0h2m1 0h1m2 0h1m1 0h1m-75 1h1m6 0h1m10 0h1m2 0h1m3 0h1m2 0h2m2 0h1m5 0h2m7 0h2m1 0h1m8 0h3m2 0h1m1 0h2m1 0h3m3 0h4m2 0h2m-86 1h5m21 0h2m1 0h2m4 0h1m1 0h2m3 0h1m4 0h1m2 0h1m1 0h1m1 0h1m2 0h1m6 0h1m5 0h1m1 0h1m3 0h1m4 0h2m2 0h4m3 0h1m2 0h1m1 0h1m-70 1h1m7 0h2m3 0h1m3 0h3m2 0h2m3 0h1m1 0h2m1 0h1m4 0h1m7 0h2m1 0h2m3 0h1m8 0h2m-91 1h2m31 0h1m1 0h1m6 0h1m1 0h2m3 0h1m2 0h1m4 0h3m1 0h1m2 0h3m1 0h2m-70 1h1m2 0h2m24 0h2m3 0h2m1 0h3m1 0h1m2 0h5m3 0h2m5 0h1m-61 1h2m3 0h1m26 0h1m1 0h2m2 0h3m2 0h1m-29 1h1m12 0h4m1 0h5m-36 1h1m2 0h1m1 0h1m8 0h1m3 0h1m3 0h1m3 0h1m2 0h1m-31 1h1m7 0h1m1 0h1m1 0h2m2 0h1m2 0h2m2 0h1m-8 1h1" stroke="#11ee57" stroke-width="1" fill="none"/>
<path d="M0 0.5m150 476h1m-7 1h4m3 0h1m-9 1h1m5 0h1m-10 1h1m1 0h2m7 0h2m-41 1h1m7 0h2m4 0h1m3 0h1m1 0h1m1 0h1m1 0h6m10 0h1m1 0h1m-44 1h1m3 0h1m2 0h1m6 0h1m2 0h1m1 0h1m1 0h2m7 0h2m11 0h1m-77 1h1m14 0h2m3 0h3m1 0h2m1 0h1m5 0h2m3 0h3m5 0h1m1 0h1m1 0h1m1 0h2m2 0h1m18 0h2m-91 1h1m3 0h1m1 0h1m3 0h1m4 0h2m8 0h1m1 0h3m10 0h2m1 0h2m8 0h2m1 0h1m4 0h1m5 0h1m1 0h1m1 0h1m2 0h2m1 0h2m9 0h1m1 0h1m-96 1h1m4 0h2m2 0h1m1 0h2m4 0h1m5 0h1m1 0h1m3 0h1m3 0h2m7 0h1m2 0h1m8 0h1m1 0h1m1 0h1m1 0h2m6 0h1m5 0h1m1 0h2m1 0h1m4 0h1m9 0h1m-98 1h2m5 0h4m3 0h1m2 0h1m6 0h3m4 0h1m3 0h1m1 0h1m4 0h1m2 0h2m3 0h3m3 0h1m3 0h3m3 0h1m6 0h1m3 0h1m3 0h2m1 0h1m1 0h3m8 0h1m-97 1h1m2 0h2m4 0h1m1 0h1m11 0h1m4 0h1m3 0h1m1 0h1m2 0h2m5 0h1m2 0h1m2 0h1m1 0h1m6 0h1m3 0h1m10 0h2m8 0h3m2 0h1m1 0h1m1 0h2m-92 1h1m3 0h1m13 0h1m1 0h1m2 0h1m3 0h2m2 0h1m3 0h2m6 0h1m2 0h1m4 0h1m2 0h2m2 0h1m1 0h1m2 0h1m2 0h1m7 0h1m9 0h3m1 0h2m-94 1h1m2 0h2m1 0h1m18 0h2m2 0h1m2 0h1m6 0h1m11 0h3m1 0h1m4 0h1m1 0h1m2 0h1m1 0h3m1 0h1m19 0h3m-92 1h2m22 0h2m3 0h1m14 0h2m2 0h1m2 0h1m1 0h2m6 0h1m-62 1h1m2 0h2m16 0h2m3 0h1m3 0h1m3 0h1m12 0h1m-49 1h1m1 0h1m2 0h2m15 0h2m1 0h3m1 0h1m5 0h1m4 0h1m-42 1h1m2 0h2m1 0h4m6 0h1m7 0h1m6 0h1m-25 1h1m1 0h1m3 0h1m4 0h1m1 0h3m2 0h1m-20 1h1m2 0h1m1 0h1m2 0h2m2 0h1" stroke="#29eb28" stroke-width="1" fill="none"/>
<path d="M0 0.5m142 478h1m2 0h1m1 0h1m3 0h1m1 0h1m-4 1h1m-23 1h1m6 0h1m7 0h1m-28 1h2m8 0h1m4 0h1m2 0h1m2 0h2m4 0h1m8 0h1m-49 1h1m16 0h1m5 0h1m1 0h1m-64 1h1m46 0h1m7 0h2m5 0h1m14 0h1m9 0h1m-85 1h1m2 0h1m1 0h1m3 0h1m1 0h2m14 0h1m45 0h1m-72 1h1m2 0h1m1 0h2m6 0h1m30 0h1m35 0h1m-89 1h2m7 0h1m2 0h1m1 0h2m2 0h2m5 0h1m3 0h1m6 0h1m11 0h1m2 0h2m14 0h1m13 0h2m6 0h1m-92 1h1m1 0h1m15 0h1m19 0h2m21 0h1m28 0h1m-94 1h1m2 0h1m1 0h1m10 0h1m2 0h1m2 0h1m3 0h1m2 0h1m10 0h1m4 0h2m9 0h1m11 0h1m-67 1h3m13 0h1m3 0h2m2 0h3m3 0h1m1 0h1m3 0h1m2 0h1m-36 1h1m16 0h3m3 0h1m10 0h1m-21 1h1m2 0h1m3 0h1m-29 1h2m2 0h1m4 0h2m6 0h1m1 0h4m2 0h1m-25 1h2m4 0h1m1 0h2m2 0h1m1 0h2m-11 1h1m9 0h1m3 0h1" stroke="#6ced17" stroke-width="1" fill="none"/>
<path d="M0 0.5m146 478h1m1 0h1m1 0h1m-6 1h1m-2 1h1m8 1h1m-15 1h1m3 0h1m8 0h1m-80 1h1m63 0h1m1 1h1m4 0h1m6 0h2m-86 1h1m82 0h1m-89 1h1m4 0h1m2 0h2m2 0h1m72 0h1m1 0h1m-88 1h1m2 0h1m8 0h3m-13 1h1m11 0h1m1 0h1m7 0h1m2 0h1m-27 1h1m14 0h2m-17 1h1m13 0h1m-17 1h1m2 0h4m6 0h1m1 0h1m-9 1h2m1 0h1m1 0h1m1 0h1" stroke="#afef06" stroke-width="1" fill="none"/>
<path d="M0 0.5m144 479h1m4 0h1m0 1h2m-8 1h1m5 1h1m-7 1h1m5 0h2m-7 2h1m-77 1h1m3 0h1m-6 1h4m7 1h1m-16 1h1m5 0h1m2 0h1m3 0h1m-21 1h1m17 0h1m2 0h1m-9 1h1m4 0h1m1 0h1" stroke="#dae300" stroke-width="1" fill="none"/>
<path d="M0 0.5m146 479h3m-3 1h1m-2 1h1m3 0h1m1 0h1m-8 1h2m-1 1h1m-78 2h1m77 0h1m2 0h1m-84 2h1m5 0h2m3 0h1m-13 1h1m7 0h1m1 0h1m-11 1h3m-3 1h3m1 0h1m1 0h2m1 0h1m1 0h1m-9 1h1m2 0h3" stroke="#f6ce00" stroke-width="1" fill="none"/>
<path d="M0 0.5m145 480h1m1 0h2m1 1h1m0 1h1m-6 2h3m1 0h1m-4 1h1m-81 2h1m-2 1h7m-2 1h1m2 0h2m-8 1h1m4 0h1m-5 1h1" stroke="#ffa700" stroke-width="1" fill="none"/>
<path d="M0 0.5m149 480h1m-3 1h1m-2 1h1m1 0h1m-3 1h1m-2 1h1m3 0h1m-2 1h1m-81 4h2m2 0h1m-3 1h1" stroke="#ff7800" stroke-width="1" fill="none"/>
<path d="M0 0.5m146 481h1m1 0h1m0 1h1m-3 1h1m1 0h1" stroke="#ff4e00" stroke-width="1" fill="none"/>
<path d="M0 0.5m147 482h1" stroke="#ff2400" stroke-width="1" fill="none"/>
<path d="M0 0.5m148 483h1" stroke="#f11600" stroke-width="1" fill="none"/>
<path d="M0 0.5m317 470h1m20 1h1m-18 1h1m-48 1h1m56 0h1m-56 3h1m67 3h1m-111 10h1m108 3h1m4 5h1m-114 1h1m-2 1h1m90 0h1m19 2h1m-9 1h1m24 0h1m-62 1h1m8 1h1m26 0h1m-48 2h1m62 0h1m-25 1h1m24 0h1m-47 2h1m29 0h1m-20 1h1m16 1h1m-28 1h1m-15 2h1m22 0h1m4 0h1m-10 2h1m-21 1h1m3 1h1m27 0h1m-31 1h1m44 0h1m-33 1h1m-30 1h1m6 0h1m58 0h1m-52 1h1m2 1h1m1 1h1m27 3h1m-43 1h1m3 4h1m48 1h1m-60 1h1m30 1h1m-74 1h1m86 2h1m28 1h1m-35 2h1m-29 1h1m-6 1h1m6 0h1m52 0h1m-29 4h1m3 1h1m-24 1h1m23 1h1m-83 1h1m60 1h1m23 0h1m9 0h1m-62 1h1m64 0h1m-4 2h1m10 0h1m-92 1h1m71 1h1m-2 1h3m-66 1h1m67 0h1m-8 1h1m-63 1h1" stroke="#2929a3" stroke-width="1" fill="none"/>
<path d="M0 0.5m266 461h1m63 8h1m-32 2h1m29 0h1m-43 1h1m16 0h1m6 0h1m19 0h1m-47 1h1m17 0h1m9 0h1m5 0h1m24 0h1m-84 1h1m25 0h1m11 0h1m9 0h1m-64 1h1m94 0h1m-84 1h1m10 0h1m18 0h1m5 0h1m-39 1h2m11 0h1m-26 1h1m10 0h1m-17 1h1m2 1h1m101 0h1m0 1h1m-108 4h1m106 8h1m-110 1h1m103 1h1m-105 1h1m90 1h1m5 0h1m-96 1h1m67 0h1m29 0h1m8 0h1m-37 1h1m1 0h1m8 0h1m-83 1h1m75 0h2m7 0h1m-88 1h1m63 0h1m-6 1h1m9 0h1m1 0h1m-70 1h1m65 0h1m8 0h1m7 0h1m-32 1h1m28 0h1m-7 1h1m2 0h1m25 0h1m-51 1h1m11 0h1m3 0h1m1 0h1m34 0h1m-106 1h1m45 0h1m7 0h1m5 0h1m8 0h1m9 0h2m26 0h1m-107 1h1m42 0h1m41 0h1m43 0h1m-134 1h1m50 0h1m35 0h1m14 0h1m-56 1h2m2 0h1m6 0h1m21 0h1m23 0h1m1 0h1m5 0h2m-59 1h1m55 0h1m7 0h1m-86 1h1m25 0h1m28 0h1m2 0h1m19 0h1m-25 1h1m-77 1h1m32 0h1m28 0h1m5 0h1m7 0h1m13 0h1m-91 1h1m24 0h1m15 0h1m20 0h1m37 0h1m-69 1h1m20 0h1m23 0h1m1 0h1m12 0h1m10 0h1m-110 1h1m39 0h1m36 0h1m10 0h1m6 0h1m-62 1h1m3 0h1m8 0h1m4 0h1m14 0h1m-62 1h1m24 0h1m5 0h1m3 0h1m3 0h1m13 0h1m5 0h1m1 0h1m5 0h1m8 0h1m9 0h1m-95 1h1m2 0h1m42 0h1m17 0h1m24 0h1m7 0h1m14 0h1m-112 1h1m3 0h1m36 0h1m17 0h1m5 0h1m2 0h1m12 0h1m4 0h1m-81 1h1m42 0h1m32 0h1m15 0h1m-50 1h1m13 0h1m14 0h1m12 0h1m1 0h1m9 0h1m-102 1h1m42 0h1m9 1h1m3 0h1m27 0h1m12 0h1m6 0h1m-50 1h1m49 0h1m-74 1h1m12 0h1m39 0h1m5 0h1m8 0h1m-20 1h1m2 0h1m2 0h1m2 0h1m7 0h1m-98 1h2m32 0h1m10 0h1m16 0h1m25 0h1m16 0h1m-65 1h1m38 0h1m1 0h1m21 0h1m-111 1h1m50 0h1m8 0h1m2 0h1m29 0h1m12 0h1m1 0h1m-67 1h1m1 0h1m10 0h1m13 0h1m23 0h1m2 0h1m-45 1h1m53 0h1m-103 1h2m69 0h1m12 0h1m23 0h1m1 0h1m5 0h1m-113 1h1m32 0h1m61 0h1m-96 1h2m39 0h1m17 0h1m6 0h1m7 0h1m9 0h1m3 0h1m5 0h1m-99 1h1m44 0h1m1 0h1m2 0h1m18 0h1m2 0h1m5 0h1m-14 1h1m6 0h1m3 0h1m35 0h1m-77 1h1m13 0h1m2 0h1m10 0h1m17 0h1m-83 1h2m58 0h1m2 0h1m17 0h2m17 0h2m2 0h1m-68 1h1m19 0h1m16 0h1m17 0h1m7 0h1m-56 1h1m8 0h1m4 0h1m14 0h1m5 0h1m10 0h1m-91 1h1m12 0h1m23 0h1m1 0h1m5 0h1m39 0h1m-89 1h1m85 0h1m4 0h1m-34 1h1m4 0h1m9 0h1m13 0h1m-89 1h1m6 0h1m34 0h1m6 0h1m19 0h1m-59 1h1m29 0h1m13 0h1m2 0h1m12 0h1m16 0h1m-93 1h1m4 0h1m42 0h1m33 0h1m-69 1h2m3 0h1m37 0h1m2 0h1m6 0h1m12 0h1m4 0h1m22 0h1m-94 1h1m33 0h1m29 0h1m9 0h1m22 0h1m-92 1h1m18 0h1m4 0h1m4 0h1m15 0h1m12 0h1m15 0h1m4 0h1m-93 1h3m7 0h1m4 0h1m5 0h1m9 0h1m24 0h1m27 0h1m6 0h1m5 0h1m4 0h1m-87 1h1m76 0h1m-87 1h1m63 0h1m16 0h1m4 0h1m-70 1h1m5 0h1m16 0h1m17 0h1m20 0h1m11 0h1m-92 1h1m1 0h1m13 0h1m19 0h1m-23 1h1m64 0h1m-79 1h1m2 0h1m26 0h2m10 0h1m25 0h1m-59 1h1m4 0h1m36 0h1m24 0h1m4 0h1m-59 1h1m21 0h1m47 0h1m-95 1h1m13 0h1m16 0h1m17 0h1" stroke="#2c2cbd" stroke-width="1" fill="none"/>
<path d="M0 0.5m261 469h1m71 1h1m-89 1h1m63 0h1m25 0h2m-47 1h1m1 0h1m16 0h1m4 0h1m8 0h1m13 0h1m-69 1h1m52 0h1m11 0h1m4 0h1m5 0h1m-73 1h1m11 0h1m11 0h1m5 0h1m13 0h1m7 0h1m12 0h1m-60 1h1m5 0h1m5 0h1m26 0h2m-70 1h1m5 0h1m5 0h1m9 0h1m7 0h2m10 0h1m7 0h1m-54 1h1m1 0h1m2 0h1m8 0h1m13 0h1m4 0h1m7 0h1m3 0h1m49 0h1m-95 1h1m1 0h1m3 0h1m12 0h1m3 0h1m2 0h1m5 0h1m-36 1h1m3 0h1m15 0h1m12 0h1m-36 1h3m8 0h1m-17 1h1m7 0h1m97 0h1m2 0h1m-2 1h1m-110 1h1m-2 1h1m4 0h1m104 2h1m-110 2h1m0 1h1m103 0h1m-107 1h3m1 1h1m104 0h1m-110 1h1m107 0h2m-108 1h1m98 0h1m5 0h1m-111 1h1m3 0h1m90 0h1m11 0h2m-104 1h2m94 0h2m3 0h1m-26 1h1m14 0h1m1 0h1m5 0h1m-33 1h1m23 0h3m7 0h1m-56 1h1m25 0h1m1 0h1m1 0h1m7 0h1m1 0h1m1 0h1m2 0h1m1 0h1m2 0h1m-41 1h1m7 0h1m4 0h1m13 0h2m1 0h1m-16 1h1m23 0h1m-95 1h1m47 0h1m17 0h1m5 0h1m40 0h1m-66 1h1m4 0h1m4 0h1m5 0h1m10 0h1m12 0h1m29 0h1m-74 1h1m7 0h1m6 0h1m2 0h1m5 0h1m1 0h1m27 0h1m9 0h1m-67 1h1m2 0h2m2 0h1m1 0h1m11 0h1m10 0h1m-78 1h1m34 0h2m16 0h1m23 0h2m13 0h1m16 0h1m-60 1h1m3 0h1m11 0h1m5 0h1m11 0h1m11 0h1m8 0h1m1 0h1m1 0h1m-111 1h3m29 0h1m11 0h1m11 0h1m6 0h1m6 0h1m20 0h2m14 0h2m-112 1h1m6 0h1m6 0h1m44 0h2m1 0h1m1 0h1m1 0h1m5 0h1m6 0h1m10 0h1m1 0h1m8 0h1m4 0h1m5 0h1m-104 1h1m2 0h1m19 0h1m5 0h1m4 0h1m2 0h1m6 0h1m6 0h1m3 0h1m1 0h1m11 0h1m6 0h1m1 0h1m9 0h1m9 0h1m2 0h1m6 0h1m-101 1h2m7 0h1m5 0h1m9 0h1m11 0h1m12 0h1m4 0h1m6 0h1m13 0h2m1 0h1m2 0h1m18 0h1m-110 1h1m41 0h1m1 0h1m8 0h1m8 0h1m1 0h1m8 0h1m11 0h1m1 0h1m3 0h1m5 0h1m1 0h1m5 0h1m-102 1h1m10 0h1m10 0h1m24 0h1m14 0h1m31 0h1m3 0h1m-102 1h1m1 0h2m5 0h2m33 0h1m13 0h1m4 0h1m1 0h1m5 0h1m8 0h1m26 0h1m-103 1h1m11 0h1m16 0h2m1 0h2m4 0h1m1 0h1m1 0h2m9 0h1m5 0h1m5 0h1m15 0h1m19 0h1m2 0h1m-105 1h1m1 0h1m30 0h1m1 0h1m9 0h1m20 0h1m3 0h1m1 0h1m5 0h1m12 0h1m-94 1h1m4 0h2m31 0h1m19 0h1m12 0h1m9 0h1m8 0h1m16 0h1m-105 1h1m30 0h2m18 0h1m11 0h1m24 0h1m-97 1h1m5 0h1m7 0h1m29 0h1m7 0h1m10 0h1m4 0h1m15 0h1m20 0h1m8 0h1m-105 1h1m1 0h1m43 0h1m7 0h1m5 0h1m1 0h1m1 0h1m8 0h1m1 0h1m7 0h1m4 0h1m2 0h1m2 0h1m-73 1h1m9 0h1m30 0h1m36 0h1m-83 1h2m50 0h1m8 0h1m4 0h1m3 0h1m-98 1h1m2 0h1m50 0h1m6 0h2m27 0h1m8 0h1m9 0h1m-106 1h3m1 0h1m23 0h1m1 0h1m1 0h1m4 0h1m9 0h1m10 0h1m-59 1h1m3 0h1m20 0h1m16 0h1m41 0h1m2 0h1m4 0h1m-96 1h1m5 0h1m27 0h1m3 0h2m9 0h1m3 0h1m34 0h1m11 0h1m-97 1h2m2 0h1m27 0h2m4 0h1m2 0h1m2 0h1m7 0h1m1 0h1m14 0h1m5 0h2m11 0h2m3 0h1m-97 1h1m2 0h1m22 0h1m5 0h1m16 0h1m3 0h2m2 0h1m18 0h1m1 0h1m2 0h2m5 0h1m2 0h1m1 0h1m3 0h1m-99 1h1m10 0h1m19 0h1m20 0h1m2 0h1m14 0h1m19 0h1m3 0h1m2 0h1m-49 1h1m23 0h1m1 0h1m8 0h1m5 0h1m2 0h1m1 0h2m-61 1h1m18 0h1m1 0h1m6 0h1m24 0h1m15 0h1m-108 1h1m8 0h1m26 0h1m9 0h1m7 0h1m24 0h1m3 0h1m1 0h1m1 0h1m1 0h2m5 0h1m4 0h1m1 0h1m-98 1h1m39 0h1m27 0h2m3 0h1m5 0h1m12 0h1m8 0h1m-76 1h1m3 0h1m18 0h1m37 0h2m6 0h1m-102 1h1m5 0h1m33 0h1m7 0h1m7 0h1m6 0h1m11 0h1m2 0h1m4 0h1m5 0h1m16 0h2m-97 1h1m11 0h1m9 0h1m11 0h1m2 0h1m10 0h1m2 0h1m6 0h1m9 0h1m5 0h1m2 0h1m1 0h1m4 0h1m11 0h1m1 0h1m-52 1h1m18 0h1m6 0h1m4 0h1m3 0h1m2 0h1m1 0h1m8 0h3m-100 1h1m15 0h2m3 0h1m1 0h1m4 0h1m1 0h1m3 0h1m2 0h1m1 0h1m5 0h1m12 0h1m19 0h1m2 0h1m8 0h1m10 0h1m-105 1h1m19 0h1m12 0h1m1 0h1m1 0h1m1 0h1m13 0h1m24 0h1m3 0h2m11 0h1m-99 1h1m2 0h1m7 0h1m1 0h1m15 0h1m9 0h2m25 0h1m1 0h2m7 0h1m6 0h1m13 0h1m-98 1h1m28 0h2m3 0h1m2 0h1m54 0h1m-95 1h1m39 0h1m3 0h1m8 0h1m7 0h1m4 0h1m2 0h1m16 0h1m3 0h1m5 0h3m-106 1h1m9 0h1m1 0h1m8 0h2m10 0h1m6 0h1m1 0h1m2 0h1m1 0h1m1 0h1m9 0h1m22 0h1m5 0h1m10 0h1m2 0h2m3 0h1m-94 1h1m8 0h1m18 0h1m3 0h1m4 0h1m3 0h1m3 0h2m3 0h1m11 0h1m2 0h1m6 0h1m2 0h1m5 0h1m4 0h1m6 0h1m5 0h1m-102 1h1m2 0h1m10 0h1m1 0h1m10 0h1m2 0h1m5 0h1m3 0h1m1 0h1m8 0h1m7 0h1m13 0h1m19 0h1m3 0h1m-100 1h1m5 0h1m2 0h1m28 0h1m25 0h1m4 0h1m8 0h1m1 0h2m2 0h1m6 0h1m4 0h1m6 0h1m-98 1h1m6 0h1m9 0h1m11 0h1m23 0h1m10 0h1m7 0h1m3 0h1m10 0h1m-92 1h1m3 0h2m1 0h1m9 0h1m2 0h1m6 0h1m1 0h1m4 0h1m14 0h1m24 0h1m2 0h1m1 0h1m5 0h1m6 0h1m4 0h1m-99 1h1m9 0h1m47 0h1m2 0h1m4 0h1m17 0h1m19 0h1m-107 1h1m22 0h1m5 0h2m3 0h1m3 0h1m5 0h1m1 0h1m33 0h2m13 0h1m-95 1h1m12 0h1m9 0h1m1 0h1m2 0h1m5 0h1m2 0h1m2 0h1m5 0h1m3 0h1m14 0h1m6 0h1m11 0h1m1 0h1m2 0h1m6 0h1m2 0h2m-103 1h1m2 0h1m6 0h1m7 0h1m1 0h1m7 0h1m27 0h1m11 0h1m1 0h1m2 0h1m8 0h1m10 0h1m2 0h2m5 0h1m1 0h1m-98 1h1m16 0h1m1 0h1m6 0h1m3 0h1m12 0h1m18 0h2m4 0h1m16 0h1m1 0h1m4 0h2m3 0h1m-98 1h2m27 0h1m26 0h1m20 0h1m1 0h1m2 0h1m10 0h1m1 0h1m-88 1h1m4 0h1m3 0h1m2 0h1m6 0h2m7 0h1m3 0h1m-60 1h1m22 0h1m9 0h1m10 0h1m11 0h1m27 0h1m5 0h1m16 0h1m-87 1h1m7 0h1m11 0h1m4 0h1m16 0h1m6 0h2m5 0h1m17 0h1m27 0h1m-104 1h1m8 0h1m1 0h1m26 0h1m14 0h1m4 0h1m20 0h1m-86 1h1m16 0h1m7 0h2m6 0h2m2 0h1m-26 1h1m4 0h1m7 0h1m4 0h1m2 0h1m17 0h1m-32 1h1m3 0h1m73 0h1m1 0h1m-95 1h1m3 0h1m7 0h1m21 0h1m1 0h1" stroke="#2525d8" stroke-width="1" fill="none"/>
<path d="M0 0.5m328 469h1m4 2h1m-17 1h2m5 0h1m-64 1h1m46 0h1m15 0h1m3 0h2m2 0h1m13 0h1m-42 1h1m4 0h2m2 0h1m7 0h1m1 0h1m1 0h1m2 0h2m11 0h1m-69 1h1m15 0h1m5 0h1m2 0h1m2 0h1m3 0h2m12 0h2m4 0h1m3 0h1m3 0h1m4 0h1m-70 1h1m2 0h1m3 0h1m9 0h1m1 0h1m1 0h1m3 0h2m8 0h1m1 0h1m2 0h1m3 0h2m1 0h1m8 0h1m-65 1h2m3 0h1m3 0h1m4 0h1m1 0h1m3 0h1m1 0h1m15 0h1m5 0h1m3 0h1m6 0h1m-61 1h1m5 0h1m4 0h1m6 0h3m12 0h1m3 0h1m1 0h1m4 0h1m2 0h1m-57 1h1m4 0h1m1 0h1m12 0h2m4 0h1m10 0h1m1 0h1m2 0h1m-55 1h2m10 0h1m8 0h1m6 0h1m1 0h1m8 0h1m1 0h2m4 0h1m-43 1h1m3 0h1m11 0h1m13 0h1m69 0h3m-102 1h1m4 0h1m-10 1h1m1 0h1m4 0h3m-6 1h1m100 0h1m-108 1h1m2 0h1m103 0h1m-105 1h1m102 0h1m-106 1h3m102 1h1m-102 1h2m100 0h1m-2 1h2m-106 1h2m1 1h1m100 0h1m-27 1h1m5 0h1m12 0h2m-99 1h1m72 0h1m9 0h1m1 0h1m8 0h1m5 0h1m-25 1h2m2 0h1m1 0h1m2 0h2m2 0h1m13 0h1m-32 1h1m5 0h2m9 0h2m3 0h1m-94 1h1m45 0h1m11 0h1m2 0h1m3 0h1m1 0h1m1 0h2m1 0h1m7 0h1m3 0h2m-86 1h1m52 0h1m1 0h1m1 0h1m3 0h1m6 0h1m32 0h1m-103 1h1m37 0h1m5 0h1m1 0h1m8 0h1m2 0h1m1 0h1m1 0h1m4 0h1m4 0h1m3 0h1m-37 1h1m7 0h1m3 0h1m2 0h1m6 0h2m4 0h1m11 0h1m-82 1h1m3 0h2m38 0h1m11 0h1m7 0h1m1 0h1m3 0h1m-37 1h1m6 0h2m10 0h1m18 0h1m-48 1h1m13 0h1m12 0h2m12 0h1m5 0h1m9 0h1m36 0h1m-121 1h1m2 0h1m13 0h1m23 0h1m9 0h1m23 0h1m4 0h1m34 0h1m-110 1h1m31 0h1m6 0h1m2 0h1m2 0h1m6 0h1m3 0h1m-66 1h1m3 0h1m1 0h2m7 0h1m17 0h1m6 0h1m1 0h1m1 0h2m1 0h1m5 0h1m8 0h2m1 0h1m16 0h1m1 0h1m-79 1h1m9 0h1m26 0h1m2 0h1m1 0h1m9 0h1m1 0h1m7 0h1m35 0h1m-90 1h1m4 0h1m1 0h1m3 0h1m18 0h1m6 0h1m12 0h1m30 0h1m20 0h1m-101 1h1m10 0h1m5 0h1m1 0h1m3 0h1m1 0h1m1 0h1m3 0h1m16 0h1m5 0h1m4 0h1m37 0h1m-99 1h1m2 0h1m3 0h2m6 0h1m5 0h1m8 0h1m1 0h2m71 0h1m-115 1h1m10 0h1m3 0h1m1 0h2m11 0h1m1 0h2m5 0h2m8 0h1m1 0h1m4 0h1m8 0h1m1 0h1m6 0h1m-62 1h1m2 0h1m3 0h1m4 0h1m3 0h2m4 0h1m10 0h1m11 0h1m2 0h1m8 0h1m10 0h1m21 0h1m6 0h1m-92 1h1m16 0h1m1 0h1m13 0h1m18 0h1m24 0h1m-93 1h1m2 0h1m5 0h1m1 0h1m13 0h1m3 0h1m1 0h1m3 0h1m17 0h1m4 0h1m28 0h1m-81 1h2m5 0h1m10 0h3m3 0h3m2 0h1m21 0h1m2 0h1m6 0h1m14 0h1m20 0h1m-94 1h1m5 0h1m2 0h1m3 0h3m5 0h1m3 0h1m1 0h1m40 0h1m14 0h1m-99 1h1m6 0h1m6 0h1m2 0h2m10 0h1m3 0h1m4 0h1m7 0h1m12 0h1m33 0h1m5 0h1m2 0h1m-95 1h1m5 0h1m6 0h1m5 0h1m69 0h2m12 0h1m-100 1h1m16 0h1m36 0h1m29 0h1m-90 1h1m19 0h2m12 0h2m67 0h1m-96 1h1m16 0h1m6 0h1m39 0h1m11 0h1m-89 1h1m2 0h1m4 0h1m4 0h2m7 0h1m10 0h1m41 0h1m-49 1h1m2 0h1m3 0h1m1 0h1m5 0h1m2 0h1m38 0h1m13 0h1m6 0h1m-104 1h1m1 0h1m6 0h1m10 0h1m1 0h1m14 0h1m7 0h1m12 0h1m9 0h1m13 0h1m-78 1h2m1 0h1m4 0h1m9 0h1m2 0h1m7 0h1m14 0h1m14 0h1m7 0h1m10 0h1m19 0h1m-96 1h1m1 0h1m14 0h1m1 0h1m2 0h1m2 0h1m4 0h1m10 0h1m2 0h1m12 0h1m28 0h1m1 0h1m-68 1h2m2 0h4m5 0h1m18 0h1m8 0h1m7 0h1m14 0h1m-92 1h1m2 0h1m2 0h1m2 0h1m1 0h1m7 0h1m5 0h1m5 0h1m4 0h1m5 0h1m1 0h1m1 0h1m14 0h1m-64 1h1m3 0h1m1 0h2m1 0h1m2 0h1m3 0h1m4 0h1m2 0h1m1 0h1m11 0h2m3 0h1m15 0h1m1 0h1m7 0h1m10 0h1m4 0h1m1 0h1m4 0h1m-90 1h1m23 0h1m7 0h1m44 0h1m-79 1h1m11 0h1m13 0h1m7 0h1m3 0h1m15 0h1m13 0h1m-68 1h1m2 0h2m7 0h1m11 0h1m4 0h1m8 0h1m1 0h1m2 0h1m26 0h1m12 0h1m3 0h1m1 0h1m-88 1h1m1 0h1m1 0h2m25 0h2m2 0h1m4 0h1m4 0h1m8 0h1m12 0h1m8 0h1m1 0h1m8 0h1m2 0h2m-80 1h1m9 0h1m9 0h2m2 0h1m4 0h1m30 0h1m11 0h1m-63 1h1m7 0h1m33 0h1m9 0h1m5 0h1m2 0h2m2 0h1m-88 1h1m4 0h1m5 0h2m8 0h3m2 0h1m1 0h1m4 0h2m25 0h2m16 0h1m11 0h2m5 0h1m-95 1h1m1 0h1m6 0h1m1 0h1m8 0h1m13 0h1m37 0h2m4 0h1m1 0h1m2 0h1m1 0h1m4 0h1m5 0h1m-99 1h1m2 0h1m2 0h1m12 0h1m11 0h1m6 0h1m17 0h1m27 0h1m-87 1h1m5 0h1m13 0h1m3 0h1m9 0h1m5 0h1m10 0h1m15 0h1m4 0h1m1 0h1m1 0h1m4 0h1m15 0h1m-89 1h1m1 0h1m5 0h2m2 0h1m2 0h1m5 0h1m14 0h1m32 0h1m2 0h1m6 0h1m2 0h1m1 0h1m-97 1h1m1 0h1m4 0h3m1 0h4m2 0h2m2 0h1m2 0h2m5 0h1m31 0h1m4 0h1m10 0h1m1 0h1m3 0h1m16 0h1m-98 1h1m4 0h1m3 0h1m38 0h1m41 0h2m-95 1h1m7 0h1m2 0h1m1 0h2m5 0h1m1 0h1m10 0h1m3 0h1m33 0h1m2 0h1m2 0h1m2 0h2m4 0h1m5 0h1m-90 1h1m1 0h2m2 0h1m3 0h2m3 0h3m6 0h1m7 0h1m8 0h1m30 0h1m3 0h1m4 0h1m6 0h1m-92 1h2m2 0h1m2 0h1m2 0h1m15 0h1m8 0h1m42 0h1m3 0h1m1 0h1m7 0h2m-91 1h1m2 0h2m6 0h1m3 0h1m2 0h1m3 0h2m4 0h1m1 0h1m4 0h1m1 0h2m44 0h1m4 0h1m-81 1h1m2 0h1m9 0h1m1 0h1m25 0h1m5 0h1m10 0h1m13 0h1m7 0h1m5 0h1m-100 1h1m4 0h1m3 0h1m4 0h1m2 0h1m2 0h1m3 0h1m1 0h2m2 0h1m2 0h1m19 0h1m5 0h1m32 0h2m7 0h1m-78 1h1m11 0h1m6 0h1m5 0h1m25 0h1m6 0h1m6 0h1m14 0h1m-101 1h1m4 0h1m1 0h1m4 0h1m5 0h1m14 0h1m1 0h1m24 0h1m16 0h1m-78 1h2m1 0h1m5 0h1m4 0h1m1 0h1m3 0h3m1 0h1m14 0h1m1 0h1m36 0h1m4 0h1m-78 1h1m1 0h1m4 0h3m1 0h1m5 0h1m18 0h1m32 0h1m6 0h1m6 0h1m-95 1h1m19 0h1m1 0h1m4 0h1m21 0h1m33 0h1m15 0h1m-98 1h1m15 0h1m8 0h1m3 0h1m11 0h1m5 0h1m26 0h1m1 0h1m-75 1h1m62 0h1m1 0h1m12 0h1m4 0h1m2 0h1m-88 1h1m18 0h1m5 0h1m17 0h1m-42 1h1m1 0h1m6 0h1m-9 1h1m3 0h1m4 0h1m2 0h1m25 0h1m-34 1h1m7 0h1m9 0h1m42 0h1m-58 1h1m22 0h1m39 0h1m-63 1h1m2 0h1" stroke="#181ef1" stroke-width="1" fill="none"/>
<path d="M0 0.5m305 473h1m19 0h1m-7 1h1m12 0h1m2 0h3m-40 1h1m4 0h1m9 0h1m1 0h1m6 0h4m1 0h1m-44 1h1m13 0h1m4 0h1m8 0h2m5 0h1m1 0h4m5 0h1m3 0h1m-58 1h1m8 0h1m7 0h2m8 0h1m4 0h1m5 0h1m2 0h1m1 0h1m1 0h1m15 0h1m-81 1h1m23 0h3m2 0h1m1 0h1m1 0h1m1 0h1m5 0h1m5 0h1m5 0h1m1 0h1m2 0h1m1 0h2m1 0h1m3 0h1m13 0h1m-83 1h1m2 0h1m2 0h1m6 0h1m4 0h1m3 0h1m1 0h2m5 0h1m8 0h3m14 0h1m-75 1h2m4 0h1m4 0h3m5 0h1m2 0h1m6 0h1m2 0h1m6 0h3m5 0h2m8 0h1m42 0h1m-94 1h1m1 0h1m1 0h2m13 0h1m11 0h1m1 0h1m7 0h1m3 0h1m-52 1h1m2 0h1m3 0h2m2 0h3m1 0h1m22 0h1m-38 1h2m6 0h1m4 0h1m2 0h1m1 0h1m-23 1h1m102 0h1m-101 1h1m2 0h2m94 0h1m-99 1h1m97 0h1m1 1h1m-105 1h2m-1 1h1m0 1h1m96 0h1m-97 1h1m99 0h2m-105 1h1m73 0h1m10 0h1m2 0h1m10 0h1m-35 1h1m9 0h1m13 0h1m1 0h1m8 0h1m1 0h1m-47 1h1m11 0h3m1 0h1m3 0h2m2 0h1m3 0h1m4 0h1m3 0h1m-44 1h1m6 0h1m6 0h1m1 0h2m2 0h1m12 0h1m3 0h2m3 0h1m5 0h1m-99 1h1m2 0h1m45 0h1m6 0h1m1 0h1m1 0h1m2 0h3m5 0h1m1 0h1m1 0h1m1 0h1m2 0h2m1 0h1m8 0h1m-93 1h1m44 0h1m7 0h1m1 0h1m5 0h1m10 0h1m4 0h1m4 0h1m-38 1h1m1 0h2m6 0h1m3 0h2m6 0h1m3 0h1m1 0h1m3 0h3m1 0h1m3 0h1m-84 1h1m2 0h2m1 0h1m26 0h1m3 0h1m7 0h1m2 0h1m10 0h1m1 0h1m1 0h2m1 0h1m-68 1h5m36 0h1m3 0h1m4 0h1m4 0h2m7 0h1m-64 1h1m2 0h2m32 0h1m1 0h2m1 0h2m1 0h1m3 0h1m2 0h1m1 0h1m4 0h1m-60 1h2m3 0h1m2 0h1m1 0h1m12 0h1m9 0h1m7 0h3m1 0h1m10 0h1m-53 1h1m4 0h1m5 0h1m3 0h1m7 0h1m10 0h1m6 0h2m-47 1h1m5 0h1m1 0h1m1 0h1m3 0h1m5 0h1m3 0h1m9 0h2m2 0h1m5 0h1m-47 1h1m2 0h1m9 0h2m4 0h1m1 0h1m1 0h2m1 0h1m1 0h1m1 0h1m2 0h1m6 0h1m3 0h1m-42 1h4m1 0h2m2 0h1m8 0h2m2 0h1m1 0h1m6 0h1m1 0h1m1 0h1m16 0h1m-51 1h1m1 0h1m2 0h1m2 0h1m1 0h1m1 0h1m7 0h1m7 0h1m1 0h2m2 0h2m16 0h1m-45 1h2m1 0h1m3 0h1m1 0h1m2 0h1m4 0h1m-21 1h1m4 0h1m1 0h4m4 0h2m-5 1h1m1 0h1m8 0h1m1 0h1m6 0h1m9 0h1m2 0h1m43 0h1m-82 1h1m3 0h1m4 0h1m3 0h1m8 0h1m-30 1h1m4 0h2m3 0h1m1 0h1m10 0h1m1 0h1m1 0h1m2 0h1m-23 1h2m1 0h1m3 0h4m3 0h1m5 0h1m3 0h1m59 0h1m-88 1h1m1 0h3m3 0h1m5 0h1m1 0h2m2 0h1m-22 1h2m7 0h3m2 0h2m10 0h1m4 0h1m60 0h1m-93 1h1m5 0h1m2 0h1m8 0h1m2 0h2m-25 1h1m4 0h1m4 0h1m1 0h3m4 0h1m1 0h1m14 0h1m-36 1h2m6 0h1m2 0h2m1 0h1m1 0h1m1 0h4m1 0h1m4 0h1m1 0h1m1 0h1m26 0h2m-59 1h1m2 0h1m2 0h1m4 0h1m5 0h2m2 0h1m1 0h1m3 0h1m5 0h1m39 0h2m4 0h1m-89 1h1m8 0h1m6 0h1m4 0h1m2 0h2m3 0h1m2 0h1m2 0h1m34 0h1m-64 1h2m2 0h3m4 0h1m1 0h1m1 0h1m9 0h1m-24 1h1m5 0h2m8 0h1m1 0h1m81 0h1m-102 1h1m2 0h7m21 0h1m62 0h1m-99 1h1m8 0h1m3 0h1m5 0h2m2 0h2m4 0h1m5 0h1m34 0h1m-66 1h1m14 0h2m3 0h1m-18 1h1m3 0h1m3 0h3m1 0h1m3 0h1m53 0h1m-74 1h1m1 0h1m9 0h2m3 0h1m12 0h1m-34 1h1m3 0h1m3 0h2m3 0h2m5 0h1m4 0h1m30 0h1m16 0h1m16 0h1m-89 1h1m2 0h1m8 0h1m4 0h1m2 0h1m1 0h1m1 0h1m21 0h1m11 0h1m11 0h2m-73 1h1m1 0h2m3 0h3m5 0h1m1 0h1m1 0h1m1 0h1m1 0h1m1 0h1m24 0h1m36 0h1m-86 1h1m1 0h1m1 0h1m3 0h1m6 0h1m1 0h1m4 0h1m57 0h1m-79 1h1m2 0h1m2 0h1m2 0h1m1 0h1m1 0h1m1 0h1m6 0h1m-21 1h1m1 0h1m5 0h1m4 0h1m4 0h1m2 0h1m38 0h1m-73 1h1m1 0h1m4 0h1m2 0h2m6 0h1m1 0h1m2 0h3m2 0h2m26 0h1m47 0h1m-102 1h1m1 0h1m2 0h1m2 0h2m4 0h1m5 0h1m77 0h1m-96 1h2m4 0h2m4 0h2m1 0h1m2 0h1m52 0h1m-68 1h1m19 0h1m50 0h1m6 0h1m-83 1h2m6 0h1m3 0h1m1 0h2m4 0h2m58 0h1m1 0h1m-84 1h2m8 0h2m1 0h1m1 0h1m4 0h1m4 0h1m4 0h1m53 0h1m-88 1h1m4 0h1m3 0h1m3 0h2m2 0h1m2 0h1m8 0h1m22 0h1m7 0h1m23 0h1m-68 1h2m1 0h2m3 0h2m11 0h1m13 0h1m-49 1h1m1 0h1m6 0h1m1 0h1m2 0h1m5 0h1m2 0h1m-13 1h2m1 0h1m40 0h1m19 0h1m8 0h1m-81 1h1m2 0h1m12 0h1m53 0h1m-68 1h2m1 0h2m1 0h3m3 0h2m2 0h1m2 0h2m56 0h1m-73 1h1m12 0h1m7 0h1m21 0h1m29 0h1m5 0h1m-84 1h2m1 0h1m3 0h1m11 0h1m15 0h1m44 0h1m-84 1h1m1 0h1m11 0h1m32 0h1m-46 1h4m23 0h1m47 0h1m-72 1h4m12 0h1m-18 1h1m8 2h1m9 0h1m43 0h1m-66 1h1m7 0h1m18 1h1m-32 1h1m7 0h1m9 0h1m-14 1h1m-3 1h1m9 1h1" stroke="#133ef4" stroke-width="1" fill="none"/>
<path d="M0 0.5m316 475h1m14 0h1m1 0h1m1 0h1m2 0h1m-28 1h1m13 0h1m1 0h2m3 0h1m-46 1h1m1 0h1m3 0h1m2 0h2m3 0h1m1 0h1m4 0h1m2 0h3m5 0h1m1 0h1m1 0h3m5 0h1m-40 1h1m5 0h1m1 0h1m5 0h2m6 0h1m-57 1h1m7 0h1m19 0h1m4 0h2m3 0h1m5 0h1m1 0h1m2 0h2m3 0h2m3 0h1m2 0h1m-66 1h2m4 0h1m1 0h1m1 0h1m2 0h1m1 0h1m2 0h1m2 0h1m5 0h1m6 0h1m-48 1h1m12 0h1m2 0h3m1 0h1m1 0h1m2 0h1m2 0h1m2 0h1m1 0h1m7 0h1m7 0h1m-47 1h2m4 0h1m10 0h1m15 0h1m6 0h2m54 0h2m-87 1h1m4 0h1m7 0h1m71 0h1m-102 1h1m5 0h2m-8 1h1m2 0h1m-1 1h1m-1 1h1m97 0h1m-101 1h1m98 0h1m-19 1h1m16 0h1m1 0h1m-101 1h2m97 0h2m-100 1h2m80 0h1m2 0h1m2 0h1m6 0h1m-96 1h1m75 0h2m2 0h1m2 0h1m3 0h1m1 0h1m3 0h2m-98 1h1m61 0h1m7 0h1m2 0h1m4 0h1m5 0h1m1 0h2m3 0h1m1 0h2m-94 1h1m1 0h1m50 0h1m1 0h1m8 0h2m6 0h1m4 0h1m2 0h1m4 0h2m2 0h1m3 0h1m-94 1h3m40 0h1m6 0h3m3 0h3m1 0h2m5 0h1m11 0h1m-80 1h1m2 0h1m35 0h1m3 0h1m4 0h2m7 0h1m6 0h1m-65 1h1m2 0h1m36 0h1m3 0h1m3 0h1m3 0h1m2 0h1m6 0h2m8 0h1m-73 1h6m1 0h1m26 0h1m1 0h1m4 0h1m6 0h1m6 0h1m-54 1h1m31 0h1m4 0h1m10 0h2m5 0h1m-53 1h2m6 0h1m1 0h2m5 0h1m6 0h2m2 0h1m2 0h2m1 0h1m1 0h2m2 0h1m1 0h1m-43 1h1m5 0h1m4 0h2m5 0h1m6 0h1m3 0h1m1 0h1m7 0h1m-46 1h1m2 0h1m8 0h1m1 0h2m3 0h3m3 0h1m5 0h1m3 0h1m2 0h1m13 0h1m-52 1h3m2 0h3m3 0h2m1 0h1m8 0h2m3 0h1m6 0h1m1 0h1m1 0h1m8 0h1m-47 1h1m1 0h2m1 0h1m11 0h1m1 0h1m3 0h2m2 0h1m3 0h1m2 0h1m2 0h1m8 0h1m-45 1h1m1 0h1m2 0h2m2 0h2m3 0h1m4 0h1m1 0h1m1 0h1m1 0h2m4 0h2m-28 1h1m2 0h2m1 0h1m8 0h1m2 0h5m-20 1h1m4 0h1m1 0h2m11 0h1m-30 1h1m12 0h2m3 0h2m1 0h1m4 0h1m1 0h1m-12 1h1m9 0h1m3 0h1m-8 1h2m3 0h1m4 0h1m-24 1h1m7 0h1m1 0h1m-1 1h1m1 0h2m-13 1h1m5 0h2m6 0h2m1 0h1m-7 1h2m-8 1h1m5 0h1m-11 1h1m1 0h1m1 0h1m6 0h1m-8 1h1m1 0h1m4 0h2m-13 1h1m8 0h1m8 0h1m-16 1h1m4 0h1m1 0h1m1 0h1m-19 1h1m1 0h1m2 0h1m2 0h1m1 0h1m4 0h1m5 0h1m59 0h1m-78 1h1m4 0h3m11 0h1m-12 1h1m1 0h1m4 0h1m1 0h1m5 0h1m-26 1h1m11 0h4m1 0h1m-15 1h2m3 0h1m2 0h2m15 0h1m-24 1h1m1 0h1m1 0h2m1 0h1m2 0h1m4 0h1m2 0h1m-18 1h1m1 0h1m10 0h1m-20 1h1m2 0h1m3 0h1m1 0h1m10 0h1m-12 1h1m1 0h1m9 0h1m1 0h1m51 0h1m-73 1h1m2 0h3m1 0h2m4 0h1m3 0h1m3 0h1m-24 1h1m8 0h1m3 0h1m1 0h1m13 0h1m-28 1h1m1 0h1m3 0h1m3 0h1m-5 1h1m1 0h1m9 0h1m-17 1h1m6 0h2m3 0h1m2 0h1m1 0h1m-20 1h1m2 0h1m1 0h2m3 0h1m2 0h1m4 0h1m-21 1h1m2 0h1m3 0h1m6 0h1m11 0h1m41 0h1m-68 1h1m11 0h1m1 0h1m5 0h2m-19 1h1m3 0h1m1 0h1m-9 1h2m2 0h1m2 0h2m11 0h1m-17 1h2m7 0h1m3 0h1m66 0h1m-84 1h1m2 0h1m2 2h1m2 0h1m42 0h1m23 0h1m-76 1h1m7 0h1m65 0h1m-68 1h1m4 0h1m-3 2h1m-3 1h1m-10 1h1m5 0h1m4 0h1m-4 1h1m68 0h1m-75 1h1m7 1h1m-19 1h1m24 0h1m5 0h1m-16 2h1m-2 6h1" stroke="#0d5ef8" stroke-width="1" fill="none"/>
<path d="M0 0.5m329 475h1m6 0h1m-8 1h1m1 0h1m4 0h1m-38 1h1m14 0h1m12 0h1m2 0h1m-43 1h1m13 0h2m4 0h1m6 0h1m1 0h1m5 0h2m1 0h2m12 0h1m-80 1h1m15 0h1m16 0h1m5 0h1m8 0h1m5 0h1m3 0h1m1 0h1m18 0h1m-83 1h1m26 0h2m3 0h4m1 0h1m3 0h2m6 0h3m8 0h1m5 0h1m-64 1h1m14 0h1m2 0h1m14 0h1m45 0h1m-86 1h1m2 0h1m1 0h2m1 0h1m6 0h4m1 0h3m2 0h1m2 0h1m-36 1h1m2 0h1m2 0h1m12 0h1m-23 1h1m2 0h1m1 0h1m18 0h1m70 0h1m-99 1h1m1 1h1m95 1h1m-99 1h1m2 0h1m-1 1h1m92 0h1m1 0h1m-14 1h1m2 0h1m8 0h1m-96 1h1m75 0h2m1 0h1m7 0h1m2 0h1m5 0h1m-31 1h2m1 0h1m1 0h1m12 0h1m9 0h1m-95 1h1m59 0h2m2 0h1m1 0h1m9 0h2m6 0h1m-88 1h1m44 0h1m1 0h1m9 0h2m1 0h1m1 0h1m32 0h1m-94 1h2m37 0h1m3 0h1m7 0h1m4 0h1m9 0h1m12 0h1m-81 1h1m37 0h2m8 0h3m7 0h1m25 0h1m-83 1h2m27 0h1m3 0h3m1 0h2m3 0h1m9 0h1m-51 1h1m25 0h2m1 0h1m1 0h2m1 0h1m8 0h2m-46 1h1m2 0h2m13 0h1m1 0h1m1 0h1m2 0h1m1 0h1m5 0h1m-35 1h1m5 0h1m7 0h2m1 0h1m2 0h2m6 0h1m2 0h1m-27 1h1m2 0h1m8 0h2m1 0h1m1 0h4m1 0h3m-30 1h1m4 0h1m2 0h1m2 0h2m5 0h1m2 0h2m1 0h2m5 0h1m-28 1h1m1 0h1m2 0h1m3 0h2m1 0h1m4 0h2m2 0h3m2 0h1m-34 1h1m10 0h1m4 0h2m3 0h2m4 0h1m1 0h1m-28 1h1m3 0h1m7 0h2m-6 1h1m6 0h1m-3 1h1m1 0h1m5 0h1m2 0h1m4 1h1m-11 1h1m-2 1h1m4 0h1m1 1h1m-7 1h1m2 2h1m-1 1h1m0 1h1m-8 1h1m-2 2h1m-2 1h1m6 0h1m-3 1h1m-5 1h2m3 0h1m10 0h1m-4 1h1m-15 1h1m7 1h1m-3 1h2m3 0h1m-7 2h1m6 0h1m-4 4h1m-6 1h1m8 0h1m-8 1h1m1 1h1m9 0h1m-7 1h1m-4 1h1m2 0h1m1 0h1m-7 1h1m-1 1h1m-5 2h1m6 1h1m2 1h1m-7 3h1" stroke="#0885fb" stroke-width="1" fill="none"/>
<path d="M0 0.5m290 477h1m37 0h2m2 0h1m2 0h2m-25 1h1m7 0h1m7 0h1m8 0h1m-33 1h1m10 0h1m1 0h1m3 0h3m-41 1h1m9 0h1m1 0h1m1 0h1m2 0h1m1 0h1m2 0h1m4 0h3m1 0h1m1 0h1m2 0h1m1 0h2m15 0h1m-66 1h1m6 0h1m2 0h1m2 0h1m1 0h1m5 0h3m3 0h6m5 0h1m-56 1h1m7 0h3m13 0h2m4 0h3m4 0h1m-46 1h1m2 0h1m4 0h1m5 0h1m1 0h2m1 0h1m2 0h4m5 0h1m1 0h2m-33 1h2m3 0h1m4 0h1m1 0h2m21 0h1m-41 1h2m13 0h1m51 0h1m-2 1h1m26 0h1m-97 2h1m95 0h1m-22 1h1m-75 1h1m66 0h1m1 0h1m7 0h2m1 0h1m8 0h1m-89 1h1m65 0h2m3 0h2m4 0h1m3 0h1m1 0h1m3 0h2m2 0h1m-32 1h2m2 0h1m4 0h1m2 0h1m15 0h1m-92 1h2m47 0h1m1 0h1m5 0h2m1 0h1m4 0h1m7 0h1m3 0h1m4 0h1m-82 1h2m32 0h1m2 0h3m2 0h1m3 0h1m2 0h1m7 0h1m1 0h1m6 0h1m14 0h1m-80 1h1m33 0h2m3 0h2m1 0h1m1 0h1m22 0h1m-68 1h1m31 0h2m3 0h1m2 0h2m6 0h1m-20 1h1m1 0h1m12 0h1m-23 1h2m22 0h1m-42 1h2m2 0h1m1 0h1m1 0h1m2 0h2m1 0h1m1 0h1m2 0h1m1 0h1m-25 1h1m3 0h2m1 0h1m8 0h1m2 0h1m1 0h1m2 0h1m-25 1h2m4 0h3m1 1h1m14 0h1m-18 2h1m11 0h1m3 0h1m-27 1h1m17 6h1m0 3h1m-2 5h1m-7 11h1m6 1h1m2 3h1" stroke="#04b3fd" stroke-width="1" fill="none"/>
<path d="M0 0.5m333 477h2m2 0h1m-9 1h2m7 0h1m-38 1h1m23 0h2m11 0h2m-38 1h1m1 0h1m5 0h1m3 0h1m1 0h1m2 0h1m1 0h1m3 0h1m-33 1h1m4 0h2m7 0h2m1 0h2m2 0h3m2 0h1m-52 1h1m15 0h1m8 0h1m1 0h1m7 0h1m1 0h1m9 0h2m4 0h2m-64 1h1m2 0h1m1 0h1m5 0h1m7 0h1m2 0h1m2 0h3m1 0h1m3 0h2m1 0h2m10 0h1m15 0h1m16 0h1m-92 1h1m4 0h1m2 0h3m13 0h1m2 0h1m3 0h1m1 0h1m11 0h1m12 0h2m9 0h1m3 0h1m-75 1h1m1 0h1m2 0h1m29 0h1m1 0h1m29 0h1m-70 1h2m20 0h1m14 0h1m-39 1h2m29 0h1m1 0h1m60 0h1m-93 1h1m45 0h1m22 0h1m3 0h1m1 0h1m3 0h2m-82 1h1m46 0h1m20 0h1m4 0h2m3 0h1m4 0h1m7 0h1m-93 1h2m52 0h1m2 0h1m6 0h1m4 0h1m5 0h1m2 0h1m1 0h2m1 0h2m2 0h1m1 0h3m-48 1h1m4 0h1m3 0h4m3 0h1m3 0h1m4 0h1m3 0h2m-76 1h2m43 0h1m5 0h1m1 0h2m2 0h1m1 0h2m2 0h2m7 0h1m-72 1h1m41 0h3m4 0h4m16 0h1m-70 1h1m37 0h2m6 0h1m4 0h2m-20 1h1m2 0h1m-6 1h1m-31 1h2m1 0h1m19 0h1m1 0h1m3 0h1m-27 1h1m1 0h2m10 0h1m5 0h2m-19 1h2m1 0h1m4 0h1m7 0h1m-9 1h1m6 0h1m-10 1h1m1 0h1m0 1h1m5 0h1m-12 1h1m4 0h1m-6 1h1" stroke="#00ddf9" stroke-width="1" fill="none"/>
<path d="M0 0.5m331 478h1m1 0h1m1 0h2m-11 2h1m-27 1h1m8 0h1m3 0h1m6 0h2m1 0h2m1 0h1m-37 1h3m3 0h1m1 0h4m2 0h1m1 0h1m1 0h4m1 0h1m4 0h1m20 0h1m-64 1h2m12 0h2m2 0h1m2 0h1m1 0h4m1 0h1m1 0h1m2 0h1m3 0h1m2 0h2m3 0h1m-69 1h1m1 0h1m4 0h1m6 0h2m1 0h3m1 0h1m4 0h1m1 0h1m1 0h1m3 0h4m1 0h2m1 0h1m1 0h1m4 0h1m6 0h1m2 0h1m1 0h1m4 0h2m-72 1h1m1 0h2m2 0h2m1 0h1m7 0h1m1 0h3m2 0h1m5 0h1m7 0h1m16 0h1m6 0h1m6 0h1m3 0h1m-74 1h2m26 0h1m3 0h1m2 0h1m8 0h1m4 0h1m2 0h1m5 0h1m3 0h1m7 0h1m1 0h1m1 0h3m-46 1h1m1 0h1m1 0h1m5 0h1m1 0h1m2 0h1m1 0h1m10 0h1m7 0h1m3 0h1m2 0h1m2 0h2m10 0h1m-93 1h1m31 0h1m6 0h2m3 0h1m21 0h1m5 0h2m5 0h1m12 0h1m-66 1h1m8 0h1m1 0h1m2 0h1m4 0h1m4 0h3m1 0h2m5 0h3m4 0h1m5 0h1m1 0h1m2 0h1m1 0h1m1 0h1m1 0h1m3 0h1m-54 1h1m9 0h1m2 0h2m5 0h2m1 0h2m4 0h1m2 0h2m1 0h2m-74 1h1m33 0h1m3 0h2m1 0h1m3 0h1m1 0h1m3 0h1m6 0h1m2 0h1m2 0h1m2 0h1m11 0h1m3 0h1m-47 1h1m3 0h1m2 0h1m1 0h1m1 0h1m-49 1h1m31 0h1m3 0h2m2 0h1m3 0h1m7 0h1m-21 1h2m7 0h1m-42 1h1m26 0h1m1 0h2m-30 1h2m23 0h1m1 0h1m-27 1h1m21 0h1m1 0h1m-19 1h1m1 0h1m7 0h3m-10 1h1m-1 1h1" stroke="#00e5c1" stroke-width="1" fill="none"/>
<path d="M0 0.5m334 478h1m-8 2h2m-11 1h1m3 0h1m2 0h1m3 0h1m9 0h1m-38 1h1m4 0h1m4 0h1m1 0h1m2 0h1m2 0h1m2 0h1m3 0h2m-42 1h1m10 0h1m4 0h1m4 0h1m1 0h1m1 0h1m1 0h2m2 0h3m1 0h1m1 0h1m14 0h1m-75 1h2m8 0h1m1 0h1m6 0h2m5 0h1m7 0h2m5 0h1m10 0h1m3 0h1m1 0h2m14 0h1m-86 1h1m2 0h1m1 0h1m5 0h1m5 0h2m3 0h2m2 0h1m1 0h1m1 0h1m4 0h1m1 0h3m1 0h1m2 0h3m1 0h1m3 0h1m1 0h3m6 0h1m5 0h1m1 0h1m1 0h1m-80 1h1m3 0h2m1 0h2m12 0h3m2 0h1m3 0h1m3 0h1m3 0h5m4 0h2m2 0h1m4 0h2m7 0h2m1 0h1m1 0h1m1 0h1m1 0h1m14 0h1m-91 1h2m8 0h1m5 0h1m4 0h1m6 0h1m1 0h1m3 0h1m1 0h1m1 0h1m1 0h1m3 0h1m1 0h2m3 0h1m1 0h1m1 0h2m1 0h1m1 0h1m1 0h4m1 0h2m3 0h1m-44 1h1m5 0h2m3 0h3m2 0h1m1 0h1m3 0h1m1 0h1m1 0h1m1 0h1m3 0h4m1 0h3m5 0h1m2 0h1m6 0h1m5 0h1m-68 1h1m1 0h1m1 0h2m1 0h1m5 0h1m2 0h1m3 0h1m4 0h2m6 0h2m1 0h2m3 0h1m5 0h1m7 0h1m1 0h1m3 0h1m3 0h1m-88 1h1m30 0h1m1 0h2m2 0h3m1 0h1m1 0h2m1 0h2m2 0h1m1 0h1m7 0h1m1 0h1m6 0h1m-69 1h1m32 0h2m4 0h1m1 0h1m1 0h1m2 0h1m6 0h2m-58 1h1m22 0h1m7 0h1m2 0h3m1 0h3m1 0h1m2 0h1m1 0h1m8 0h1m-55 1h1m28 0h1m1 0h3m3 0h1m6 0h1m-47 1h1m28 0h2m-28 1h1m27 0h1m-7 1h1m1 0h1m1 0h1m-26 1h1m8 0h1m7 0h1m-15 1h1m4 0h5" stroke="#00ee89" stroke-width="1" fill="none"/>
<path d="M0 0.5m332 478h1m-4 1h4m1 0h1m1 0h1m1 1h1m-20 2h1m4 0h1m-36 1h1m15 0h1m5 0h1m-50 1h1m15 0h1m17 0h1m1 0h1m2 0h1m2 0h1m5 0h2m1 0h1m1 0h2m8 0h2m11 0h1m-79 1h1m1 0h3m2 0h1m6 0h1m3 0h1m2 0h1m4 0h1m1 0h1m1 0h1m3 0h1m1 0h2m5 0h1m1 0h1m1 0h1m4 0h1m1 0h1m6 0h1m2 0h1m1 0h1m10 0h3m-89 1h1m2 0h1m3 0h3m1 0h1m2 0h2m6 0h1m2 0h1m2 0h2m10 0h1m2 0h1m2 0h1m4 0h2m2 0h1m1 0h3m4 0h1m1 0h1m8 0h3m9 0h1m-90 1h1m1 0h3m1 0h2m2 0h1m1 0h2m1 0h1m6 0h1m7 0h1m6 0h1m1 0h2m6 0h1m4 0h1m2 0h1m1 0h1m6 0h1m3 0h2m2 0h2m2 0h1m2 0h2m-76 1h1m9 0h1m2 0h1m1 0h1m2 0h2m5 0h3m9 0h1m4 0h2m1 0h1m1 0h1m1 0h1m1 0h3m9 0h1m5 0h1m4 0h1m-81 1h1m1 0h2m5 0h1m9 0h1m1 0h1m1 0h1m6 0h4m3 0h1m2 0h2m1 0h1m2 0h1m5 0h1m4 0h1m6 0h2m2 0h1m16 0h2m-65 1h3m3 0h1m1 0h1m1 0h1m3 0h1m3 0h1m1 0h1m-44 1h1m2 0h1m20 0h2m5 0h1m17 0h1m11 0h1m-62 1h1m23 0h1m2 0h3m1 0h2m-33 1h1m1 0h1m22 0h5m-29 1h1m25 0h1m-28 1h2m1 0h1m14 0h3m3 0h2m1 0h1m-25 1h1m3 0h2m11 0h1m2 0h1m-20 1h1m2 0h1m5 0h1m1 0h2m4 0h1m-12 1h1" stroke="#11ee57" stroke-width="1" fill="none"/>
<path d="M0 0.5m328 479h1m6 0h1m1 0h1m-1 1h1m-11 1h2m7 0h1m1 0h1m-14 1h2m2 0h1m-2 1h1m8 0h2m-36 1h1m1 0h1m21 0h1m-27 1h1m17 0h2m-60 1h1m1 0h1m3 0h1m17 0h1m6 0h1m37 0h1m-81 1h1m3 0h1m3 0h1m6 0h3m4 0h3m24 0h1m24 0h1m5 0h3m2 0h1m1 0h1m-90 1h4m1 0h1m1 0h1m1 0h1m1 0h1m2 0h1m2 0h2m1 0h1m2 0h1m2 0h2m1 0h1m17 0h1m33 0h1m3 0h4m-90 1h1m1 0h1m2 0h2m1 0h1m5 0h1m14 0h1m-30 1h1m1 0h3m3 0h1m12 0h1m4 0h2m2 0h1m-30 1h1m2 0h1m22 0h2m3 0h1m1 0h1m4 0h1m-38 1h1m18 0h1m3 0h1m-3 1h2m-23 1h2m20 0h1m1 0h1m-22 1h1m3 0h1m3 0h1m7 0h1m1 0h1m-22 1h1m2 0h1m3 0h1m5 0h3m3 0h2m-18 1h1m3 0h3m5 0h3m-17 1h1m4 0h1" stroke="#29eb28" stroke-width="1" fill="none"/>
<path d="M0 0.5m333 479h1m-5 1h4m3 0h1m-7 1h1m6 0h1m-2 1h2m-13 1h3m0 1h1m-54 1h1m52 0h1m-72 1h1m17 0h1m53 0h1m-70 1h1m8 0h1m63 0h2m1 0h1m-85 1h1m3 0h1m1 0h1m2 0h1m8 0h1m59 0h1m1 0h1m-79 1h1m1 0h1m3 0h1m3 0h3m1 0h1m-17 1h3m12 0h1m7 0h1m-10 1h1m3 0h1m2 0h1m2 0h2m-11 1h1m2 0h1m2 0h1m-24 1h1m17 0h2m-18 1h1m16 0h2m1 0h1m-22 1h1m1 0h1m10 0h1m4 0h1m-19 1h1m1 0h1m3 0h1m1 0h3m3 0h2m-12 1h1m5 0h1" stroke="#6ced17" stroke-width="1" fill="none"/>
<path d="M0 0.5m333 480h3m-6 2h1m7 0h1m-10 1h1m6 0h1m0 1h1m-9 1h2m5 0h1m-73 1h1m66 0h1m4 0h1m-77 2h1m2 0h1m-6 1h2m2 0h2m-8 1h2m5 0h2m1 0h1m0 1h3m-22 1h1m1 0h1m15 0h1m-16 1h3m11 0h1m1 0h1m-21 1h1m3 0h1m15 0h2m-11 1h2m1 0h1m1 0h1m-6 1h1" stroke="#afef06" stroke-width="1" fill="none"/>
<path d="M0 0.5m334 481h1m-6 3h2m1 2h4m-78 4h1m1 0h1m1 0h1m2 0h1m3 0h1m-18 1h4m4 0h1m1 0h1m2 0h1m-15 1h4m1 0h1m7 0h1m-11 1h1m11 0h1m-14 1h2m2 0h1m4 0h1m2 0h2m-12 1h1m1 0h1m4 0h1" stroke="#dae300" stroke-width="1" fill="none"/>
<path d="M0 0.5m331 481h2m2 0h1m-6 2h1m4 0h1m-1 1h2m-6 1h1m1 0h1m1 0h1m-75 5h1m-5 1h1m3 0h1m1 0h1m-9 1h1m3 0h1m2 0h1m2 0h1m-11 1h2m7 0h1m-10 1h2m1 0h1m1 0h1m2 0h2m-11 1h1" stroke="#f6ce00" stroke-width="1" fill="none"/>
<path d="M0 0.5m335 482h1m-5 1h1m2 0h1m-3 1h1m1 0h1m-1 1h1m-76 5h1m-4 1h1m1 0h1m-2 1h1m2 0h2m1 0h1m-6 1h3m2 0h1m-3 1h1" stroke="#ffa700" stroke-width="1" fill="none"/>
<path d="M0 0.5m331 482h3m-3 2h1m0 1h1m-74 6h1m4 0h1m-7 1h1m-2 1h1m3 0h2m-4 1h1" stroke="#ff7800" stroke-width="1" fill="none"/>
<path d="M0 0.5m333 481h1m0 1h1m-3 1h2" stroke="#ff4e00" stroke-width="1" fill="none"/>
<path d="M0 0.5m333 484h1" stroke="#ff2400" stroke-width="1" fill="none"/>
</g>
<g filter="url(#bl3)">
<path d="M151.5 384.7 150.5 385.0 149.5 385.2 148.5 385.3 147.5 385.4 146.5 385.4 145.5 385.4 144.5 385.4 143.5 385.3 142.5 385.2 141.5 385.1 140.5 384.9 139.5 384.8 138.5 384.6 137.9 384.5 137.5 384.4 136.5 384.3 135.5 384.2 134.5 384.2 133.5 384.2 132.5 384.2 131.5 384.3 130.5 384.4 129.5 384.4 128.5 384.4 127.5 384.3 126.5 384.2 125.5 383.9 124.5 383.6 124.3 383.5 123.5 383.3 122.5 383.0 121.5 382.8 120.5 382.7 119.5 382.6 118.5 382.7 117.5 382.8 116.5 383.0 115.5 383.2 114.5 383.4 114.2 383.5 113.5 383.7 112.5 383.9 111.5 384.0 110.5 384.1 109.5 384.1 108.5 384.0 107.5 383.9 106.5 383.7 105.5 383.5 105.4 383.5 104.5 383.3 103.5 383.1 102.5 382.9 101.5 382.7 100.8 382.5 100.5 382.4 99.5 382.1 98.5 381.8 97.8 381.5 97.5 381.4 96.5 380.9 95.9 380.5 95.5 380.3 94.5 379.7 94.1 379.5 93.5 379.2 92.5 378.7 92.1 378.5 91.5 378.3 90.5 377.9 89.6 377.5 89.5 377.5 88.5 377.1 87.5 376.6 87.3 376.5 86.5 376.0 85.8 375.5 85.5 375.2 84.8 374.5 84.5 374.1 84.0 373.5 83.5 372.5 83.5 372.5 83.0 371.5 82.5 370.5 82.5 370.5 82.0 369.5 81.6 368.5 81.5 368.2 81.2 367.5 80.7 366.5 80.5 365.9 80.3 365.5 79.9 364.5 79.6 363.5 79.5 363.2 79.3 362.5 79.0 361.5 78.8 360.5 78.7 359.5 78.6 358.5 78.7 357.5 78.8 356.5 79.2 355.5 79.5 355.0 79.9 354.5 80.5 353.9 81.1 353.5 81.5 353.3 82.5 352.9 83.5 352.5 83.5 352.5 84.5 352.2 85.5 351.8 86.3 351.5 86.5 351.4 87.5 351.0 88.5 350.5 88.5 350.5 89.5 349.9 90.0 349.5 90.5 349.1 91.1 348.5 91.5 347.9 91.7 347.5 92.1 346.5 92.3 345.5 92.4 344.5 92.3 343.5 92.1 342.5 91.9 341.5 91.6 340.5 91.5 340.0 91.4 339.5 91.1 338.5 90.9 337.5 90.7 336.5 90.5 335.5 90.5 335.4 90.3 334.5 89.8 333.5 89.5 333.1 89.1 332.5 88.5 332.0 87.8 331.5 87.5 331.3 86.5 330.8 86.0 330.5 85.5 330.3 84.5 329.9 83.6 329.5 83.5 329.5 82.5 329.1 81.5 328.7 80.9 328.5 80.5 328.4 79.5 328.0 78.5 327.5 78.5 327.5 77.5 326.9 76.9 326.5 76.5 326.1 75.9 325.5 75.5 324.9 75.3 324.5 74.9 323.5 74.7 322.5 74.7 321.5 74.8 320.5 75.1 319.5 75.5 318.5 75.5 318.5 76.1 317.5 76.5 317.1 77.0 316.5 77.5 316.0 78.1 315.5 78.5 315.2 79.4 314.5 79.5 314.4 80.5 313.8 81.0 313.5 81.5 313.2 82.5 312.7 83.0 312.5 83.5 312.3 84.5 311.9 85.5 311.6 86.1 311.5 86.5 311.4 87.5 311.3 88.5 311.2 89.5 311.2 90.5 311.2 91.5 311.3 92.5 311.3 93.5 311.3 94.5 311.3 95.5 311.2 96.5 311.1 97.5 310.9 98.5 310.7 99.5 310.5 99.6 310.5 100.5 310.3 101.5 310.1 102.5 309.9 103.5 309.7 104.2 309.5 104.5 309.4 105.5 309.2 106.5 308.9 107.5 308.6 107.8 308.5 108.5 308.3 109.5 308.0 110.5 307.8 111.5 307.6 111.7 307.5 112.5 307.3 113.5 307.0 114.5 306.7 115.0 306.5 115.5 306.3 116.5 305.8 117.0 305.5 117.5 305.2 118.5 304.7 118.8 304.5 119.5 304.1 120.5 303.6 120.8 303.5 121.5 303.2 122.5 302.8 123.5 302.6 123.8 302.5 124.5 302.3 125.5 302.2 126.5 302.1 127.5 302.0 128.5 302.0 129.5 302.0 130.5 302.1 131.5 302.2 132.5 302.2 133.5 302.3 134.5 302.3 135.5 302.4 136.5 302.4 137.5 302.3 138.5 302.3 139.5 302.2 140.5 302.1 141.5 302.0 142.5 301.9 143.5 301.8 144.5 301.7 145.5 301.6 146.5 301.6 147.5 301.6 148.5 301.6 149.5 301.7 150.5 301.9 151.5 302.1 152.5 302.4 152.8 302.5 153.5 302.8 154.5 303.2 155.0 303.5 155.5 303.8 156.5 304.5 156.5 304.5 157.5 305.4 157.5 305.5 158.4 306.5 158.5 306.7 159.0 307.5 159.5 308.4 159.5 308.5 160.0 309.5 160.3 310.5 160.5 311.5 160.5 311.7 160.6 312.5 160.8 313.5 160.9 314.5 161.0 315.5 161.3 316.5 161.5 317.3 161.6 317.5 162.0 318.5 162.5 319.5 162.5 319.5 163.0 320.5 163.4 321.5 163.5 321.8 163.8 322.5 164.1 323.5 164.4 324.5 164.5 324.8 164.7 325.5 165.0 326.5 165.4 327.5 165.5 327.9 165.7 328.5 166.1 329.5 166.5 330.5 166.5 330.7 166.8 331.5 167.1 332.5 167.3 333.5 167.3 334.5 167.3 335.5 167.1 336.5 166.7 337.5 166.5 338.0 166.3 338.5 165.8 339.5 165.5 339.9 165.2 340.5 164.7 341.5 164.5 341.9 164.2 342.5 163.8 343.5 163.5 344.5 163.5 344.7 163.4 345.5 163.3 346.5 163.4 347.5 163.5 348.5 163.5 348.7 163.7 349.5 163.9 350.5 164.2 351.5 164.5 352.3 164.6 352.5 165.0 353.5 165.4 354.5 165.5 354.6 166.0 355.5 166.5 356.5 166.5 356.5 167.1 357.5 167.5 358.1 167.8 358.5 168.4 359.5 168.5 359.7 169.1 360.5 169.5 361.3 169.6 361.5 170.1 362.5 170.5 363.5 170.5 363.5 170.7 364.5 170.8 365.5 170.7 366.5 170.5 366.9 170.3 367.5 169.8 368.5 169.5 368.9 169.1 369.5 168.5 370.2 168.3 370.5 167.5 371.3 167.3 371.5 166.5 372.3 166.3 372.5 165.5 373.3 165.3 373.5 164.5 374.4 164.4 374.5 163.5 375.5 163.5 375.5 162.7 376.5 162.5 376.7 161.8 377.5 161.5 377.9 161.0 378.5 160.5 379.0 160.1 379.5 159.5 380.0 159.0 380.5 158.5 380.9 157.8 381.5 157.5 381.7 156.5 382.4 156.4 382.5 155.5 383.1 154.6 383.5 154.5 383.6 153.5 384.0 152.5 384.4 152.1 384.5 151.5 384.7" stroke="#2a84e0" stroke-width="1.05" stroke-opacity="0.88" fill="none"/>
<path d="M151.5 382.7 150.5 382.9 149.5 383.0 148.5 383.1 147.5 383.2 146.5 383.3 145.5 383.3 144.5 383.3 143.5 383.3 142.5 383.3 141.5 383.2 140.5 383.2 139.5 383.1 138.5 383.0 137.5 382.9 136.5 382.8 135.5 382.6 134.5 382.5 134.0 382.5 133.5 382.5 132.5 382.4 131.5 382.4 130.5 382.4 129.5 382.3 128.5 382.3 127.5 382.1 126.5 382.0 125.5 381.8 124.5 381.5 124.4 381.5 123.5 381.3 122.5 381.2 121.5 381.0 120.5 380.9 119.5 380.9 118.5 380.9 117.5 381.0 116.5 381.1 115.5 381.2 114.5 381.4 113.6 381.5 113.5 381.5 112.5 381.6 111.5 381.7 110.5 381.7 109.5 381.7 108.5 381.5 108.3 381.5 107.5 381.4 106.5 381.2 105.5 380.9 104.5 380.6 104.0 380.5 103.5 380.4 102.5 380.1 101.5 379.8 100.5 379.5 100.5 379.5 99.5 379.2 98.5 378.9 97.5 378.5 97.5 378.5 96.5 378.1 95.5 377.7 95.0 377.5 94.5 377.3 93.5 377.0 92.5 376.6 92.3 376.5 91.5 376.2 90.5 375.8 89.8 375.5 89.5 375.4 88.5 374.9 87.9 374.5 87.5 374.2 86.7 373.5 86.5 373.3 85.8 372.5 85.5 372.1 85.1 371.5 84.5 370.5 84.5 370.5 84.0 369.5 83.5 368.5 83.5 368.4 83.1 367.5 82.7 366.5 82.5 365.8 82.4 365.5 82.1 364.5 81.8 363.5 81.7 362.5 81.6 361.5 81.6 360.5 81.7 359.5 82.0 358.5 82.5 357.5 82.5 357.5 83.3 356.5 83.5 356.3 84.4 355.5 84.5 355.4 85.5 354.8 86.1 354.5 86.5 354.3 87.5 353.8 88.1 353.5 88.5 353.3 89.5 352.9 90.4 352.5 90.5 352.4 91.5 351.9 92.3 351.5 92.5 351.4 93.5 350.7 93.7 350.5 94.5 349.6 94.6 349.5 95.2 348.5 95.5 347.6 95.5 347.5 95.7 346.5 95.9 345.5 95.9 344.5 95.9 343.5 95.8 342.5 95.7 341.5 95.7 340.5 95.6 339.5 95.6 338.5 95.6 337.5 95.7 336.5 95.6 335.5 95.6 334.5 95.5 334.1 95.4 333.5 95.1 332.5 94.6 331.5 94.5 331.4 93.8 330.5 93.5 330.2 92.6 329.5 92.5 329.4 91.5 329.0 90.5 328.6 89.9 328.5 89.5 328.4 88.5 328.3 87.5 328.1 86.5 328.0 85.5 327.8 84.5 327.6 84.2 327.5 83.5 327.3 82.5 327.1 81.5 326.7 81.0 326.5 80.5 326.3 79.5 325.8 79.1 325.5 78.5 325.1 77.9 324.5 77.5 324.0 77.2 323.5 76.8 322.5 76.7 321.5 76.8 320.5 77.0 319.5 77.5 318.6 77.5 318.5 78.3 317.5 78.5 317.2 79.3 316.5 79.5 316.3 80.5 315.6 80.6 315.5 81.5 314.9 82.4 314.5 82.5 314.5 83.5 314.1 84.5 313.8 85.5 313.6 86.3 313.5 86.5 313.5 87.5 313.5 87.8 313.5 88.5 313.6 89.5 313.8 90.5 314.0 91.5 314.4 91.9 314.5 92.5 314.7 93.5 315.1 94.5 315.3 95.5 315.5 96.5 315.4 97.5 315.2 98.5 314.9 99.5 314.6 99.6 314.5 100.5 314.2 101.5 313.8 102.1 313.5 102.5 313.3 103.5 312.9 104.3 312.5 104.5 312.4 105.5 312.0 106.5 311.5 106.5 311.5 107.5 311.1 108.5 310.7 109.2 310.5 109.5 310.4 110.5 310.1 111.5 309.8 112.5 309.6 112.9 309.5 113.5 309.3 114.5 309.0 115.5 308.7 116.0 308.5 116.5 308.3 117.5 307.8 118.2 307.5 118.5 307.3 119.5 306.8 120.1 306.5 120.5 306.3 121.5 305.8 122.3 305.5 122.5 305.4 123.5 305.1 124.5 304.8 125.5 304.7 126.5 304.6 127.5 304.5 127.8 304.5 128.5 304.5 129.5 304.5 130.5 304.5 131.5 304.5 132.3 304.5 132.5 304.5 133.5 304.5 134.5 304.5 135.0 304.5 135.5 304.5 136.5 304.5 137.5 304.4 138.5 304.4 139.5 304.4 140.5 304.3 141.5 304.3 142.5 304.3 143.5 304.2 144.5 304.2 145.5 304.2 146.5 304.2 147.5 304.3 148.5 304.4 149.5 304.5 149.5 304.5 150.5 304.7 151.5 304.9 152.5 305.3 152.9 305.5 153.5 305.8 154.5 306.5 154.5 306.5 155.5 307.4 155.6 307.5 156.4 308.5 156.5 308.6 157.0 309.5 157.4 310.5 157.5 310.7 157.7 311.5 157.9 312.5 158.0 313.5 158.1 314.5 158.1 315.5 158.2 316.5 158.4 317.5 158.5 317.9 158.7 318.5 159.2 319.5 159.5 320.0 159.8 320.5 160.5 321.5 160.5 321.5 161.1 322.5 161.5 323.1 161.7 323.5 162.2 324.5 162.5 325.4 162.6 325.5 163.0 326.5 163.3 327.5 163.5 328.1 163.6 328.5 164.0 329.5 164.3 330.5 164.5 331.4 164.5 331.5 164.7 332.5 164.9 333.5 164.9 334.5 164.8 335.5 164.5 336.5 164.5 336.5 164.2 337.5 163.8 338.5 163.5 339.1 163.3 339.5 162.9 340.5 162.5 341.2 162.4 341.5 162.0 342.5 161.6 343.5 161.5 343.8 161.3 344.5 161.1 345.5 161.0 346.5 160.9 347.5 160.9 348.5 161.0 349.5 161.2 350.5 161.4 351.5 161.5 351.7 161.8 352.5 162.1 353.5 162.5 354.4 162.5 354.5 163.0 355.5 163.5 356.4 163.5 356.5 164.1 357.5 164.5 358.3 164.6 358.5 165.2 359.5 165.5 360.2 165.6 360.5 166.1 361.5 166.4 362.5 166.5 362.8 166.7 363.5 166.9 364.5 166.9 365.5 166.8 366.5 166.5 367.5 166.5 367.6 166.2 368.5 165.6 369.5 165.5 369.6 164.9 370.5 164.5 371.0 164.1 371.5 163.5 372.3 163.3 372.5 162.5 373.5 162.5 373.6 161.8 374.5 161.5 375.0 161.1 375.5 160.5 376.4 160.4 376.5 159.6 377.5 159.5 377.6 158.7 378.5 158.5 378.7 157.7 379.5 157.5 379.7 156.5 380.5 156.4 380.5 155.5 381.1 154.7 381.5 154.5 381.6 153.5 382.1 152.5 382.4 152.1 382.5 151.5 382.7 M122.2 349.5 122.5 349.4 123.5 349.1 124.5 348.5 124.5 348.5 125.2 347.5 125.1 346.5 124.7 345.5 124.5 345.3 123.9 344.5 123.5 344.1 122.8 343.5 122.5 343.3 121.5 342.7 120.8 342.5 120.5 342.4 119.5 342.2 118.5 342.1 117.5 342.0 116.5 342.0 115.5 342.0 114.5 342.0 113.5 342.0 112.5 342.1 111.5 342.3 110.7 342.5 110.5 342.6 109.5 343.4 109.4 343.5 109.2 344.5 109.5 345.5 109.5 345.5 110.3 346.5 110.5 346.6 111.5 347.4 111.6 347.5 112.5 348.0 113.5 348.5 113.5 348.5 114.5 348.9 115.5 349.3 116.3 349.5 116.5 349.6 117.5 349.8 118.5 349.9 119.5 349.9 120.5 349.8 121.5 349.6 122.2 349.5" stroke="#2a84e0" stroke-width="1.05" stroke-opacity="0.88" fill="none"/>
<path d="M151.5 380.8 150.5 380.9 149.5 381.0 148.5 381.1 147.5 381.2 146.5 381.2 145.5 381.3 144.5 381.3 143.5 381.4 142.5 381.5 141.5 381.5 140.5 381.5 139.5 381.5 138.5 381.4 137.5 381.4 136.5 381.3 135.5 381.2 134.5 381.1 133.5 381.0 132.5 380.9 131.5 380.8 130.5 380.7 129.5 380.6 128.7 380.5 128.5 380.5 127.5 380.3 126.5 380.2 125.5 380.0 124.5 379.8 123.5 379.6 122.9 379.5 122.5 379.4 121.5 379.3 120.5 379.2 119.5 379.2 118.5 379.2 117.5 379.2 116.5 379.3 115.5 379.4 114.5 379.4 113.5 379.5 113.5 379.5 112.5 379.5 111.5 379.5 110.9 379.5 110.5 379.5 109.5 379.4 108.5 379.2 107.5 379.0 106.5 378.7 105.9 378.5 105.5 378.4 104.5 378.0 103.5 377.7 103.1 377.5 102.5 377.3 101.5 377.0 100.5 376.7 99.9 376.5 99.5 376.4 98.5 376.2 97.5 375.9 96.5 375.7 95.8 375.5 95.5 375.4 94.5 375.2 93.5 374.9 92.5 374.6 92.2 374.5 91.5 374.3 90.5 373.8 89.9 373.5 89.5 373.3 88.5 372.6 88.4 372.5 87.5 371.7 87.3 371.5 86.5 370.5 86.5 370.5 85.9 369.5 85.5 368.8 85.4 368.5 84.9 367.5 84.6 366.5 84.5 366.3 84.3 365.5 84.0 364.5 83.9 363.5 83.9 362.5 84.0 361.5 84.2 360.5 84.5 359.9 84.7 359.5 85.3 358.5 85.5 358.3 86.3 357.5 86.5 357.3 87.5 356.6 87.7 356.5 88.5 356.1 89.5 355.6 89.8 355.5 90.5 355.2 91.5 354.9 92.5 354.6 92.9 354.5 93.5 354.3 94.5 354.1 95.5 353.8 96.5 353.6 96.8 353.5 97.5 353.2 98.5 352.8 99.1 352.5 99.5 352.2 100.5 351.5 100.5 351.5 101.5 350.5 101.5 350.5 102.5 349.7 103.0 349.5 103.5 349.3 104.5 349.2 105.5 349.3 106.3 349.5 106.5 349.5 107.5 349.8 108.5 350.2 109.4 350.5 109.5 350.5 110.5 350.9 111.5 351.4 111.7 351.5 112.5 351.9 113.5 352.4 113.8 352.5 114.5 352.9 115.5 353.3 116.1 353.5 116.5 353.6 117.5 353.8 118.5 353.9 119.5 353.8 120.5 353.6 121.0 353.5 121.5 353.4 122.5 353.1 123.5 352.8 124.5 352.6 125.0 352.5 125.5 352.4 126.5 352.1 127.5 351.7 128.0 351.5 128.5 351.2 129.3 350.5 129.5 350.2 129.9 349.5 130.0 348.5 129.7 347.5 129.5 347.2 128.9 346.5 128.5 346.2 127.8 345.5 127.5 345.3 126.7 344.5 126.5 344.3 125.8 343.5 125.5 343.2 124.9 342.5 124.5 342.0 123.9 341.5 123.5 341.1 122.6 340.5 122.5 340.4 121.5 340.0 120.5 339.7 119.5 339.6 119.1 339.5 118.5 339.4 117.5 339.3 116.5 339.2 115.5 339.2 114.5 339.0 113.5 338.9 112.5 338.7 111.5 338.5 111.4 338.5 110.5 338.3 109.5 337.9 108.5 337.5 108.4 337.5 107.5 337.1 106.5 336.6 106.3 336.5 105.5 336.1 104.5 335.5 104.5 335.5 103.5 334.9 103.0 334.5 102.5 334.2 101.8 333.5 101.5 333.2 100.9 332.5 100.5 331.9 100.2 331.5 99.6 330.5 99.5 330.3 99.1 329.5 98.7 328.5 98.5 328.0 98.3 327.5 98.1 326.5 98.1 325.5 98.5 324.5 98.5 324.5 99.2 323.5 99.5 323.2 100.0 322.5 100.5 322.0 100.9 321.5 101.5 320.8 101.7 320.5 102.4 319.5 102.5 319.4 103.1 318.5 103.5 317.9 103.8 317.5 104.5 316.6 104.5 316.5 105.5 315.5 105.5 315.5 106.5 314.6 106.6 314.5 107.5 313.8 107.9 313.5 108.5 313.2 109.5 312.6 109.8 312.5 110.5 312.2 111.5 311.8 112.5 311.5 112.5 311.5 113.5 311.2 114.5 310.8 115.5 310.5 115.6 310.5 116.5 310.1 117.5 309.7 118.0 309.5 118.5 309.2 119.5 308.8 120.1 308.5 120.5 308.3 121.5 307.8 122.4 307.5 122.5 307.5 123.5 307.1 124.5 306.9 125.5 306.7 126.5 306.6 127.2 306.5 127.5 306.5 128.5 306.4 129.5 306.4 130.5 306.4 131.5 306.3 132.5 306.3 133.5 306.3 134.5 306.3 135.5 306.3 136.5 306.3 137.5 306.3 138.5 306.3 139.5 306.3 140.5 306.4 141.5 306.5 141.5 306.5 142.5 306.6 143.5 306.7 144.5 306.9 145.5 307.0 146.5 307.2 147.5 307.3 148.5 307.5 148.5 307.5 149.5 307.7 150.5 308.0 151.5 308.4 151.6 308.5 152.5 309.0 153.1 309.5 153.5 309.9 154.0 310.5 154.5 311.4 154.5 311.5 154.9 312.5 155.2 313.5 155.3 314.5 155.4 315.5 155.5 316.3 155.5 316.5 155.7 317.5 155.9 318.5 156.3 319.5 156.5 319.8 156.9 320.5 157.5 321.4 157.6 321.5 158.4 322.5 158.5 322.7 159.1 323.5 159.5 324.0 159.8 324.5 160.4 325.5 160.5 325.8 160.9 326.5 161.3 327.5 161.5 328.1 161.6 328.5 162.0 329.5 162.2 330.5 162.5 331.5 162.5 331.8 162.6 332.5 162.7 333.5 162.7 334.5 162.5 335.5 162.5 335.5 162.3 336.5 162.0 337.5 161.6 338.5 161.5 338.6 161.1 339.5 160.7 340.5 160.5 340.8 160.2 341.5 159.8 342.5 159.5 343.2 159.4 343.5 159.0 344.5 158.7 345.5 158.5 346.2 158.4 346.5 158.2 347.5 158.1 348.5 158.0 349.5 158.1 350.5 158.2 351.5 158.5 352.5 158.5 352.5 158.9 353.5 159.4 354.5 159.5 354.8 159.9 355.5 160.5 356.5 160.5 356.6 161.0 357.5 161.5 358.3 161.6 358.5 162.2 359.5 162.5 360.1 162.7 360.5 163.2 361.5 163.5 362.3 163.6 362.5 163.9 363.5 164.1 364.5 164.1 365.5 164.0 366.5 163.8 367.5 163.5 368.1 163.4 368.5 162.9 369.5 162.5 370.1 162.3 370.5 161.6 371.5 161.5 371.7 161.0 372.5 160.5 373.3 160.4 373.5 159.7 374.5 159.5 374.8 159.1 375.5 158.5 376.3 158.3 376.5 157.5 377.4 157.4 377.5 156.5 378.4 156.3 378.5 155.5 379.1 154.8 379.5 154.5 379.7 153.5 380.2 152.5 380.5 152.4 380.5 151.5 380.8 M87.5 325.6 86.5 325.6 85.5 325.6 84.5 325.5 84.3 325.5 83.5 325.4 82.5 325.1 81.5 324.7 81.2 324.5 80.5 324.0 79.9 323.5 79.5 323.0 79.2 322.5 78.9 321.5 78.9 320.5 79.2 319.5 79.5 318.9 79.8 318.5 80.5 317.7 80.7 317.5 81.5 316.9 82.2 316.5 82.5 316.4 83.5 316.0 84.5 315.7 85.5 315.6 86.5 315.7 87.5 315.9 88.5 316.2 89.0 316.5 89.5 316.8 90.3 317.5 90.5 317.7 91.1 318.5 91.5 319.2 91.7 319.5 92.1 320.5 92.3 321.5 92.2 322.5 91.7 323.5 91.5 323.7 90.6 324.5 90.5 324.5 89.5 325.0 88.5 325.4 87.8 325.5 87.5 325.6" stroke="#2a84e0" stroke-width="1.05" stroke-opacity="0.88" fill="none"/>
<path d="M144.5 379.5 143.5 379.6 142.5 379.8 141.5 379.9 140.5 380.0 139.5 380.0 138.5 380.0 137.5 380.0 136.5 380.0 135.5 379.9 134.5 379.8 133.5 379.7 132.5 379.5 132.3 379.5 131.5 379.4 130.5 379.3 129.5 379.2 128.5 379.0 127.5 378.8 126.5 378.6 126.0 378.5 125.5 378.4 124.5 378.2 123.5 378.0 122.5 377.9 121.5 377.7 120.5 377.6 119.8 377.5 119.5 377.5 118.5 377.4 117.5 377.4 116.5 377.4 115.5 377.5 114.5 377.5 113.5 377.5 112.5 377.4 111.5 377.4 110.5 377.2 109.5 377.0 108.5 376.7 107.8 376.5 107.5 376.4 106.5 376.0 105.5 375.6 105.3 375.5 104.5 375.2 103.5 374.7 102.8 374.5 102.5 374.4 101.5 374.1 100.5 373.9 99.5 373.8 98.5 373.7 97.5 373.6 96.5 373.5 96.5 373.5 95.5 373.4 94.5 373.2 93.5 373.0 92.5 372.7 92.0 372.5 91.5 372.3 90.5 371.8 90.0 371.5 89.5 371.1 88.8 370.5 88.5 370.2 87.9 369.5 87.5 368.9 87.3 368.5 86.7 367.5 86.5 366.8 86.4 366.5 86.1 365.5 85.9 364.5 85.9 363.5 86.0 362.5 86.3 361.5 86.5 361.1 86.8 360.5 87.5 359.6 87.6 359.5 88.5 358.7 88.8 358.5 89.5 358.1 90.5 357.6 90.8 357.5 91.5 357.2 92.5 357.0 93.5 356.8 94.5 356.6 95.5 356.6 96.5 356.5 97.5 356.5 98.5 356.6 99.5 356.6 100.5 356.6 101.5 356.6 102.5 356.5 102.7 356.5 103.5 356.3 104.5 356.1 105.5 355.8 106.5 355.6 107.1 355.5 107.5 355.4 108.5 355.4 109.0 355.5 109.5 355.6 110.5 355.8 111.5 356.1 112.5 356.5 112.5 356.5 113.5 356.8 114.5 357.2 115.5 357.5 115.7 357.5 116.5 357.6 117.5 357.7 118.5 357.6 118.9 357.5 119.5 357.4 120.5 357.0 121.5 356.7 122.0 356.5 122.5 356.3 123.5 355.9 124.5 355.6 125.0 355.5 125.5 355.4 126.5 355.1 127.5 354.8 128.5 354.6 128.8 354.5 129.5 354.2 130.5 353.8 131.0 353.5 131.5 353.2 132.5 352.5 132.5 352.5 133.5 351.6 133.6 351.5 134.5 350.6 134.6 350.5 135.5 349.5 135.5 349.4 136.3 348.5 136.5 348.3 137.3 347.5 137.5 347.3 138.4 346.5 138.5 346.4 139.5 345.5 139.6 345.5 140.5 344.7 140.7 344.5 141.5 343.8 141.8 343.5 142.5 342.6 142.6 342.5 143.2 341.5 143.4 340.5 143.5 339.5 143.3 338.5 143.0 337.5 142.5 336.5 142.5 336.5 141.5 335.5 141.5 335.5 140.5 335.2 139.5 335.4 139.4 335.5 138.5 336.0 137.8 336.5 137.5 336.7 136.7 337.5 136.5 337.7 135.9 338.5 135.5 339.1 135.3 339.5 134.9 340.5 134.5 341.3 134.4 341.5 133.9 342.5 133.5 343.0 133.0 343.5 132.5 343.8 131.5 344.2 130.5 344.3 129.5 344.1 128.5 343.7 128.3 343.5 127.5 342.9 127.1 342.5 126.5 341.7 126.4 341.5 125.8 340.5 125.5 339.9 125.2 339.5 124.5 338.5 124.5 338.5 123.5 337.8 122.9 337.5 122.5 337.3 121.5 337.0 120.5 336.7 119.5 336.5 119.3 336.5 118.5 336.4 117.5 336.3 116.5 336.1 115.5 336.0 114.5 335.7 113.7 335.5 113.5 335.4 112.5 335.1 111.5 334.6 111.3 334.5 110.5 334.1 109.7 333.5 109.5 333.4 108.5 332.7 108.3 332.5 107.5 331.9 107.0 331.5 106.5 331.0 106.0 330.5 105.5 329.9 105.2 329.5 104.6 328.5 104.5 328.2 104.3 327.5 104.2 326.5 104.3 325.5 104.5 324.5 104.5 324.4 104.7 323.5 105.0 322.5 105.4 321.5 105.5 321.3 105.8 320.5 106.2 319.5 106.5 318.8 106.6 318.5 107.2 317.5 107.5 317.1 107.9 316.5 108.5 315.9 108.9 315.5 109.5 315.0 110.2 314.5 110.5 314.3 111.5 313.7 112.0 313.5 112.5 313.3 113.5 312.8 114.4 312.5 114.5 312.5 115.5 312.1 116.5 311.7 117.0 311.5 117.5 311.3 118.5 310.8 119.3 310.5 119.5 310.4 120.5 310.0 121.5 309.6 121.7 309.5 122.5 309.2 123.5 308.8 124.5 308.6 125.1 308.5 125.5 308.4 126.5 308.3 127.5 308.1 128.5 308.1 129.5 308.0 130.5 308.0 131.5 308.0 132.5 307.9 133.5 307.9 134.5 307.9 135.5 307.9 136.5 308.0 137.5 308.0 138.5 308.1 139.5 308.3 140.5 308.5 140.6 308.5 141.5 308.7 142.5 309.0 143.5 309.4 143.9 309.5 144.5 309.8 145.5 310.2 146.3 310.5 146.5 310.6 147.5 311.1 148.5 311.5 148.5 311.5 149.5 312.1 150.1 312.5 150.5 312.9 151.0 313.5 151.5 314.2 151.7 314.5 152.1 315.5 152.4 316.5 152.5 316.8 152.7 317.5 153.0 318.5 153.4 319.5 153.5 319.8 153.9 320.5 154.5 321.5 154.5 321.5 155.3 322.5 155.5 322.8 156.2 323.5 156.5 323.9 157.1 324.5 157.5 325.0 157.9 325.5 158.5 326.5 158.5 326.5 159.1 327.5 159.5 328.5 159.5 328.5 159.9 329.5 160.1 330.5 160.4 331.5 160.5 332.5 160.5 332.9 160.5 333.5 160.5 333.9 160.5 334.5 160.3 335.5 160.1 336.5 159.7 337.5 159.5 338.0 159.3 338.5 158.8 339.5 158.5 340.1 158.3 340.5 157.7 341.5 157.5 341.9 157.1 342.5 156.5 343.5 156.5 343.6 155.9 344.5 155.5 345.1 155.2 345.5 154.5 346.5 154.5 346.5 153.8 347.5 153.5 348.2 153.4 348.5 153.2 349.5 153.4 350.5 153.5 350.7 153.8 351.5 154.4 352.5 154.5 352.6 155.1 353.5 155.5 354.1 155.8 354.5 156.5 355.4 156.5 355.5 157.3 356.5 157.5 356.8 158.0 357.5 158.5 358.2 158.7 358.5 159.4 359.5 159.5 359.7 160.0 360.5 160.5 361.5 160.5 361.5 161.0 362.5 161.3 363.5 161.5 364.3 161.5 364.5 161.6 365.5 161.6 366.5 161.5 366.8 161.4 367.5 161.1 368.5 160.6 369.5 160.5 369.7 160.1 370.5 159.6 371.5 159.5 371.7 159.1 372.5 158.5 373.4 158.4 373.5 157.8 374.5 157.5 374.9 157.0 375.5 156.5 376.1 156.1 376.5 155.5 377.0 154.8 377.5 154.5 377.7 153.5 378.2 152.8 378.5 152.5 378.6 151.5 378.9 150.5 379.1 149.5 379.2 148.5 379.2 147.5 379.3 146.5 379.3 145.5 379.4 144.5 379.5 144.5 379.5 M86.5 322.6 85.5 322.9 84.5 323.0 83.5 322.8 82.8 322.5 82.5 322.2 81.9 321.5 81.8 320.5 82.2 319.5 82.5 319.2 83.5 318.5 83.5 318.5 84.5 318.3 85.5 318.3 86.1 318.5 86.5 318.7 87.4 319.5 87.5 319.9 87.7 320.5 87.6 321.5 87.5 321.6 86.7 322.5 86.5 322.6" stroke="#2a84e0" stroke-width="1.05" stroke-opacity="0.88" fill="none"/>
<path d="M130.5 335.9 129.5 336.3 128.5 336.1 127.5 335.7 127.1 335.5 126.5 335.3 125.5 334.9 124.5 334.6 124.3 334.5 123.5 334.3 122.5 334.0 121.5 333.7 120.5 333.5 120.5 333.5 119.5 333.3 118.5 333.1 117.5 333.0 116.5 332.8 115.5 332.5 115.4 332.5 114.5 332.3 113.5 331.9 112.7 331.5 112.5 331.4 111.5 330.9 110.9 330.5 110.5 330.2 109.7 329.5 109.5 329.3 108.8 328.5 108.5 328.1 108.2 327.5 107.8 326.5 107.6 325.5 107.5 324.5 107.6 323.5 107.7 322.5 107.9 321.5 108.2 320.5 108.5 319.8 108.6 319.5 109.1 318.5 109.5 317.9 109.8 317.5 110.5 316.7 110.7 316.5 111.5 315.8 111.9 315.5 112.5 315.1 113.5 314.5 113.5 314.5 114.5 314.0 115.5 313.6 115.7 313.5 116.5 313.1 117.5 312.7 118.0 312.5 118.5 312.3 119.5 311.8 120.4 311.5 120.5 311.5 121.5 311.0 122.5 310.7 123.3 310.5 123.5 310.4 124.5 310.2 125.5 310.0 126.5 309.8 127.5 309.7 128.5 309.7 129.5 309.6 130.5 309.6 131.5 309.6 132.5 309.5 133.5 309.5 134.5 309.6 135.5 309.6 136.5 309.7 137.5 309.9 138.5 310.1 139.5 310.4 139.8 310.5 140.5 310.8 141.5 311.3 141.8 311.5 142.5 312.0 143.1 312.5 143.5 312.9 144.1 313.5 144.5 314.1 144.8 314.5 145.3 315.5 145.4 316.5 145.3 317.5 144.8 318.5 144.5 318.8 143.8 319.5 143.5 319.7 142.6 320.5 142.5 320.6 141.5 321.5 141.5 321.5 140.8 322.5 140.5 323.2 140.4 323.5 140.1 324.5 139.9 325.5 139.5 326.5 139.5 326.6 139.2 327.5 138.7 328.5 138.5 328.7 138.0 329.5 137.5 330.2 137.3 330.5 136.5 331.4 136.4 331.5 135.5 332.3 135.3 332.5 134.5 333.2 134.1 333.5 133.5 334.0 132.7 334.5 132.5 334.7 131.5 335.3 131.1 335.5 130.5 335.9 M153.5 340.7 152.5 340.7 151.8 340.5 151.5 340.4 150.5 339.7 150.3 339.5 149.5 338.7 149.3 338.5 148.6 337.5 148.5 337.4 147.9 336.5 147.5 335.7 147.4 335.5 146.9 334.5 146.6 333.5 146.5 333.3 146.3 332.5 146.1 331.5 146.0 330.5 146.0 329.5 146.2 328.5 146.5 327.5 146.5 327.4 146.9 326.5 147.4 325.5 147.5 325.3 148.1 324.5 148.5 324.0 149.3 323.5 149.5 323.4 150.5 323.4 150.7 323.5 151.5 323.8 152.5 324.3 152.7 324.5 153.5 325.0 154.1 325.5 154.5 325.8 155.3 326.5 155.5 326.7 156.1 327.5 156.5 328.0 156.8 328.5 157.3 329.5 157.5 330.0 157.7 330.5 157.9 331.5 158.1 332.5 158.1 333.5 158.0 334.5 157.8 335.5 157.5 336.4 157.4 336.5 157.0 337.5 156.5 338.3 156.3 338.5 155.5 339.5 155.5 339.5 154.5 340.3 153.9 340.5 153.5 340.7 M130.5 340.6 129.5 341.3 128.6 340.5 128.5 339.5 129.5 338.5 129.5 338.5 129.5 338.5 130.5 339.5 130.5 339.7 130.6 340.5 130.5 340.6 M139.5 378.6 138.5 378.6 137.5 378.7 136.5 378.6 135.5 378.6 135.0 378.5 134.5 378.5 133.5 378.4 132.5 378.2 131.5 378.1 130.5 377.9 129.5 377.8 128.5 377.6 128.1 377.5 127.5 377.4 126.5 377.2 125.5 377.0 124.5 376.7 123.5 376.5 123.5 376.5 122.5 376.3 121.5 376.1 120.5 375.9 119.5 375.8 118.5 375.6 117.5 375.5 117.0 375.5 116.5 375.5 115.5 375.4 114.5 375.3 113.5 375.2 112.5 375.1 111.5 374.9 110.5 374.6 110.3 374.5 109.5 374.2 108.5 373.8 108.0 373.5 107.5 373.2 106.5 372.6 106.2 372.5 105.5 372.1 104.5 371.6 104.2 371.5 103.5 371.3 102.5 371.1 101.5 371.1 100.5 371.2 99.5 371.3 98.5 371.4 97.5 371.4 96.5 371.4 95.5 371.4 94.5 371.3 93.5 371.1 92.5 370.8 92.0 370.5 91.5 370.3 90.5 369.6 90.4 369.5 89.5 368.6 89.4 368.5 88.7 367.5 88.5 367.0 88.3 366.5 88.0 365.5 87.9 364.5 87.9 363.5 88.2 362.5 88.5 361.9 88.7 361.5 89.5 360.6 89.6 360.5 90.5 359.9 91.2 359.5 91.5 359.4 92.5 359.0 93.5 358.8 94.5 358.6 95.5 358.6 96.5 358.6 97.5 358.7 98.5 358.9 99.5 359.2 100.5 359.5 100.7 359.5 101.5 359.8 102.5 360.1 103.5 360.4 104.0 360.5 104.5 360.6 105.5 360.7 106.5 360.6 107.3 360.5 107.5 360.5 108.5 360.3 109.5 360.1 110.5 360.0 111.5 360.0 112.5 360.1 113.5 360.1 114.5 360.2 115.5 360.3 116.5 360.3 117.5 360.2 118.5 360.0 119.5 359.8 120.3 359.5 120.5 359.4 121.5 359.0 122.5 358.6 122.8 358.5 123.5 358.2 124.5 357.8 125.5 357.6 125.7 357.5 126.5 357.3 127.5 357.0 128.5 356.8 129.5 356.5 129.6 356.5 130.5 356.2 131.5 355.8 132.2 355.5 132.5 355.4 133.5 354.8 134.2 354.5 134.5 354.3 135.5 353.7 135.8 353.5 136.5 353.1 137.5 352.5 137.5 352.5 138.5 351.9 139.3 351.5 139.5 351.4 140.5 350.9 141.5 350.5 141.6 350.5 142.5 350.2 143.5 350.0 144.5 350.0 145.5 350.1 146.5 350.5 146.5 350.5 147.5 351.0 148.2 351.5 148.5 351.7 149.5 352.5 149.5 352.5 150.5 353.2 150.8 353.5 151.5 354.1 152.0 354.5 152.5 355.0 153.1 355.5 153.5 355.9 154.1 356.5 154.5 356.9 155.0 357.5 155.5 358.0 155.9 358.5 156.5 359.2 156.7 359.5 157.4 360.5 157.5 360.6 158.1 361.5 158.5 362.4 158.6 362.5 159.0 363.5 159.3 364.5 159.4 365.5 159.4 366.5 159.3 367.5 159.0 368.5 158.7 369.5 158.5 369.9 158.3 370.5 157.8 371.5 157.5 372.0 157.2 372.5 156.5 373.5 156.5 373.5 155.7 374.5 155.5 374.7 154.7 375.5 154.5 375.6 153.5 376.3 153.1 376.5 152.5 376.8 151.5 377.1 150.5 377.3 149.5 377.4 148.5 377.5 147.8 377.5 147.5 377.5 146.5 377.6 145.5 377.7 144.5 377.9 143.5 378.0 142.5 378.2 141.5 378.4 140.5 378.5 140.2 378.5 139.5 378.6" stroke="#2a84e0" stroke-width="1.05" stroke-opacity="0.88" fill="none"/>
<path d="M130.5 331.7 129.5 332.0 128.5 332.1 127.5 332.2 126.5 332.1 125.5 332.0 124.5 331.8 123.5 331.6 122.9 331.5 122.5 331.4 121.5 331.2 120.5 331.0 119.5 330.8 118.5 330.5 118.4 330.5 117.5 330.3 116.5 330.1 115.5 329.7 114.9 329.5 114.5 329.4 113.5 328.9 112.9 328.5 112.5 328.2 111.6 327.5 111.5 327.4 110.8 326.5 110.5 325.9 110.3 325.5 110.0 324.5 109.9 323.5 109.9 322.5 110.1 321.5 110.4 320.5 110.5 320.2 110.8 319.5 111.4 318.5 111.5 318.3 112.2 317.5 112.5 317.2 113.3 316.5 113.5 316.3 114.5 315.7 114.8 315.5 115.5 315.1 116.5 314.6 116.7 314.5 117.5 314.1 118.5 313.7 118.9 313.5 119.5 313.2 120.5 312.8 121.5 312.5 121.5 312.5 122.5 312.1 123.5 311.9 124.5 311.7 125.5 311.5 125.5 311.5 126.5 311.4 127.5 311.3 128.5 311.2 129.5 311.2 130.5 311.2 131.5 311.2 132.5 311.2 133.5 311.3 134.5 311.4 135.3 311.5 135.5 311.5 136.5 311.8 137.5 312.1 138.3 312.5 138.5 312.6 139.5 313.5 139.6 313.5 140.2 314.5 140.4 315.5 140.2 316.5 139.7 317.5 139.5 317.7 138.9 318.5 138.5 318.9 138.0 319.5 137.5 320.3 137.4 320.5 137.0 321.5 136.9 322.5 136.8 323.5 136.6 324.5 136.5 325.1 136.4 325.5 136.1 326.5 135.6 327.5 135.5 327.6 134.9 328.5 134.5 329.0 134.0 329.5 133.5 330.0 132.8 330.5 132.5 330.7 131.5 331.3 130.9 331.5 130.5 331.7 M152.5 333.5 152.5 333.5 151.9 332.5 152.1 331.5 152.5 331.3 152.9 331.5 153.5 332.3 153.6 332.5 153.5 332.8 152.5 333.5 152.5 333.5 M142.5 376.7 141.5 376.9 140.5 377.0 139.5 377.2 138.5 377.3 137.5 377.3 136.5 377.3 135.5 377.2 134.5 377.2 133.5 377.1 132.5 376.9 131.5 376.8 130.5 376.6 129.9 376.5 129.5 376.4 128.5 376.3 127.5 376.1 126.5 375.8 125.5 375.5 125.3 375.5 124.5 375.3 123.5 375.0 122.5 374.7 121.8 374.5 121.5 374.4 120.5 374.1 119.5 373.9 118.5 373.6 118.0 373.5 117.5 373.4 116.5 373.1 115.5 372.9 114.5 372.6 114.1 372.5 113.5 372.3 112.5 371.8 111.8 371.5 111.5 371.3 110.5 370.6 110.4 370.5 109.5 369.5 109.5 369.5 108.8 368.5 108.5 367.6 108.5 367.5 108.5 366.5 108.5 366.4 108.9 365.5 109.5 364.8 109.8 364.5 110.5 364.1 111.5 363.6 111.8 363.5 112.5 363.3 113.5 363.1 114.5 363.0 115.5 362.8 116.5 362.7 117.3 362.5 117.5 362.5 118.5 362.2 119.5 361.8 120.2 361.5 120.5 361.4 121.5 360.9 122.5 360.5 122.5 360.5 123.5 360.0 124.5 359.7 125.0 359.5 125.5 359.3 126.5 359.0 127.5 358.8 128.5 358.5 128.7 358.5 129.5 358.3 130.5 358.0 131.5 357.7 132.2 357.5 132.5 357.4 133.5 357.0 134.5 356.6 134.9 356.5 135.5 356.2 136.5 355.8 137.3 355.5 137.5 355.4 138.5 355.0 139.5 354.7 140.1 354.5 140.5 354.4 141.5 354.1 142.5 353.9 143.5 353.8 144.5 353.9 145.5 354.0 146.5 354.3 146.9 354.5 147.5 354.7 148.5 355.2 149.0 355.5 149.5 355.8 150.5 356.4 150.6 356.5 151.5 357.1 151.9 357.5 152.5 358.0 153.1 358.5 153.5 358.9 154.0 359.5 154.5 360.0 154.9 360.5 155.5 361.3 155.6 361.5 156.3 362.5 156.5 362.9 156.8 363.5 157.1 364.5 157.4 365.5 157.4 366.5 157.4 367.5 157.2 368.5 156.9 369.5 156.5 370.3 156.4 370.5 155.9 371.5 155.5 372.1 155.2 372.5 154.5 373.4 154.4 373.5 153.5 374.3 153.1 374.5 152.5 374.9 151.5 375.3 150.7 375.5 150.5 375.6 149.5 375.7 148.5 375.9 147.5 375.9 146.5 376.0 145.5 376.1 144.5 376.3 143.5 376.4 143.2 376.5 142.5 376.7 M98.5 368.9 97.5 369.2 96.5 369.3 95.5 369.3 94.5 369.2 93.5 369.0 92.5 368.6 92.4 368.5 91.5 367.8 91.2 367.5 90.5 366.5 90.5 366.5 90.1 365.5 90.1 364.5 90.2 363.5 90.5 363.0 90.8 362.5 91.5 361.8 91.9 361.5 92.5 361.2 93.5 360.8 94.5 360.6 95.5 360.6 96.5 360.7 97.5 360.9 98.5 361.2 99.1 361.5 99.5 361.7 100.5 362.4 100.6 362.5 101.5 363.5 101.5 363.5 102.1 364.5 102.2 365.5 101.9 366.5 101.5 367.0 101.1 367.5 100.5 367.9 99.5 368.5 99.5 368.5 98.5 368.9" stroke="#2a84e0" stroke-width="1.05" stroke-opacity="0.88" fill="none"/>
<path d="M128.5 329.7 127.5 329.8 126.5 329.9 125.5 329.9 124.5 329.8 123.5 329.6 123.0 329.5 122.5 329.4 121.5 329.2 120.5 329.0 119.5 328.7 118.8 328.5 118.5 328.4 117.5 328.1 116.5 327.7 116.0 327.5 115.5 327.3 114.5 326.7 114.3 326.5 113.5 325.8 113.2 325.5 112.6 324.5 112.5 324.1 112.3 323.5 112.2 322.5 112.3 321.5 112.5 320.7 112.5 320.5 113.0 319.5 113.5 318.8 113.7 318.5 114.5 317.7 114.7 317.5 115.5 316.8 116.0 316.5 116.5 316.2 117.5 315.6 117.7 315.5 118.5 315.1 119.5 314.7 119.9 314.5 120.5 314.2 121.5 313.9 122.5 313.6 122.9 313.5 123.5 313.3 124.5 313.1 125.5 313.0 126.5 312.9 127.5 312.9 128.5 312.9 129.5 312.9 130.5 313.0 131.5 313.1 132.5 313.3 133.3 313.5 133.5 313.6 134.5 314.0 135.2 314.5 135.5 314.9 135.8 315.5 135.8 316.5 135.5 317.1 135.4 317.5 134.9 318.5 134.6 319.5 134.5 320.0 134.4 320.5 134.4 321.5 134.3 322.5 134.3 323.5 134.1 324.5 133.8 325.5 133.5 326.1 133.3 326.5 132.5 327.5 132.5 327.5 131.5 328.3 131.3 328.5 130.5 329.0 129.5 329.4 129.1 329.5 128.5 329.7 M140.5 375.5 139.5 375.7 138.5 375.8 137.5 375.9 136.5 375.9 135.5 375.9 134.5 375.8 133.5 375.7 132.5 375.6 132.1 375.5 131.5 375.4 130.5 375.3 129.5 375.1 128.5 374.9 127.5 374.7 126.9 374.5 126.5 374.4 125.5 374.1 124.5 373.8 123.7 373.5 123.5 373.4 122.5 373.1 121.5 372.6 121.3 372.5 120.5 372.1 119.5 371.6 119.3 371.5 118.5 371.0 117.7 370.5 117.5 370.3 116.6 369.5 116.5 369.4 115.8 368.5 115.7 367.5 116.1 366.5 116.5 366.1 117.2 365.5 117.5 365.3 118.5 364.7 118.7 364.5 119.5 364.0 120.3 363.5 120.5 363.4 121.5 362.8 122.1 362.5 122.5 362.3 123.5 361.8 124.1 361.5 124.5 361.3 125.5 360.9 126.5 360.6 127.0 360.5 127.5 360.4 128.5 360.1 129.5 359.9 130.5 359.6 131.2 359.5 131.5 359.4 132.5 359.1 133.5 358.8 134.5 358.6 134.7 358.5 135.5 358.2 136.5 358.0 137.5 357.7 138.3 357.5 138.5 357.5 139.5 357.2 140.5 357.0 141.5 356.9 142.5 356.8 143.5 356.8 144.5 356.8 145.5 357.0 146.5 357.2 147.4 357.5 147.5 357.5 148.5 358.0 149.5 358.5 149.5 358.5 150.5 359.2 150.9 359.5 151.5 359.9 152.1 360.5 152.5 360.9 153.1 361.5 153.5 362.0 153.9 362.5 154.5 363.5 154.5 363.5 155.0 364.5 155.3 365.5 155.4 366.5 155.4 367.5 155.2 368.5 154.9 369.5 154.5 370.4 154.5 370.5 153.8 371.5 153.5 371.9 152.8 372.5 152.5 372.8 151.5 373.4 151.2 373.5 150.5 373.8 149.5 374.1 148.5 374.3 147.5 374.4 146.5 374.5 146.4 374.5 145.5 374.6 144.5 374.8 143.5 375.0 142.5 375.2 141.5 375.4 140.7 375.5 140.5 375.5 M96.5 366.2 95.5 366.5 94.5 366.3 93.5 365.5 93.5 365.2 93.4 364.5 93.5 364.4 94.4 363.5 94.5 363.4 95.5 363.3 96.3 363.5 96.5 363.6 97.4 364.5 97.3 365.5 96.5 366.2" stroke="#2a84e0" stroke-width="1.05" stroke-opacity="0.88" fill="none"/>
<path d="M127.5 327.7 126.5 327.9 125.5 327.9 124.5 327.9 123.5 327.8 122.5 327.6 122.2 327.5 121.5 327.3 120.5 327.1 119.5 326.7 118.9 326.5 118.5 326.3 117.5 325.9 116.9 325.5 116.5 325.2 115.7 324.5 115.5 324.3 115.0 323.5 114.7 322.5 114.6 321.5 114.9 320.5 115.4 319.5 115.5 319.4 116.2 318.5 116.5 318.2 117.3 317.5 117.5 317.4 118.5 316.8 119.0 316.5 119.5 316.2 120.5 315.8 121.2 315.5 121.5 315.4 122.5 315.1 123.5 314.9 124.5 314.7 125.5 314.6 126.5 314.6 127.5 314.7 128.5 314.9 129.5 315.1 130.3 315.5 130.5 315.6 131.4 316.5 131.5 316.6 131.9 317.5 132.0 318.5 132.1 319.5 132.1 320.5 132.2 321.5 132.1 322.5 132.0 323.5 131.7 324.5 131.5 324.9 131.1 325.5 130.5 326.2 130.2 326.5 129.5 327.0 128.5 327.4 128.2 327.5 127.5 327.7 M142.5 373.6 141.5 373.8 140.5 374.0 139.5 374.2 138.5 374.3 137.5 374.4 136.5 374.4 135.5 374.4 134.5 374.3 133.5 374.2 132.5 374.1 131.5 374.0 130.5 373.8 129.5 373.7 128.8 373.5 128.5 373.4 127.5 373.2 126.5 372.9 125.5 372.6 125.3 372.5 124.5 372.2 123.5 371.6 123.2 371.5 122.5 371.0 121.8 370.5 121.5 370.1 120.9 369.5 120.5 368.7 120.4 368.5 120.3 367.5 120.5 366.8 120.6 366.5 121.2 365.5 121.5 365.3 122.3 364.5 122.5 364.3 123.5 363.6 123.7 363.5 124.5 363.1 125.5 362.6 125.8 362.5 126.5 362.2 127.5 361.9 128.5 361.7 129.3 361.5 129.5 361.5 130.5 361.2 131.5 361.0 132.5 360.8 133.5 360.6 133.8 360.5 134.5 360.3 135.5 360.1 136.5 359.9 137.5 359.7 138.5 359.6 139.4 359.5 139.5 359.5 140.5 359.4 141.5 359.4 142.5 359.4 143.5 359.4 144.0 359.5 144.5 359.6 145.5 359.7 146.5 360.0 147.5 360.3 147.9 360.5 148.5 360.8 149.5 361.4 149.7 361.5 150.5 362.1 150.9 362.5 151.5 363.1 151.9 363.5 152.5 364.5 152.5 364.5 153.0 365.5 153.2 366.5 153.2 367.5 153.1 368.5 152.7 369.5 152.5 369.8 152.0 370.5 151.5 371.0 150.9 371.5 150.5 371.8 149.5 372.2 148.6 372.5 148.5 372.5 147.5 372.8 146.5 372.9 145.5 373.1 144.5 373.3 143.5 373.4 143.2 373.5 142.5 373.6" stroke="#2a84e0" stroke-width="1.05" stroke-opacity="0.88" fill="none"/>
<path d="M126.5 325.7 125.5 325.9 124.5 325.9 123.5 325.8 122.5 325.6 122.1 325.5 121.5 325.3 120.5 324.9 119.6 324.5 119.5 324.4 118.5 323.7 118.3 323.5 117.6 322.5 117.5 321.9 117.4 321.5 117.5 321.1 117.6 320.5 118.2 319.5 118.5 319.2 119.2 318.5 119.5 318.3 120.5 317.6 120.8 317.5 121.5 317.2 122.5 316.9 123.5 316.6 124.5 316.5 125.5 316.5 126.5 316.7 127.5 317.0 128.3 317.5 128.5 317.7 129.1 318.5 129.5 319.3 129.6 319.5 129.8 320.5 129.9 321.5 129.8 322.5 129.5 323.4 129.5 323.5 128.8 324.5 128.5 324.8 127.5 325.4 127.2 325.5 126.5 325.7 M138.5 372.6 137.5 372.6 136.5 372.6 135.5 372.6 134.5 372.6 133.5 372.5 133.4 372.5 132.5 372.4 131.5 372.3 130.5 372.2 129.5 372.0 128.5 371.8 127.5 371.5 127.5 371.5 126.5 371.1 125.5 370.6 125.3 370.5 124.5 369.8 124.1 369.5 123.5 368.5 123.5 368.4 123.4 367.5 123.5 367.0 123.6 366.5 124.4 365.5 124.5 365.4 125.5 364.7 125.8 364.5 126.5 364.1 127.5 363.7 128.3 363.5 128.5 363.4 129.5 363.2 130.5 363.0 131.5 362.8 132.5 362.6 132.8 362.5 133.5 362.4 134.5 362.2 135.5 362.0 136.5 361.9 137.5 361.8 138.5 361.7 139.5 361.7 140.5 361.7 141.5 361.8 142.5 362.0 143.5 362.1 144.5 362.4 145.0 362.5 145.5 362.6 146.5 363.0 147.5 363.5 147.5 363.5 148.5 364.1 148.9 364.5 149.5 365.1 149.8 365.5 150.2 366.5 150.3 367.5 150.1 368.5 149.5 369.4 149.4 369.5 148.5 370.2 147.9 370.5 147.5 370.7 146.5 371.0 145.5 371.3 144.7 371.5 144.5 371.5 143.5 371.8 142.5 372.0 141.5 372.2 140.5 372.3 139.5 372.5 139.1 372.5 138.5 372.6" stroke="#2a84e0" stroke-width="1.05" stroke-opacity="0.88" fill="none"/>
<path d="M125.5 322.8 124.5 323.0 123.5 323.0 122.5 322.6 122.3 322.5 121.5 321.5 121.5 321.5 121.5 321.4 121.6 320.5 122.5 319.7 123.0 319.5 123.5 319.3 124.5 319.3 125.3 319.5 125.5 319.6 126.3 320.5 126.5 321.4 126.5 321.5 126.5 321.5 125.9 322.5 125.5 322.8 M142.5 369.6 141.5 369.9 140.5 370.1 139.5 370.2 138.5 370.3 137.5 370.3 136.5 370.3 135.5 370.3 134.5 370.2 133.5 370.1 132.5 370.1 131.5 369.9 130.5 369.8 129.5 369.6 129.3 369.5 128.5 369.1 127.7 368.5 127.5 368.1 127.3 367.5 127.5 367.2 127.9 366.5 128.5 366.1 129.5 365.7 130.0 365.5 130.5 365.4 131.5 365.1 132.5 364.9 133.5 364.7 134.5 364.5 134.8 364.5 135.5 364.4 136.5 364.3 137.5 364.2 138.5 364.2 139.5 364.3 140.5 364.5 140.6 364.5 141.5 364.7 142.5 365.1 143.4 365.5 143.5 365.6 144.5 366.3 144.7 366.5 145.1 367.5 144.6 368.5 144.5 368.6 143.5 369.2 142.8 369.5 142.5 369.6" stroke="#2a84e0" stroke-width="1.05" stroke-opacity="0.88" fill="none"/>
<path d="M232.5 379.4 233.5 379.0 234.5 378.8 235.5 378.6 236.5 378.5 236.9 378.5 237.5 378.5 238.5 378.4 239.5 378.4 240.5 378.5 241.5 378.5 242.5 378.5 243.5 378.5 244.5 378.4 245.5 378.1 246.5 377.8 247.2 377.5 247.5 377.4 248.5 376.9 249.1 376.5 249.5 376.3 250.5 375.8 251.0 375.5 251.5 375.3 252.5 374.8 253.3 374.5 253.5 374.4 254.5 374.1 255.5 373.8 256.5 373.5 256.5 373.5 257.5 373.3 258.5 373.0 259.5 372.9 260.5 372.7 261.4 372.5 261.5 372.5 262.5 372.2 263.5 371.9 264.5 371.5 264.5 371.5 265.5 370.8 265.9 370.5 266.5 369.7 266.6 369.5 267.1 368.5 267.3 367.5 267.5 366.5 267.5 366.5 267.6 365.5 267.7 364.5 267.9 363.5 268.0 362.5 268.2 361.5 268.4 360.5 268.5 360.1 268.6 359.5 268.8 358.5 269.1 357.5 269.3 356.5 269.5 355.8 269.6 355.5 269.9 354.5 270.3 353.5 270.5 353.1 270.8 352.5 271.4 351.5 271.5 351.4 272.2 350.5 272.5 350.2 273.1 349.5 273.5 349.1 274.1 348.5 274.5 348.1 275.2 347.5 275.5 347.2 276.3 346.5 276.5 346.4 277.5 345.7 277.9 345.5 278.5 345.2 279.5 344.9 280.5 344.7 281.5 344.7 282.5 344.7 283.5 344.8 284.5 344.9 285.5 344.9 286.5 344.8 287.5 344.6 287.7 344.5 288.5 344.0 289.0 343.5 289.5 342.5 289.5 342.5 289.6 341.5 289.7 340.5 289.7 339.5 289.8 338.5 289.9 337.5 290.3 336.5 290.5 336.1 290.8 335.5 291.5 334.5 291.5 334.5 292.3 333.5 292.5 333.2 293.1 332.5 293.5 332.0 293.9 331.5 294.5 330.7 294.6 330.5 295.2 329.5 295.5 329.0 295.7 328.5 296.1 327.5 296.4 326.5 296.5 326.0 296.6 325.5 296.7 324.5 296.9 323.5 297.1 322.5 297.5 321.5 297.5 321.5 298.0 320.5 298.5 319.8 298.7 319.5 299.5 318.6 299.6 318.5 300.5 317.6 300.6 317.5 301.5 316.7 301.8 316.5 302.5 315.8 302.9 315.5 303.5 314.9 303.9 314.5 304.5 313.8 304.8 313.5 305.5 312.6 305.6 312.5 306.4 311.5 306.5 311.4 307.2 310.5 307.5 310.2 308.3 309.5 308.5 309.4 309.5 308.7 309.8 308.5 310.5 308.1 311.5 307.7 312.0 307.5 312.5 307.3 313.5 307.0 314.5 306.7 315.5 306.6 316.0 306.5 316.5 306.4 317.5 306.4 318.5 306.4 319.5 306.5 319.6 306.5 320.5 306.6 321.5 306.8 322.5 307.0 323.5 307.2 324.5 307.5 324.8 307.5 325.5 307.6 326.5 307.8 327.5 307.9 328.5 307.9 329.5 307.9 330.5 307.8 331.5 307.7 332.5 307.6 333.3 307.5 333.5 307.5 334.5 307.4 335.5 307.3 336.5 307.3 337.5 307.3 338.5 307.3 339.5 307.2 340.5 307.1 341.5 307.0 342.5 306.8 343.5 306.7 344.5 306.6 345.5 306.5 346.5 306.6 347.5 306.8 348.5 307.1 349.4 307.5 349.5 307.6 350.5 308.2 350.8 308.5 351.5 309.1 351.8 309.5 352.5 310.3 352.7 310.5 353.4 311.5 353.5 311.7 354.1 312.5 354.5 313.2 354.7 313.5 355.3 314.5 355.5 314.8 356.0 315.5 356.5 316.4 356.6 316.5 357.1 317.5 357.5 318.3 357.6 318.5 358.0 319.5 358.2 320.5 358.4 321.5 358.4 322.5 358.4 323.5 358.4 324.5 358.4 325.5 358.4 326.5 358.5 327.0 358.6 327.5 358.8 328.5 359.0 329.5 359.3 330.5 359.5 331.2 359.6 331.5 359.9 332.5 360.3 333.5 360.5 334.3 360.6 334.5 360.9 335.5 361.2 336.5 361.4 337.5 361.5 337.7 361.7 338.5 362.0 339.5 362.2 340.5 362.4 341.5 362.5 342.0 362.6 342.5 362.8 343.5 362.9 344.5 363.0 345.5 363.0 346.5 362.9 347.5 362.8 348.5 362.7 349.5 362.6 350.5 362.5 350.9 362.4 351.5 362.2 352.5 362.0 353.5 361.7 354.5 361.5 355.0 361.3 355.5 360.7 356.5 360.5 356.7 359.8 357.5 359.5 357.7 358.5 358.4 358.4 358.5 357.5 359.0 356.5 359.4 356.3 359.5 355.5 359.8 354.5 360.2 353.7 360.5 353.5 360.6 352.5 361.0 351.5 361.4 351.2 361.5 350.5 361.8 349.5 362.3 349.1 362.5 348.5 362.9 347.6 363.5 347.5 363.6 346.8 364.5 346.5 365.2 346.4 365.5 346.4 366.5 346.5 366.9 346.7 367.5 347.5 368.5 347.5 368.5 348.5 369.2 349.1 369.5 349.5 369.6 350.5 369.8 351.5 369.8 352.5 369.8 353.5 369.6 354.2 369.5 354.5 369.4 355.5 369.2 356.5 369.1 357.5 369.1 358.5 369.3 359.4 369.5 359.5 369.5 360.5 369.9 361.5 370.3 361.9 370.5 362.5 370.7 363.5 371.2 364.1 371.5 364.5 371.7 365.5 372.1 366.2 372.5 366.5 372.6 367.5 373.0 368.5 373.5 368.5 373.5 369.5 373.9 370.5 374.3 370.9 374.5 371.5 374.7 372.5 375.1 373.5 375.5 373.5 375.5 374.5 375.8 375.5 376.2 M279.5 335.6 278.5 335.6 278.2 335.5 277.5 335.3 276.5 334.6 276.4 334.5 275.5 333.5 275.5 333.5 274.9 332.5 274.5 331.7 274.4 331.5 274.1 330.5 273.9 329.5 273.8 328.5 273.9 327.5 274.2 326.5 274.5 325.8 274.7 325.5 275.4 324.5 275.5 324.4 276.5 323.5 276.6 323.5 277.5 323.0 278.5 322.7 279.5 322.6 280.5 322.8 281.5 323.1 282.1 323.5 282.5 323.9 283.0 324.5 283.4 325.5 283.5 326.5 283.5 327.1 283.5 327.5 283.5 327.6 283.5 328.5 283.4 329.5 283.3 330.5 283.1 331.5 282.9 332.5 282.5 333.3 282.4 333.5 281.6 334.5 281.5 334.6 280.5 335.3 279.9 335.5 279.5 335.6 M297.6 353.5 298.5 352.9 298.9 352.5 299.5 351.6 299.6 351.5 299.7 350.5 299.6 349.5 299.5 349.3 298.9 348.5 298.5 348.1 297.5 347.7 296.5 347.8 295.5 348.4 295.5 348.5 294.9 349.5 294.6 350.5 294.5 351.3 294.5 351.5 294.5 352.3 294.5 352.5 295.1 353.5 295.5 353.7 296.5 353.8 297.5 353.6 297.6 353.5" stroke="#2a84e0" stroke-width="1.05" stroke-opacity="0.88" fill="none"/>
<path d="M247.7 388.5 247.5 388.3 246.5 387.7 246.1 387.5 245.5 387.1 244.5 386.7 243.7 386.5 243.5 386.4 242.5 386.4 241.7 386.5 241.5 386.5 240.5 386.7 239.5 386.8 238.5 386.8 237.5 386.8 236.5 386.6 236.2 386.5 235.5 386.2 234.5 385.5 234.5 385.4 234.0 384.5 234.0 383.5 234.5 382.8 234.7 382.5 235.5 382.1 236.5 381.7 237.5 381.6 238.4 381.5 238.5 381.5 238.6 381.5 239.5 381.6 240.5 381.7 241.5 381.9 242.5 382.0 243.5 382.1 244.5 382.1 245.5 381.8 246.1 381.5 246.5 381.3 247.5 380.7 247.7 380.5 248.5 380.0 249.1 379.5 249.5 379.2 250.4 378.5 250.5 378.4 251.5 377.7 251.9 377.5 252.5 377.1 253.5 376.6 253.8 376.5 254.5 376.2 255.5 375.9 256.5 375.6 256.9 375.5 257.5 375.4 258.5 375.2 259.5 375.0 260.5 374.8 261.5 374.7 262.5 374.5 262.6 374.5 263.5 374.3 264.5 374.1 265.5 373.8 266.2 373.5 266.5 373.4 267.5 372.8 268.1 372.5 268.5 372.1 269.2 371.5 269.5 371.1 270.0 370.5 270.4 369.5 270.5 369.3 270.7 368.5 270.8 367.5 270.9 366.5 270.9 365.5 270.9 364.5 271.0 363.5 271.2 362.5 271.4 361.5 271.5 361.1 271.7 360.5 272.1 359.5 272.5 358.6 272.6 358.5 273.2 357.5 273.5 357.0 273.9 356.5 274.5 355.8 274.8 355.5 275.5 354.7 275.7 354.5 276.5 353.6 276.6 353.5 277.5 352.6 277.6 352.5 278.5 351.8 278.9 351.5 279.5 351.2 280.5 350.8 281.5 350.7 282.5 350.8 283.5 351.3 283.8 351.5 284.5 352.5 284.5 352.5 284.7 353.5 284.7 354.5 284.6 355.5 284.5 355.8 284.4 356.5 284.2 357.5 284.1 358.5 284.1 359.5 284.2 360.5 284.4 361.5 284.5 361.7 284.9 362.5 285.5 363.3 285.8 363.5 286.5 363.8 287.5 363.9 288.5 363.8 289.3 363.5 289.5 363.4 290.5 363.0 291.4 362.5 291.5 362.4 292.5 361.9 293.2 361.5 293.5 361.3 294.5 360.8 294.9 360.5 295.5 360.2 296.5 359.6 296.6 359.5 297.5 358.9 298.1 358.5 298.5 358.3 299.5 357.6 299.6 357.5 300.5 356.9 301.0 356.5 301.5 356.1 302.2 355.5 302.5 355.2 303.2 354.5 303.5 354.1 303.8 353.5 304.2 352.5 304.3 351.5 304.3 350.5 304.2 349.5 304.0 348.5 303.7 347.5 303.5 346.9 303.4 346.5 302.9 345.5 302.5 344.5 302.5 344.5 301.8 343.5 301.5 343.1 300.9 342.5 300.5 342.1 299.7 341.5 299.5 341.3 298.5 340.6 298.4 340.5 297.5 339.7 297.3 339.5 296.6 338.5 296.5 338.2 296.2 337.5 296.2 336.5 296.3 335.5 296.5 334.7 296.5 334.5 296.9 333.5 297.4 332.5 297.5 332.3 297.9 331.5 298.3 330.5 298.5 330.0 298.7 329.5 299.0 328.5 299.2 327.5 299.4 326.5 299.5 325.8 299.5 325.5 299.7 324.5 299.9 323.5 300.1 322.5 300.5 321.6 300.5 321.5 301.1 320.5 301.5 319.9 301.8 319.5 302.5 318.8 302.8 318.5 303.5 317.8 303.9 317.5 304.5 317.0 305.1 316.5 305.5 316.1 306.2 315.5 306.5 315.2 307.2 314.5 307.5 314.2 308.1 313.5 308.5 313.0 309.0 312.5 309.5 312.0 310.0 311.5 310.5 311.1 311.3 310.5 311.5 310.3 312.5 309.8 313.1 309.5 313.5 309.3 314.5 309.0 315.5 308.8 316.5 308.6 317.5 308.6 318.5 308.6 319.5 308.8 320.5 309.0 321.5 309.3 322.1 309.5 322.5 309.6 323.5 310.1 324.5 310.5 324.5 310.5 325.5 311.0 326.5 311.5 326.6 311.5 327.5 311.9 328.5 312.3 329.4 312.5 329.5 312.5 330.5 312.7 331.5 312.7 332.5 312.7 333.5 312.6 334.5 312.5 335.3 312.5 335.5 312.5 336.5 312.4 337.5 312.4 338.5 312.3 339.5 312.2 340.5 312.0 341.5 311.7 342.2 311.5 342.5 311.4 343.5 311.1 344.5 310.8 345.5 310.6 346.5 310.6 347.5 310.7 348.5 311.0 349.5 311.5 349.5 311.5 350.5 312.3 350.7 312.5 351.5 313.2 351.7 313.5 352.5 314.4 352.5 314.5 353.3 315.5 353.5 315.8 354.0 316.5 354.5 317.3 354.6 317.5 355.2 318.5 355.5 319.2 355.7 319.5 356.0 320.5 356.3 321.5 356.5 322.5 356.5 322.8 356.6 323.5 356.7 324.5 356.8 325.5 356.9 326.5 357.1 327.5 357.3 328.5 357.5 329.3 357.6 329.5 357.9 330.5 358.2 331.5 358.5 332.4 358.5 332.5 358.9 333.5 359.2 334.5 359.4 335.5 359.5 335.9 359.7 336.5 359.9 337.5 360.1 338.5 360.2 339.5 360.4 340.5 360.5 341.5 360.5 342.0 360.5 342.5 360.6 343.5 360.5 344.5 360.5 344.9 360.4 345.5 360.3 346.5 360.1 347.5 359.8 348.5 359.5 349.5 359.5 349.5 359.1 350.5 358.7 351.5 358.5 351.8 358.1 352.5 357.5 353.4 357.4 353.5 356.6 354.5 356.5 354.6 355.6 355.5 355.5 355.6 354.5 356.4 354.4 356.5 353.5 357.2 353.1 357.5 352.5 357.9 351.6 358.5 351.5 358.6 350.5 359.1 349.8 359.5 349.5 359.7 348.5 360.2 347.7 360.5 347.5 360.6 346.5 361.1 345.7 361.5 345.5 361.6 344.5 362.2 343.9 362.5 343.5 362.8 342.7 363.5 342.5 363.8 341.9 364.5 341.7 365.5 341.8 366.5 342.1 367.5 342.5 368.3 342.6 368.5 343.3 369.5 343.5 369.7 344.3 370.5 344.5 370.7 345.5 371.4 345.7 371.5 346.5 371.8 347.5 372.2 348.5 372.5 348.6 372.5 349.5 372.7 350.5 372.8 351.5 372.8 352.5 372.8 353.5 372.8 354.5 372.8 355.5 372.7 356.5 372.7 357.5 372.7 358.5 372.7 359.5 372.9 360.5 373.1 361.5 373.3 362.1 373.5 362.5 373.6 363.5 373.9 364.5 374.3 365.1 374.5 365.5 374.6 366.5 375.0 367.5 375.4 367.8 375.5 368.5 375.8 369.5 376.2 370.3 376.5 370.5 376.6 371.5 377.0 372.5 377.5 372.6 377.5 373.5 377.9 374.5 378.3 374.9 378.5 375.5 378.8" stroke="#2a84e0" stroke-width="1.05" stroke-opacity="0.88" fill="none"/>
<path d="M262.2 388.5 261.5 388.1 260.5 387.7 259.5 387.6 258.5 387.6 257.5 387.6 256.5 387.7 255.5 387.8 254.5 387.7 253.5 387.5 253.5 387.5 252.5 387.1 251.7 386.5 251.5 386.2 251.0 385.5 250.8 384.5 250.9 383.5 251.3 382.5 251.5 382.1 251.9 381.5 252.5 380.7 252.7 380.5 253.5 379.7 253.8 379.5 254.5 379.0 255.4 378.5 255.5 378.5 256.5 378.0 257.5 377.7 258.3 377.5 258.5 377.4 259.5 377.2 260.5 377.0 261.5 376.8 262.5 376.6 263.2 376.5 263.5 376.4 264.5 376.2 265.5 375.9 266.5 375.7 267.0 375.5 267.5 375.3 268.5 375.0 269.5 374.6 269.7 374.5 270.5 374.1 271.5 373.6 271.8 373.5 272.5 373.1 273.5 372.6 273.9 372.5 274.5 372.2 275.5 371.8 276.5 371.5 276.7 371.5 277.5 371.4 278.5 371.3 279.5 371.3 280.5 371.3 281.5 371.3 282.5 371.2 283.5 371.2 284.5 371.1 285.5 370.9 286.5 370.8 287.5 370.6 287.9 370.5 288.5 370.3 289.5 370.1 290.5 369.8 291.5 369.5 291.5 369.5 292.5 369.1 293.5 368.7 293.9 368.5 294.5 368.2 295.4 367.5 295.5 367.4 296.5 366.5 296.5 366.5 297.3 365.5 297.5 365.2 298.1 364.5 298.5 364.0 298.9 363.5 299.5 362.8 299.8 362.5 300.5 361.8 300.9 361.5 301.5 361.0 302.3 360.5 302.5 360.3 303.5 359.8 304.4 359.5 304.5 359.4 305.5 359.3 306.5 359.3 306.9 359.5 307.5 359.9 307.9 360.5 308.2 361.5 308.4 362.5 308.5 362.9 308.6 363.5 308.8 364.5 309.0 365.5 309.4 366.5 309.5 366.6 310.1 367.5 310.5 368.0 311.0 368.5 311.5 368.9 312.4 369.5 312.5 369.5 313.5 369.9 314.5 370.3 315.5 370.5 315.5 370.5 316.5 370.6 317.5 370.5 317.5 370.5 318.5 370.2 319.5 369.8 320.0 369.5 320.5 368.9 320.8 368.5 321.1 367.5 321.1 366.5 321.0 365.5 320.7 364.5 320.5 363.8 320.4 363.5 320.0 362.5 319.5 361.6 319.4 361.5 318.7 360.5 318.5 360.3 317.6 359.5 317.5 359.4 316.5 358.8 316.0 358.5 315.5 358.2 314.5 357.8 313.7 357.5 313.5 357.4 312.5 357.1 311.5 356.7 311.1 356.5 310.5 356.1 310.0 355.5 309.5 354.6 309.5 354.5 309.1 353.5 308.8 352.5 308.5 351.5 308.5 351.4 308.3 350.5 308.0 349.5 307.8 348.5 307.5 347.5 307.5 347.4 307.3 346.5 307.1 345.5 306.9 344.5 306.8 343.5 306.6 342.5 306.5 341.7 306.5 341.5 306.3 340.5 306.0 339.5 305.6 338.5 305.5 338.3 305.0 337.5 304.5 337.0 304.1 336.5 303.5 335.9 303.2 335.5 302.5 334.5 302.5 334.5 302.1 333.5 301.9 332.5 301.9 331.5 301.8 330.5 301.9 329.5 301.9 328.5 301.9 327.5 302.0 326.5 302.1 325.5 302.3 324.5 302.5 323.6 302.5 323.5 302.9 322.5 303.4 321.5 303.5 321.3 304.1 320.5 304.5 320.1 305.1 319.5 305.5 319.1 306.3 318.5 306.5 318.3 307.5 317.6 307.6 317.5 308.5 316.8 308.8 316.5 309.5 315.9 309.9 315.5 310.5 314.9 310.9 314.5 311.5 313.9 311.9 313.5 312.5 313.0 313.1 312.5 313.5 312.3 314.5 311.8 315.2 311.5 315.5 311.4 316.5 311.2 317.5 311.2 318.5 311.3 319.5 311.5 319.5 311.5 320.5 311.9 321.5 312.4 321.6 312.5 322.5 313.1 323.0 313.5 323.5 314.0 324.0 314.5 324.5 315.0 325.0 315.5 325.5 316.0 326.1 316.5 326.5 316.9 327.5 317.5 327.6 317.5 328.5 317.8 329.5 317.8 330.5 317.7 331.3 317.5 331.5 317.5 332.5 317.2 333.5 316.9 334.5 316.6 335.0 316.5 335.5 316.4 336.5 316.2 337.5 316.1 338.5 315.9 339.5 315.8 340.5 315.6 341.1 315.5 341.5 315.4 342.5 315.1 343.5 314.8 344.5 314.5 344.5 314.5 345.5 314.3 346.5 314.2 347.5 314.4 347.9 314.5 348.5 314.7 349.5 315.2 349.9 315.5 350.5 316.0 351.0 316.5 351.5 317.0 352.0 317.5 352.5 318.2 352.7 318.5 353.3 319.5 353.5 319.8 353.9 320.5 354.3 321.5 354.5 322.3 354.6 322.5 354.8 323.5 355.0 324.5 355.2 325.5 355.4 326.5 355.5 327.1 355.6 327.5 355.9 328.5 356.1 329.5 356.4 330.5 356.5 330.7 356.8 331.5 357.1 332.5 357.4 333.5 357.5 333.9 357.7 334.5 357.9 335.5 358.1 336.5 358.3 337.5 358.4 338.5 358.5 339.5 358.5 340.5 358.5 341.5 358.4 342.5 358.3 343.5 358.1 344.5 357.9 345.5 357.5 346.5 357.5 346.6 357.2 347.5 356.7 348.5 356.5 348.9 356.2 349.5 355.6 350.5 355.5 350.7 355.0 351.5 354.5 352.2 354.3 352.5 353.5 353.5 353.5 353.5 352.6 354.5 352.5 354.6 351.6 355.5 351.5 355.6 350.5 356.5 350.5 356.5 349.5 357.2 348.9 357.5 348.5 357.7 347.5 358.2 346.8 358.5 346.5 358.6 345.5 359.0 344.5 359.3 343.5 359.5 343.5 359.5 342.5 359.7 341.5 359.8 340.5 359.8 339.5 359.7 338.7 359.5 338.5 359.5 337.5 359.1 336.5 358.5 336.5 358.5 335.5 357.8 335.1 357.5 334.5 357.0 333.9 356.5 333.5 356.2 332.7 355.5 332.5 355.4 331.5 354.6 331.3 354.5 330.5 353.9 329.9 353.5 329.5 353.2 328.5 352.5 328.5 352.5 327.5 351.6 327.4 351.5 327.0 350.5 327.0 349.5 327.1 348.5 327.3 347.5 327.5 346.5 327.5 346.4 327.6 345.5 327.8 344.5 327.8 343.5 327.8 342.5 327.5 341.5 327.5 341.5 326.5 340.6 325.5 340.5 324.5 340.8 323.5 341.3 323.2 341.5 322.5 342.1 322.2 342.5 321.6 343.5 321.5 343.9 321.3 344.5 321.3 345.5 321.5 346.3 321.6 346.5 322.0 347.5 322.5 348.4 322.6 348.5 323.4 349.5 323.5 349.7 324.2 350.5 324.5 350.9 325.0 351.5 325.3 352.5 325.3 353.5 325.3 354.5 325.2 355.5 325.1 356.5 325.1 357.5 325.1 358.5 325.4 359.5 325.5 359.8 325.8 360.5 326.5 361.5 326.5 361.6 327.3 362.5 327.5 362.7 328.3 363.5 328.5 363.7 329.4 364.5 329.5 364.6 330.4 365.5 330.5 365.6 331.4 366.5 331.5 366.6 332.4 367.5 332.5 367.6 333.5 368.4 333.7 368.5 334.5 369.0 335.4 369.5 335.5 369.5 336.5 370.0 337.3 370.5 337.5 370.6 338.5 371.1 339.1 371.5 339.5 371.7 340.5 372.3 340.8 372.5 341.5 372.8 342.5 373.3 342.8 373.5 343.5 373.8 344.5 374.1 345.5 374.4 345.9 374.5 346.5 374.6 347.5 374.8 348.5 375.0 349.5 375.2 350.5 375.3 351.5 375.5 351.7 375.5 352.5 375.6 353.5 375.7 354.5 375.8 355.5 375.8 356.5 375.8 357.5 375.9 358.5 375.9 359.5 376.0 360.5 376.1 361.5 376.2 362.5 376.4 363.0 376.5 363.5 376.6 364.5 376.8 365.5 377.1 366.5 377.5 366.6 377.5 367.5 377.8 368.5 378.2 369.1 378.5 369.5 378.7 370.5 379.2 371.0 379.5 371.5 379.8 372.5 380.4 372.6 380.5 373.5 381.1 374.0 381.5 374.5 382.0 375.0 382.5 375.5 383.2 M375.5 386.6 374.6 387.5 374.5 387.6 373.5 388.2 372.8 388.5 M350.9 388.5 350.5 388.2 349.5 387.7 348.5 387.8 347.5 388.3 347.3 388.5" stroke="#2a84e0" stroke-width="1.05" stroke-opacity="0.88" fill="none"/>
<path d="M344.5 356.7 343.5 356.8 342.5 356.9 341.5 356.8 340.5 356.6 340.3 356.5 339.5 356.2 338.5 355.8 338.1 355.5 337.5 355.1 336.7 354.5 336.5 354.4 335.6 353.5 335.5 353.5 334.5 352.5 334.5 352.4 333.7 351.5 333.5 351.3 332.9 350.5 332.5 349.9 332.3 349.5 331.9 348.5 331.6 347.5 331.5 346.8 331.5 346.5 331.4 345.5 331.4 344.5 331.5 343.9 331.5 343.5 331.6 342.5 331.6 341.5 331.6 340.5 331.5 339.5 331.5 339.4 331.2 338.5 330.8 337.5 330.5 336.9 330.2 336.5 329.5 335.7 329.2 335.5 328.5 335.0 327.5 334.8 326.5 335.0 325.5 335.4 325.3 335.5 324.5 335.9 323.5 336.5 323.4 336.5 322.5 337.1 321.8 337.5 321.5 337.7 320.5 338.4 320.4 338.5 319.5 339.1 319.0 339.5 318.5 339.9 317.8 340.5 317.5 340.8 316.7 341.5 316.5 341.7 315.6 342.5 315.5 342.7 314.5 343.3 313.5 342.7 313.4 342.5 312.9 341.5 312.5 340.7 312.4 340.5 312.1 339.5 311.7 338.5 311.5 338.2 311.2 337.5 310.6 336.5 310.5 336.4 309.8 335.5 309.5 335.2 308.8 334.5 308.5 334.3 307.7 333.5 307.5 333.3 306.7 332.5 306.5 332.3 305.9 331.5 305.5 330.9 305.3 330.5 304.9 329.5 304.7 328.5 304.6 327.5 304.6 326.5 304.7 325.5 304.8 324.5 305.2 323.5 305.5 322.9 305.7 322.5 306.5 321.5 306.5 321.5 307.5 320.5 307.5 320.5 308.5 319.8 308.9 319.5 309.5 319.1 310.5 318.5 310.5 318.5 311.5 317.8 312.0 317.5 312.5 317.1 313.4 316.5 313.5 316.4 314.5 315.7 315.0 315.5 315.5 315.3 316.5 315.0 317.5 315.0 318.5 315.3 318.8 315.5 319.5 316.0 320.0 316.5 320.5 317.2 320.7 317.5 321.3 318.5 321.5 318.9 321.8 319.5 322.3 320.5 322.5 320.8 323.0 321.5 323.5 322.2 323.7 322.5 324.5 323.4 324.6 323.5 325.5 324.3 325.7 324.5 326.5 325.1 327.4 325.5 327.5 325.6 328.5 325.6 328.7 325.5 329.5 325.1 330.1 324.5 330.5 324.1 330.9 323.5 331.5 322.9 331.8 322.5 332.5 321.8 332.8 321.5 333.5 320.9 334.1 320.5 334.5 320.3 335.5 319.8 336.3 319.5 336.5 319.4 337.5 319.2 338.5 319.0 339.5 318.8 340.5 318.7 341.5 318.5 341.6 318.5 342.5 318.3 343.5 318.0 344.5 317.7 345.5 317.5 346.0 317.5 346.5 317.5 346.7 317.5 347.5 317.6 348.5 317.9 349.5 318.5 349.5 318.5 350.5 319.3 350.6 319.5 351.5 320.5 351.5 320.5 352.1 321.5 352.5 322.3 352.6 322.5 353.0 323.5 353.3 324.5 353.5 325.4 353.5 325.5 353.8 326.5 354.1 327.5 354.3 328.5 354.5 329.1 354.6 329.5 354.9 330.5 355.2 331.5 355.5 332.4 355.5 332.5 355.8 333.5 356.1 334.5 356.3 335.5 356.4 336.5 356.5 337.2 356.5 337.5 356.6 338.5 356.6 339.5 356.5 340.2 356.5 340.5 356.3 341.5 356.1 342.5 355.9 343.5 355.5 344.5 355.5 344.5 355.1 345.5 354.7 346.5 354.5 346.9 354.2 347.5 353.7 348.5 353.5 348.8 353.1 349.5 352.5 350.5 352.5 350.5 351.9 351.5 351.5 352.0 351.2 352.5 350.5 353.3 350.3 353.5 349.5 354.3 349.3 354.5 348.5 355.1 347.8 355.5 347.5 355.7 346.5 356.1 345.5 356.5 345.4 356.5 344.5 356.7 M265.4 388.5 264.5 387.5 264.5 387.5 263.6 386.5 263.5 386.4 262.5 385.5 262.4 385.5 261.5 384.8 260.9 384.5 260.5 384.2 259.5 383.7 259.0 383.5 258.5 382.9 258.2 382.5 258.5 381.6 258.5 381.5 259.5 380.7 259.7 380.5 260.5 380.1 261.5 379.6 261.8 379.5 262.5 379.2 263.5 378.9 264.5 378.5 264.6 378.5 265.5 378.2 266.5 377.9 267.5 377.6 267.7 377.5 268.5 377.3 269.5 376.9 270.5 376.7 271.1 376.5 271.5 376.4 272.5 376.1 273.5 375.9 274.5 375.8 275.5 375.6 276.5 375.5 276.8 375.5 277.5 375.4 278.5 375.2 279.5 375.0 280.5 374.8 281.5 374.6 282.1 374.5 282.5 374.4 283.5 374.1 284.5 373.9 285.5 373.8 286.5 373.6 287.1 373.5 287.5 373.4 288.5 373.3 289.5 373.1 290.5 373.0 291.5 372.9 292.5 372.8 293.5 372.6 294.3 372.5 294.5 372.5 295.5 372.2 296.5 371.9 297.5 371.6 297.8 371.5 298.5 371.2 299.5 370.7 300.2 370.5 300.5 370.3 301.5 369.9 302.5 369.7 303.5 369.6 304.5 369.6 305.5 369.8 306.5 370.1 307.4 370.5 307.5 370.5 308.5 370.9 309.5 371.3 310.0 371.5 310.5 371.6 311.5 372.0 312.5 372.3 313.3 372.5 313.5 372.5 314.5 372.7 315.5 372.8 316.5 372.9 317.5 372.9 318.5 372.9 319.5 372.8 320.5 372.8 321.5 372.7 322.5 372.5 323.1 372.5 323.5 372.4 324.5 372.4 325.5 372.3 326.5 372.3 327.5 372.4 328.1 372.5 328.5 372.5 329.5 372.7 330.5 372.8 331.5 372.9 332.5 373.1 333.5 373.3 334.5 373.5 334.6 373.5 335.5 373.7 336.5 373.9 337.5 374.3 338.1 374.5 338.5 374.7 339.5 375.0 340.5 375.5 340.6 375.5 341.5 375.8 342.5 376.2 343.5 376.5 343.5 376.5 344.5 376.8 345.5 377.0 346.5 377.2 347.5 377.5 347.7 377.5 348.5 377.7 349.5 378.0 350.5 378.3 351.1 378.5 351.5 378.7 352.5 379.0 353.5 379.2 354.5 379.3 355.5 379.4 356.5 379.4 357.5 379.4 358.5 379.4 359.5 379.4 360.5 379.5 361.2 379.5 361.5 379.5 362.5 379.6 363.5 379.8 364.5 380.1 365.5 380.4 365.8 380.5 366.5 380.9 367.5 381.5 367.5 381.5 368.5 382.5 368.5 382.5 369.0 383.5 368.9 384.5 368.5 385.1 368.2 385.5 367.5 386.1 367.1 386.5 366.5 386.9 365.8 387.5 365.5 387.7 364.5 388.4 364.3 388.5 M353.7 388.5 353.5 388.2 352.9 387.5 352.5 387.0 352.1 386.5 351.5 385.8 351.1 385.5 350.5 385.1 349.5 384.9 348.5 385.2 348.0 385.5 347.5 385.8 346.8 386.5 346.5 386.8 345.9 387.5 345.5 388.0 345.2 388.5" stroke="#2a84e0" stroke-width="1.05" stroke-opacity="0.88" fill="none"/>
<path d="M317.5 333.8 316.5 333.9 315.5 333.8 314.5 333.6 314.3 333.5 313.5 333.2 312.5 332.7 312.1 332.5 311.5 332.2 310.5 331.5 310.4 331.5 309.5 330.8 309.2 330.5 308.5 329.7 308.4 329.5 307.8 328.5 307.5 327.5 307.5 327.2 307.4 326.5 307.5 325.8 307.5 325.5 307.9 324.5 308.4 323.5 308.5 323.4 309.4 322.5 309.5 322.4 310.5 321.7 311.0 321.5 311.5 321.2 312.5 320.9 313.5 320.6 314.5 320.5 315.5 320.6 316.5 321.1 317.1 321.5 317.5 321.9 318.0 322.5 318.5 323.2 318.7 323.5 319.3 324.5 319.5 324.9 319.8 325.5 320.3 326.5 320.5 326.9 320.8 327.5 321.1 328.5 321.2 329.5 321.1 330.5 320.6 331.5 320.5 331.7 319.8 332.5 319.5 332.7 318.5 333.4 318.2 333.5 317.5 333.8 M345.5 353.7 344.5 354.0 343.5 354.1 342.5 354.0 341.5 353.8 340.7 353.5 340.5 353.4 339.5 352.9 338.9 352.5 338.5 352.2 337.7 351.5 337.5 351.3 336.7 350.5 336.5 350.2 335.9 349.5 335.5 348.8 335.3 348.5 334.8 347.5 334.5 346.5 334.5 346.3 334.3 345.5 334.2 344.5 334.2 343.5 334.2 342.5 334.2 341.5 334.2 340.5 334.2 339.5 334.1 338.5 333.9 337.5 333.6 336.5 333.5 336.1 333.3 335.5 333.0 334.5 332.7 333.5 332.5 332.5 332.5 331.7 332.5 331.5 332.5 331.2 332.5 330.5 332.7 329.5 333.0 328.5 333.4 327.5 333.5 327.2 333.8 326.5 334.4 325.5 334.5 325.3 335.0 324.5 335.5 324.0 336.0 323.5 336.5 323.1 337.5 322.5 337.5 322.5 338.5 322.1 339.5 321.8 340.5 321.6 341.1 321.5 341.5 321.4 342.5 321.2 343.5 320.9 344.5 320.7 345.5 320.5 346.5 320.5 347.5 320.7 348.5 321.1 349.1 321.5 349.5 321.8 350.1 322.5 350.5 323.0 350.8 323.5 351.3 324.5 351.5 325.1 351.7 325.5 352.0 326.5 352.3 327.5 352.5 328.1 352.6 328.5 352.9 329.5 353.2 330.5 353.5 331.4 353.5 331.5 353.8 332.5 354.1 333.5 354.3 334.5 354.5 335.5 354.5 335.7 354.6 336.5 354.6 337.5 354.6 338.5 354.5 339.2 354.5 339.5 354.3 340.5 354.0 341.5 353.7 342.5 353.5 343.0 353.3 343.5 352.9 344.5 352.5 345.4 352.4 345.5 352.0 346.5 351.5 347.5 351.5 347.5 351.0 348.5 350.5 349.3 350.4 349.5 349.7 350.5 349.5 350.8 348.9 351.5 348.5 351.9 347.8 352.5 347.5 352.7 346.5 353.3 346.1 353.5 345.5 353.7 M268.3 388.5 267.5 387.7 267.3 387.5 266.6 386.5 266.5 386.3 266.0 385.5 265.6 384.5 265.5 384.2 265.3 383.5 265.3 382.5 265.5 382.2 265.9 381.5 266.5 381.0 267.1 380.5 267.5 380.3 268.5 379.8 269.3 379.5 269.5 379.4 270.5 379.1 271.5 378.9 272.5 378.6 273.4 378.5 273.5 378.5 274.5 378.3 275.5 378.2 276.5 378.0 277.5 377.8 278.5 377.6 278.7 377.5 279.5 377.3 280.5 377.0 281.5 376.7 282.1 376.5 282.5 376.4 283.5 376.1 284.5 375.8 285.5 375.6 286.4 375.5 286.5 375.5 287.5 375.3 288.5 375.2 289.5 375.1 290.5 375.0 291.5 374.9 292.5 374.9 293.5 374.8 294.5 374.7 295.5 374.6 296.0 374.5 296.5 374.4 297.5 374.1 298.5 373.9 299.5 373.6 299.9 373.5 300.5 373.3 301.5 373.1 302.5 372.9 303.5 372.8 304.5 372.7 305.5 372.8 306.5 372.9 307.5 373.1 308.5 373.3 309.4 373.5 309.5 373.5 310.5 373.7 311.5 373.9 312.5 374.1 313.5 374.3 314.5 374.4 315.2 374.5 315.5 374.5 316.5 374.6 317.5 374.6 318.5 374.6 319.5 374.6 320.5 374.6 321.5 374.6 322.5 374.6 323.5 374.6 324.5 374.7 325.5 374.7 326.5 374.8 327.5 374.9 328.5 375.1 329.5 375.2 330.5 375.4 331.4 375.5 331.5 375.5 332.5 375.6 333.5 375.8 334.5 376.0 335.5 376.2 336.5 376.5 336.5 376.5 337.5 376.8 338.5 377.2 339.3 377.5 339.5 377.6 340.5 378.0 341.5 378.4 341.8 378.5 342.5 378.8 343.5 379.2 344.2 379.5 344.5 379.7 345.5 380.3 345.8 380.5 346.5 381.5 346.5 382.5 346.5 382.5 346.5 382.5 346.2 383.5 345.7 384.5 345.5 384.8 345.2 385.5 344.6 386.5 344.5 386.6 344.0 387.5 343.5 388.2 343.3 388.5 M358.5 387.5 358.1 387.5 357.5 387.4 356.5 386.7 356.3 386.5 356.0 385.5 356.4 384.5 356.5 384.4 357.5 383.9 358.5 383.8 359.5 384.0 360.5 384.4 360.6 384.5 361.0 385.5 360.6 386.5 360.5 386.6 359.5 387.3 358.7 387.5 358.5 387.5" stroke="#2a84e0" stroke-width="1.05" stroke-opacity="0.88" fill="none"/>
<path d="M345.5 350.6 344.5 350.9 343.5 351.0 342.5 350.9 341.5 350.6 341.3 350.5 340.5 350.1 339.8 349.5 339.5 349.3 338.7 348.5 338.5 348.2 338.0 347.5 337.5 346.5 337.5 346.5 337.1 345.5 336.9 344.5 336.7 343.5 336.6 342.5 336.6 341.5 336.5 340.5 336.5 339.8 336.5 339.5 336.4 338.5 336.2 337.5 336.0 336.5 335.8 335.5 335.6 334.5 335.5 333.8 335.4 333.5 335.3 332.5 335.4 331.5 335.5 330.5 335.5 330.4 335.7 329.5 336.1 328.5 336.5 327.7 336.6 327.5 337.4 326.5 337.5 326.4 338.5 325.5 338.5 325.5 339.5 324.9 340.5 324.5 340.6 324.5 341.5 324.2 342.5 324.0 343.5 323.8 344.5 323.6 345.5 323.6 346.5 323.7 347.5 324.0 348.2 324.5 348.5 324.8 349.1 325.5 349.5 326.1 349.7 326.5 350.2 327.5 350.5 328.3 350.6 328.5 350.9 329.5 351.2 330.5 351.5 331.4 351.5 331.5 351.8 332.5 352.1 333.5 352.3 334.5 352.4 335.5 352.5 336.5 352.4 337.5 352.3 338.5 352.1 339.5 351.9 340.5 351.5 341.5 351.5 341.6 351.2 342.5 350.7 343.5 350.5 344.1 350.3 344.5 349.8 345.5 349.5 346.2 349.3 346.5 348.8 347.5 348.5 347.9 348.1 348.5 347.5 349.2 347.2 349.5 346.5 350.1 345.7 350.5 345.5 350.6 M273.0 388.5 272.5 388.2 271.5 387.7 271.3 387.5 270.5 386.8 270.2 386.5 269.7 385.5 269.5 384.5 269.5 384.5 269.5 384.5 269.8 383.5 270.5 382.6 270.6 382.5 271.5 382.0 272.5 381.6 272.8 381.5 273.5 381.3 274.5 381.0 275.5 380.7 276.1 380.5 276.5 380.4 277.5 380.0 278.5 379.6 278.8 379.5 279.5 379.2 280.5 378.8 281.3 378.5 281.5 378.4 282.5 378.0 283.5 377.7 284.4 377.5 284.5 377.5 285.5 377.2 286.5 377.0 287.5 376.9 288.5 376.8 289.5 376.7 290.5 376.7 291.5 376.6 292.5 376.6 293.5 376.6 294.5 376.5 294.5 376.5 295.5 376.4 296.5 376.2 297.5 376.0 298.5 375.8 299.5 375.6 299.9 375.5 300.5 375.3 301.5 375.1 302.5 374.9 303.5 374.8 304.5 374.8 305.5 374.8 306.5 374.9 307.5 375.0 308.5 375.1 309.5 375.2 310.5 375.4 311.0 375.5 311.5 375.6 312.5 375.7 313.5 375.8 314.5 375.9 315.5 375.9 316.5 376.0 317.5 376.0 318.5 376.1 319.5 376.1 320.5 376.1 321.5 376.2 322.5 376.2 323.5 376.3 324.5 376.4 325.1 376.5 325.5 376.5 326.5 376.7 327.5 376.8 328.5 377.0 329.5 377.1 330.5 377.3 331.5 377.5 331.6 377.5 332.5 377.6 333.5 377.8 334.5 378.1 335.5 378.3 336.0 378.5 336.5 378.7 337.5 379.0 338.5 379.5 338.5 379.5 339.5 380.0 340.5 380.5 340.5 380.5 341.5 381.2 341.9 381.5 342.5 382.2 342.7 382.5 343.1 383.5 343.1 384.5 342.9 385.5 342.5 386.5 342.5 386.5 342.0 387.5 341.5 388.2 341.2 388.5" stroke="#2a84e0" stroke-width="1.05" stroke-opacity="0.88" fill="none"/>
<path d="M345.5 346.6 344.5 347.1 343.5 347.3 342.5 347.1 341.5 346.5 341.4 346.5 340.5 345.5 340.5 345.5 340.0 344.5 339.6 343.5 339.5 343.2 339.3 342.5 339.1 341.5 339.0 340.5 338.9 339.5 338.8 338.5 338.6 337.5 338.5 336.7 338.5 336.5 338.3 335.5 338.2 334.5 338.1 333.5 338.1 332.5 338.2 331.5 338.5 330.5 338.5 330.5 339.0 329.5 339.5 328.8 339.8 328.5 340.5 328.0 341.4 327.5 341.5 327.5 342.5 327.2 343.5 327.0 344.5 327.0 345.5 327.2 346.2 327.5 346.5 327.7 347.3 328.5 347.5 328.7 348.0 329.5 348.5 330.5 348.5 330.5 348.9 331.5 349.3 332.5 349.5 333.3 349.5 333.5 349.8 334.5 349.9 335.5 349.9 336.5 349.9 337.5 349.7 338.5 349.5 339.4 349.5 339.5 349.2 340.5 348.8 341.5 348.5 342.2 348.4 342.5 347.9 343.5 347.5 344.2 347.3 344.5 346.6 345.5 346.5 345.7 345.6 346.5 345.5 346.6 M277.5 388.5 277.5 388.5 276.5 387.5 276.5 387.5 275.8 386.5 275.5 385.5 275.7 384.5 276.5 383.5 276.5 383.5 277.5 382.6 277.6 382.5 278.5 381.9 279.0 381.5 279.5 381.2 280.5 380.7 280.8 380.5 281.5 380.1 282.5 379.7 283.0 379.5 283.5 379.3 284.5 379.0 285.5 378.7 286.5 378.6 286.9 378.5 287.5 378.4 288.5 378.3 289.5 378.2 290.5 378.2 291.5 378.1 292.5 378.1 293.5 378.1 294.5 378.0 295.5 378.0 296.5 377.8 297.5 377.7 298.5 377.5 298.5 377.5 299.5 377.3 300.5 377.0 301.5 376.9 302.5 376.7 303.5 376.6 304.5 376.6 305.5 376.6 306.5 376.6 307.5 376.7 308.5 376.8 309.5 376.9 310.5 377.0 311.5 377.1 312.5 377.2 313.5 377.2 314.5 377.3 315.5 377.4 316.5 377.4 317.5 377.5 317.8 377.5 318.5 377.5 319.5 377.6 320.5 377.7 321.5 377.7 322.5 377.8 323.5 377.9 324.5 378.1 325.5 378.2 326.5 378.4 327.3 378.5 327.5 378.5 328.5 378.7 329.5 378.9 330.5 379.1 331.5 379.3 332.4 379.5 332.5 379.5 333.5 379.8 334.5 380.1 335.5 380.4 335.6 380.5 336.5 380.9 337.5 381.4 337.7 381.5 338.5 382.1 339.1 382.5 339.5 383.0 339.9 383.5 340.3 384.5 340.4 385.5 340.1 386.5 339.5 387.5 339.5 387.6 338.6 388.5" stroke="#2a84e0" stroke-width="1.05" stroke-opacity="0.88" fill="none"/>
<path d="M344.5 340.2 343.5 340.1 343.0 339.5 342.5 338.7 342.4 338.5 342.2 337.5 342.1 336.5 342.0 335.5 342.2 334.5 342.5 333.5 342.5 333.5 343.5 332.9 344.5 333.2 344.9 333.5 345.5 334.3 345.6 334.5 345.9 335.5 346.1 336.5 346.0 337.5 345.7 338.5 345.5 339.1 345.2 339.5 344.5 340.2 M280.7 388.5 280.5 388.4 279.7 387.5 279.5 387.1 279.2 386.5 279.0 385.5 279.3 384.5 279.5 384.2 280.0 383.5 280.5 383.0 281.0 382.5 281.5 382.2 282.5 381.5 282.6 381.5 283.5 381.1 284.5 380.7 285.0 380.5 285.5 380.3 286.5 380.1 287.5 379.9 288.5 379.8 289.5 379.7 290.5 379.7 291.5 379.7 292.5 379.7 293.5 379.6 294.5 379.6 295.5 379.5 295.8 379.5 296.5 379.4 297.5 379.2 298.5 379.1 299.5 378.9 300.5 378.7 301.5 378.5 301.9 378.5 302.5 378.4 303.5 378.3 304.5 378.3 305.5 378.3 306.5 378.3 307.5 378.4 308.5 378.4 309.1 378.5 309.5 378.5 310.5 378.6 311.5 378.7 312.5 378.7 313.5 378.8 314.5 378.8 315.5 378.9 316.5 378.9 317.5 379.0 318.5 379.1 319.5 379.2 320.5 379.3 321.5 379.4 322.0 379.5 322.5 379.6 323.5 379.7 324.5 379.9 325.5 380.0 326.5 380.2 327.5 380.4 328.3 380.5 328.5 380.5 329.5 380.7 330.5 380.9 331.5 381.2 332.4 381.5 332.5 381.5 333.5 381.9 334.5 382.4 334.8 382.5 335.5 383.0 336.2 383.5 336.5 383.9 337.0 384.5 337.2 385.5 337.0 386.5 336.5 387.3 336.3 387.5 335.5 388.2 335.0 388.5 M325.7 388.5 325.5 388.4 324.5 387.9 323.5 387.6 323.2 387.5 322.5 387.4 321.5 387.4 320.9 387.5 320.5 387.6 319.5 388.0 318.6 388.5" stroke="#2a84e0" stroke-width="1.05" stroke-opacity="0.88" fill="none"/>
<path d="M285.3 388.5 284.5 388.2 283.5 387.7 283.3 387.5 282.5 386.6 282.5 386.5 282.3 385.5 282.5 384.8 282.6 384.5 283.5 383.5 283.5 383.5 284.5 382.8 285.1 382.5 285.5 382.3 286.5 382.0 287.5 381.8 288.5 381.6 289.5 381.5 289.6 381.5 290.5 381.4 291.5 381.4 292.5 381.4 293.5 381.3 294.5 381.3 295.5 381.2 296.5 381.1 297.5 380.9 298.5 380.7 299.5 380.6 300.0 380.5 300.5 380.4 301.5 380.3 302.5 380.2 303.5 380.1 304.5 380.1 305.5 380.1 306.5 380.2 307.5 380.3 308.5 380.3 309.5 380.4 310.5 380.5 311.5 380.5 311.6 380.5 312.5 380.5 313.5 380.6 314.5 380.6 315.5 380.7 316.5 380.8 317.5 380.9 318.5 381.1 319.5 381.4 319.9 381.5 320.5 381.8 321.5 382.2 322.4 382.5 322.5 382.6 323.5 383.1 324.5 383.1 325.5 383.1 326.5 383.0 327.5 383.0 328.5 383.1 329.5 383.3 330.2 383.5 330.5 383.6 331.5 384.2 332.0 384.5 332.5 385.3 332.6 385.5 332.5 385.7 332.0 386.5 331.5 386.8 330.5 387.1 329.5 387.1 328.5 386.9 327.5 386.5 327.4 386.5 326.5 385.9 325.8 385.5 325.5 385.2 324.5 384.6 324.1 384.5 323.5 384.0 322.5 384.1 321.7 384.5 321.5 384.5 320.5 384.9 319.7 385.5 319.5 385.6 318.5 386.2 318.1 386.5 317.5 386.9 316.5 387.5 316.4 387.5 315.5 387.9 314.5 388.3 313.5 388.5 313.2 388.5" stroke="#2a84e0" stroke-width="1.05" stroke-opacity="0.88" fill="none"/>
<path d="M303.5 387.6 302.5 387.9 301.5 388.1 300.5 388.2 299.5 388.2 298.5 388.2 297.5 388.1 296.5 388.0 295.5 387.8 294.5 387.6 294.1 387.5 293.5 387.3 292.5 387.0 291.5 386.7 290.9 386.5 290.5 386.3 289.5 385.6 289.3 385.5 289.5 385.3 290.4 384.5 290.5 384.5 291.5 384.2 292.5 384.0 293.5 383.8 294.5 383.6 294.9 383.5 295.5 383.4 296.5 383.2 297.5 383.0 298.5 382.8 299.5 382.7 300.5 382.5 300.6 382.5 301.5 382.4 302.5 382.4 303.5 382.4 304.4 382.5 304.5 382.5 305.5 382.7 306.5 383.0 307.5 383.2 308.5 383.5 308.8 383.5 309.5 383.7 310.5 383.9 311.5 383.9 312.5 383.9 313.5 384.2 313.8 384.5 313.5 384.7 312.5 385.2 311.5 385.3 310.5 385.4 309.9 385.5 309.5 385.5 308.5 385.7 307.5 386.0 306.6 386.5 306.5 386.5 305.5 386.9 304.5 387.3 303.9 387.5 303.5 387.6" stroke="#2a84e0" stroke-width="1.05" stroke-opacity="0.88" fill="none"/>
</g>
<path d="M138.8 72.0V219.0" stroke="#8e8896" stroke-width="1.7" fill="none"/>
<path d="M46.5 169.4H192.5" stroke="#655c72" stroke-width="1.5" fill="none"/>
<text x="48.10" y="95.50" font-size="21.5" fill="#000">78</text>
<text x="164.06" y="95.50" font-size="21.5" fill="#000">2. </text>
<path d="M583 0H763V1466H646Q599 1377 486 1276Q373 1175 222 1104V930Q306 961 412 1023Q518 1085 583 1147Z" fill="#000" transform="translate(181.99 95.50) scale(0.01050 -0.01050)"/>
<text x="46.88" y="213.50" font-size="21.5" fill="#000"> 0</text>
<path d="M583 0H763V1466H646Q599 1377 486 1276Q373 1175 222 1104V930Q306 961 412 1023Q518 1085 583 1147Z" fill="#000" transform="translate(46.88 213.50) scale(0.01050 -0.01050)"/>
<text x="161.19" y="214.80" font-size="21.5" fill="#000">9.7</text>
<path d="M322.6 72.0V219.0" stroke="#8e8896" stroke-width="1.7" fill="none"/>
<path d="M231.0 168.9H376.0" stroke="#655c72" stroke-width="1.5" fill="none"/>
<text x="232.60" y="95.50" font-size="21.5" fill="#000">66</text>
<text x="344.24" y="95.50" font-size="21.5" fill="#000"> .4</text>
<path d="M583 0H763V1466H646Q599 1377 486 1276Q373 1175 222 1104V930Q306 961 412 1023Q518 1085 583 1147Z" fill="#000" transform="translate(344.24 95.50) scale(0.01050 -0.01050)"/>
<text x="232.62" y="214.80" font-size="21.5" fill="#000">23</text>
<text x="344.56" y="214.80" font-size="21.5" fill="#000">9.6</text>
<path d="M139.2 243.0V389.6" stroke="#8e8896" stroke-width="1.7" fill="none"/>
<path d="M46.5 349.0H192.5" stroke="#655c72" stroke-width="1.5" fill="none"/>
<text x="48.38" y="266.50" font-size="21.5" fill="#000">30</text>
<text x="167.16" y="266.50" font-size="21.5" fill="#000"> 2</text>
<path d="M583 0H763V1466H646Q599 1377 486 1276Q373 1175 222 1104V930Q306 961 412 1023Q518 1085 583 1147Z" fill="#000" transform="translate(167.16 266.50) scale(0.01050 -0.01050)"/>
<text x="48.38" y="385.40" font-size="21.5" fill="#000">37</text>
<text x="170.03" y="385.40" font-size="21.5" fill="#000">2 </text>
<path d="M583 0H763V1466H646Q599 1377 486 1276Q373 1175 222 1104V930Q306 961 412 1023Q518 1085 583 1147Z" fill="#000" transform="translate(181.99 385.40) scale(0.01050 -0.01050)"/>
<path d="M324.9 243.0V389.6" stroke="#8e8896" stroke-width="1.7" fill="none"/>
<path d="M231.0 349.0H376.0" stroke="#655c72" stroke-width="1.5" fill="none"/>
<text x="232.78" y="266.50" font-size="21.5" fill="#000">8.9</text>
<text x="350.53" y="266.50" font-size="21.5" fill="#000"> 3</text>
<path d="M583 0H763V1466H646Q599 1377 486 1276Q373 1175 222 1104V930Q306 961 412 1023Q518 1085 583 1147Z" fill="#000" transform="translate(350.53 266.50) scale(0.01050 -0.01050)"/>
<text x="232.84" y="385.40" font-size="21.5" fill="#000">50</text>
<text x="350.51" y="385.40" font-size="21.5" fill="#000">28</text>
<path d="M138.6 415.0V562.0" stroke="#8e8896" stroke-width="1.7" fill="none"/>
<path d="M46.5 512.4H192.5" stroke="#655c72" stroke-width="1.5" fill="none"/>
<text x="48.10" y="438.50" font-size="21.5" fill="#000">73</text>
<text x="166.93" y="438.50" font-size="21.5" fill="#000">20</text>
<text x="48.71" y="557.80" font-size="21.5" fill="#000">4</text>
<text x="161.19" y="557.80" font-size="21.5" fill="#000">3.2</text>
<path d="M325.0 415.0V562.0" stroke="#8e8896" stroke-width="1.7" fill="none"/>
<path d="M231.0 511.9H376.0" stroke="#655c72" stroke-width="1.5" fill="none"/>
<text x="232.60" y="438.50" font-size="21.5" fill="#000">65</text>
<text x="350.66" y="438.50" font-size="21.5" fill="#000"> 7</text>
<path d="M583 0H763V1466H646Q599 1377 486 1276Q373 1175 222 1104V930Q306 961 412 1023Q518 1085 583 1147Z" fill="#000" transform="translate(350.66 438.50) scale(0.01050 -0.01050)"/>
<text x="232.88" y="557.80" font-size="21.5" fill="#000"> 4</text>
<path d="M583 0H763V1466H646Q599 1377 486 1276Q373 1175 222 1104V930Q306 961 412 1023Q518 1085 583 1147Z" fill="#000" transform="translate(232.88 557.80) scale(0.01050 -0.01050)"/>
<text x="344.56" y="557.80" font-size="21.5" fill="#000">3.6</text>
<path d="M267.8 154.1C248.0 179.7 266.3 200.6 290.0 199.5" fill="none" stroke="#000" stroke-width="6.0"/>
<path d="M287.1 192.8L296.8 197.8L294.7 207.0Z" fill="#000"/>
<path d="M308.8 327.1C289.0 352.7 307.3 373.6 331.0 372.5" fill="none" stroke="#000" stroke-width="6.0"/>
<path d="M328.1 365.8L337.8 370.8L335.7 380.0Z" fill="#000"/>
<path d="M247.5 491.3C233.5 502.5 236.9 524.2 247.0 533.0" fill="none" stroke="#000" stroke-width="5.8"/>
<path d="M249.8 524.6L251.8 535.8L243.2 540.4Z" fill="#000"/>
<text x="32.4" y="19.8" font-size="23.0" fill="#1c20c8" text-anchor="start" font-weight="bold" textLength="459.5" lengthAdjust="spacingAndGlyphs">HDACi cause rapid CD62L downregulation</text>
<text x="76.00" y="55.00" font-size="22" fill="#000" textLength="89.60" lengthAdjust="spacingAndGlyphs">0- 0 min</text>
<path d="M583 0H763V1466H646Q599 1377 486 1276Q373 1175 222 1104V930Q306 961 412 1023Q518 1085 583 1147Z" fill="#000" transform="translate(96.48 55.00) scale(0.01124 -0.01074)"/>
<text x="247.80" y="55.00" font-size="22" fill="#000" textLength="125.20" lengthAdjust="spacingAndGlyphs"> 20- 30 min</text>
<path d="M583 0H763V1466H646Q599 1377 486 1276Q373 1175 222 1104V930Q306 961 412 1023Q518 1085 583 1147Z" fill="#000" transform="translate(247.80 55.00) scale(0.01100 -0.01074)"/>
<path d="M583 0H763V1466H646Q599 1377 486 1276Q373 1175 222 1104V930Q306 961 412 1023Q518 1085 583 1147Z" fill="#000" transform="translate(292.88 55.00) scale(0.01100 -0.01074)"/>
<text x="390.0" y="158.0" font-size="21" fill="#000" text-anchor="start" font-weight="normal" textLength="128.5" lengthAdjust="spacingAndGlyphs">CD4+ T cells</text>
<text x="390.0" y="329.0" font-size="21" fill="#000" text-anchor="start" font-weight="normal" textLength="56.5" lengthAdjust="spacingAndGlyphs">Tregs</text>
<text x="390.0" y="510.0" font-size="21" fill="#000" text-anchor="start" font-weight="normal" textLength="128.9" lengthAdjust="spacingAndGlyphs">CD8+ T cells</text>
<path d="M22 521V590.9H91" fill="none" stroke="#000" stroke-width="1.8"/>
<path d="M16 522L21.7 511.3L27.4 522Z" fill="#000"/>
<path d="M90 585.8L101 590.9L90 596Z" fill="#000"/>
<text x="17.4" y="588.6" font-size="20.5" textLength="60.2" lengthAdjust="spacingAndGlyphs" transform="rotate(-90 17.4 588.6)">CD62L</text>
<text x="32.4" y="608.3" font-size="19.6" textLength="49.2" lengthAdjust="spacingAndGlyphs">CD44</text>
</svg></body></html>
